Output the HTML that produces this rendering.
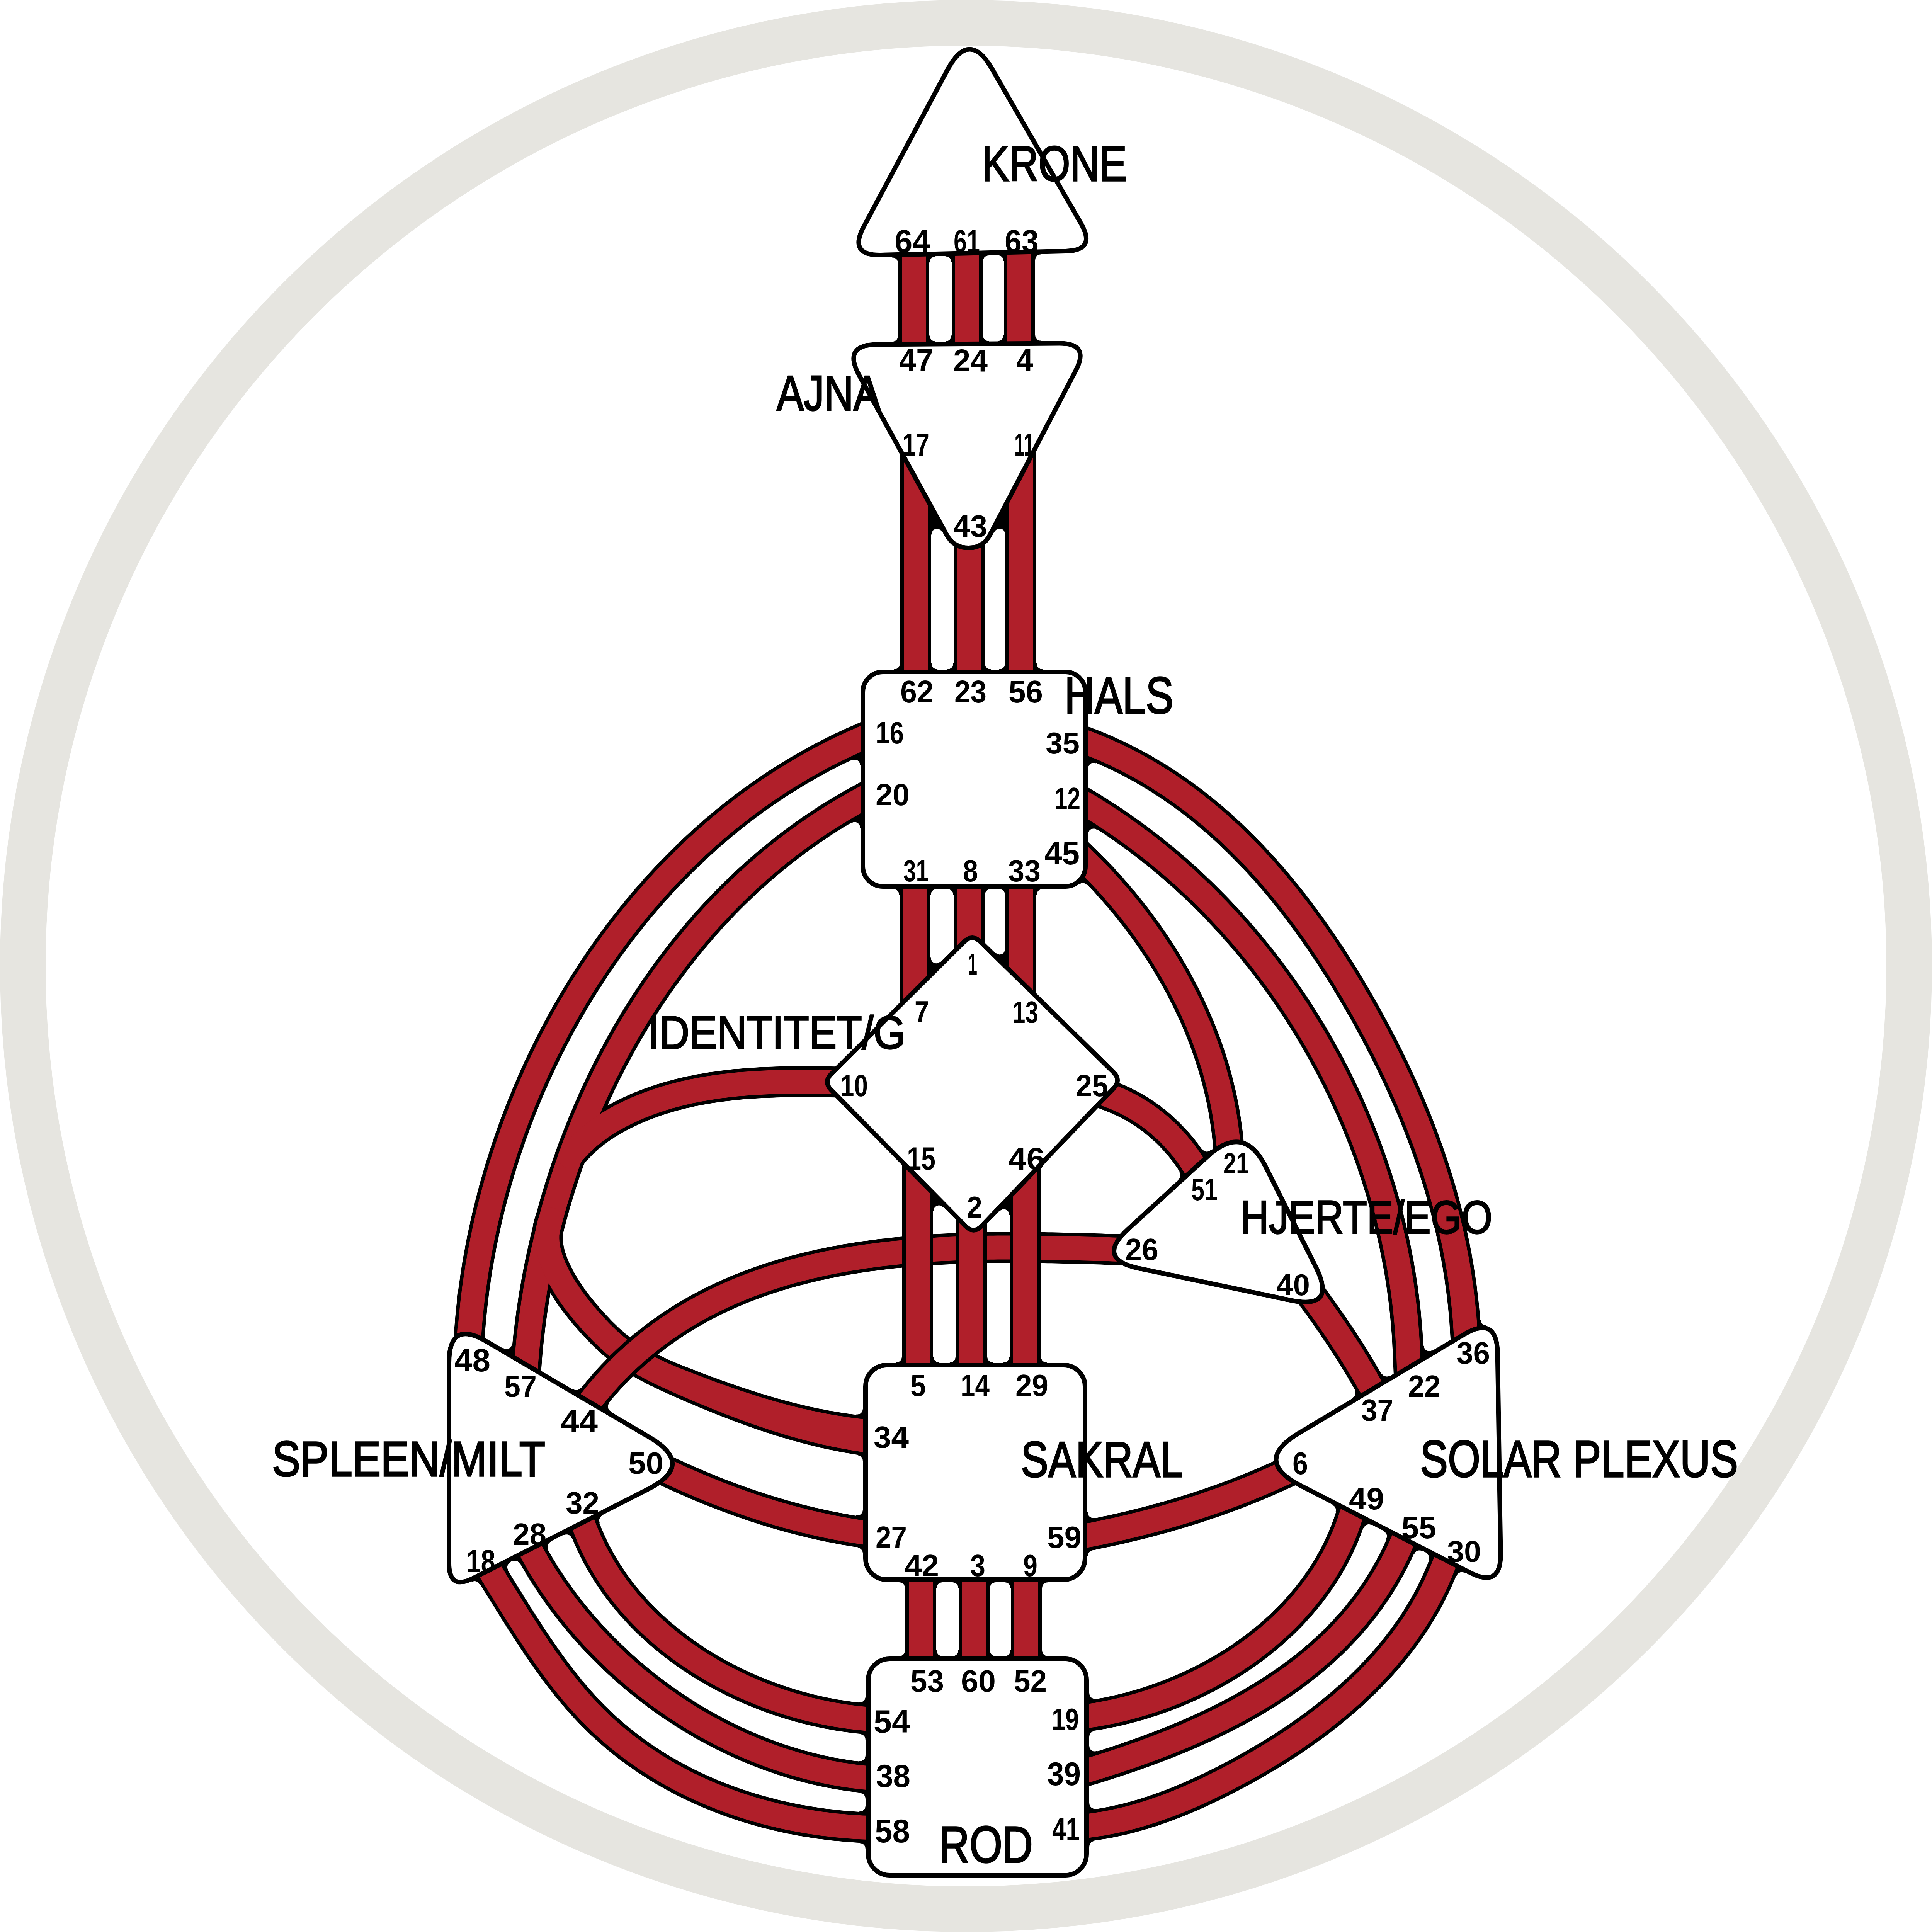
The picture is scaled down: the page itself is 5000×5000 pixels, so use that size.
<!DOCTYPE html>
<html><head><meta charset="utf-8"><style>
html,body{margin:0;padding:0;background:#fff;}
svg{display:block;}
text{font-family:"Liberation Sans",sans-serif;fill:#000;}
</style></head><body>
<svg width="5000" height="5000" viewBox="0 0 5000 5000">
<rect width="5000" height="5000" fill="#fff"/>
<circle cx="2500" cy="2500" r="2441" fill="none" stroke="#e6e5e0" stroke-width="118"/>
<g fill="none" stroke-linecap="butt" stroke-linejoin="round">
<path d="M2285.4 1888.1 L2248.5 1903.5 2239.2 1907.4 2229.9 1911.4 2220.6 1915.4 2211.3 1919.5 2202.1 1923.7 2193 1927.9 2183.8 1932.2 2174.7 1936.5 2165.7 1940.9 2156.6 1945.4 2147.7 1949.9 2138.7 1954.5 2129.8 1959.2 2120.9 1963.9 2112.1 1968.7 2103.3 1973.5 2094.5 1978.4 2085.8 1983.3 2077.1 1988.3 2068.5 1993.4 2059.9 1998.5 2051.3 2003.7 2042.8 2008.9 2034.3 2014.2 2025.8 2019.6 2017.4 2025 2009 2030.4 2000.7 2035.9 1992.4 2041.5 1984.1 2047.1 1975.9 2052.8 1967.7 2058.5 1959.5 2064.3 1951.4 2070.2 1943.3 2076.1 1935.3 2082 1927.3 2088 1919.4 2094 1911.5 2100.1 1903.6 2106.3 1895.7 2112.5 1887.9 2118.7 1880.2 2125 1872.5 2131.4 1864.8 2137.8 1857.2 2144.2 1849.6 2150.7 1842 2157.2 1834.5 2163.8 1827 2170.5 1819.6 2177.2 1812.2 2183.9 1804.8 2190.7 1797.5 2197.5 1790.2 2204.4 1783 2211.3 1775.8 2218.2 1768.7 2225.2 1761.6 2232.3 1754.5 2239.4 1747.5 2246.5 1740.5 2253.7 1733.5 2260.9 1726.6 2268.2 1719.8 2275.5 1713 2282.8 1706.2 2290.2 1699.5 2297.6 1692.8 2305.1 1686.1 2312.6 1679.5 2320.2 1672.9 2327.8 1666.4 2335.4 1659.9 2343.1 1653.5 2350.8 1647.1 2358.5 1640.7 2366.3 1634.4 2374.1 1628.2 2382 1621.9 2389.9 1615.8 2397.8 1609.6 2405.8 1603.5 2413.8 1597.5 2421.8 1591.5 2429.9 1585.5 2438 1579.6 2446.2 1573.7 2454.3 1567.9 2462.5 1562.1 2470.8 1556.3 2479.1 1550.6 2487.4 1545 2495.7 1539.4 2504.1 1533.8 2512.5 1528.3 2520.9 1522.8 2529.4 1517.3 2537.9 1511.9 2546.4 1506.6 2555 1501.3 2563.6 1496 2572.2 1490.8 2580.8 1485.6 2589.5 1480.5 2598.2 1475.4 2607 1470.4 2615.7 1465.4 2624.5 1460.5 2633.3 1455.6 2642.2 1450.7 2651 1445.9 2659.9 1441.2 2668.8 1436.5 2677.8 1431.8 2686.7 1427.2 2695.7 1422.6 2704.7 1418.1 2713.8 1413.6 2722.8 1409.1 2731.9 1404.7 2741 1400.4 2750.2 1396.1 2759.3 1391.8 2768.5 1387.6 2777.7 1383.5 2786.9 1379.4 2796.1 1375.3 2805.4 1371.3 2814.6 1367.3 2823.9 1363.4 2833.2 1359.5 2842.6 1355.7 2851.9 1351.9 2861.3 1348.2 2870.7 1344.5 2880.1 1340.9 2889.5 1337.3 2898.9 1333.7 2908.4 1330.3 2917.8 1326.8 2927.3 1323.4 2936.8 1320.1 2946.3 1316.8 2955.9 1313.5 2965.4 1310.3 2975 1307.2 2984.5 1304.1 2994.1 1301 3003.7 1298 3013.3 1295 3022.9 1292.1 3032.6 1289.3 3042.2 1286.5 3051.9 1283.7 3061.5 1281 3071.2 1278.3 3080.9 1275.7 3090.6 1273.2 3100.3 1270.6 3110 1268.2 3119.7 1265.8 3129.4 1263.4 3139.2 1261.1 3148.9 1258.8 3158.7 1256.6 3168.4 1254.5 3178.2 1252.4 3188 1250.3 3197.7 1248.3 3207.5 1246.3 3217.3 1244.4 3227.1 1242.6 3236.9 1240.8 3246.7 1239 3256.5 1237.3 3266.3 1235.6 3276.1 1234 3285.9 1232.5 3295.7 1231 3305.5 1229.6 3315.4 1228.2 3325.2 1226.8 3335 1225.5 3344.8 1224.3 3354.6 1223.1 3364.5 1222 3374.3 1220.9 3384.1 1219.9 3393.9 1218.9 3403.7 1218 3413.5 1217.1 3423.4 1216.3 3433.2 1215.5 3443 1212.4 3482.8" stroke="#000" stroke-width="80"/>
<path d="M2770.6 1905.9 L2808 1920 2817.5 1923.6 2827 1927.3 2836.4 1931.1 2845.7 1934.9 2855 1938.8 2864.2 1942.9 2873.4 1947 2882.5 1951.2 2891.6 1955.4 2900.6 1959.8 2909.6 1964.2 2918.5 1968.8 2927.3 1973.4 2936.1 1978 2944.9 1982.8 2953.6 1987.6 2962.2 1992.5 2970.8 1997.5 2979.4 2002.6 2987.8 2007.7 2996.3 2012.9 3004.7 2018.2 3013 2023.6 3021.3 2029 3029.5 2034.5 3037.7 2040.1 3045.8 2045.7 3053.9 2051.4 3061.9 2057.2 3069.9 2063 3077.8 2068.9 3085.7 2074.9 3093.6 2080.9 3101.3 2087.1 3109.1 2093.2 3116.8 2099.5 3124.4 2105.8 3132 2112.1 3139.5 2118.5 3147 2125 3154.5 2131.5 3161.9 2138.1 3169.2 2144.8 3176.5 2151.5 3183.8 2158.3 3191 2165.1 3198.2 2172 3205.3 2178.9 3212.4 2185.9 3219.4 2193 3226.4 2200.1 3233.3 2207.2 3240.2 2214.4 3247.1 2221.7 3253.9 2229 3260.7 2236.3 3267.4 2243.7 3274.1 2251.1 3280.7 2258.6 3287.3 2266.2 3293.9 2273.8 3300.4 2281.4 3306.8 2289 3313.3 2296.8 3319.6 2304.5 3326 2312.3 3332.3 2320.2 3338.5 2328 3344.8 2336 3350.9 2343.9 3357.1 2351.9 3363.2 2359.9 3369.2 2368 3375.2 2376.1 3381.2 2384.3 3387.1 2392.4 3393 2400.6 3398.9 2408.9 3404.7 2417.2 3410.5 2425.5 3416.2 2433.8 3421.9 2442.2 3427.6 2450.6 3433.2 2459 3438.8 2467.5 3444.4 2475.9 3449.9 2484.5 3455.4 2493 3460.8 2501.5 3466.2 2510.1 3471.6 2518.7 3477 2527.4 3482.3 2536 3487.5 2544.7 3492.8 2553.4 3498 2562.1 3503.1 2570.9 3508.2 2579.6 3513.3 2588.4 3518.4 2597.2 3523.4 2606 3528.4 2614.8 3533.4 2623.7 3538.3 2632.5 3543.2 2641.4 3548 2650.3 3552.9 2659.2 3557.6 2668.1 3562.4 2677 3567.1 2686 3571.8 2695 3576.4 2704 3581 2713 3585.5 2722 3590.1 2731 3594.5 2740.1 3599 2749.1 3603.4 2758.2 3607.7 2767.3 3612.1 2776.4 3616.3 2785.5 3620.6 2794.7 3624.8 2803.8 3628.9 2813 3633 2822.2 3637.1 2831.4 3641.1 2840.6 3645.1 2849.8 3649.1 2859.1 3653 2868.4 3656.8 2877.6 3660.6 2886.9 3664.4 2896.2 3668.1 2905.5 3671.8 2914.9 3675.4 2924.2 3679 2933.6 3682.5 2943 3686 2952.4 3689.5 2961.8 3692.8 2971.2 3696.2 2980.6 3699.5 2990.1 3702.7 2999.6 3705.9 3009 3709.1 3018.5 3712.2 3028 3715.2 3037.6 3718.2 3047.1 3721.2 3056.6 3724.1 3066.2 3726.9 3075.8 3729.7 3085.4 3732.4 3095 3735.1 3104.6 3737.7 3114.2 3740.3 3123.8 3742.8 3133.5 3745.3 3143.2 3747.7 3152.9 3750.1 3162.6 3752.4 3172.3 3754.6 3182 3756.8 3191.7 3759 3201.5 3761 3211.2 3763.1 3221 3765 3230.8 3766.9 3240.6 3768.8 3250.4 3770.6 3260.2 3772.3 3270.1 3774 3279.9 3775.6 3289.8 3777.2 3299.6 3778.6 3309.5 3780.1 3319.4 3781.5 3329.3 3782.8 3339.3 3784 3349.2 3785.2 3359.1 3786.3 3369.1 3787.4 3379.1 3788.4 3389 3789.3 3399 3790.2 3409 3791 3419.1 3791.7 3429.1 3792.4 3439.1 3795.1 3479" stroke="#000" stroke-width="80"/>
<path d="M2771.1 2057.8 L2805.5 2078.3 2814.1 2083.4 2822.7 2088.6 2831.3 2093.9 2839.8 2099.2 2848.3 2104.5 2856.7 2109.9 2865.1 2115.4 2873.5 2120.9 2881.8 2126.5 2890.1 2132.1 2898.4 2137.8 2906.6 2143.5 2914.8 2149.3 2922.9 2155.1 2931.1 2161 2939.1 2166.9 2947.2 2172.9 2955.2 2178.9 2963.2 2185 2971.1 2191.1 2979 2197.3 2986.8 2203.5 2994.7 2209.8 3002.4 2216.1 3010.2 2222.5 3017.9 2228.9 3025.5 2235.4 3033.2 2241.9 3040.7 2248.4 3048.3 2255 3055.8 2261.7 3063.3 2268.4 3070.7 2275.1 3078.1 2281.9 3085.4 2288.8 3092.7 2295.6 3100 2302.6 3107.2 2309.5 3114.4 2316.5 3121.5 2323.6 3128.7 2330.7 3135.7 2337.8 3142.7 2345 3149.7 2352.2 3156.7 2359.5 3163.5 2366.8 3170.4 2374.1 3177.2 2381.5 3184 2388.9 3190.7 2396.4 3197.4 2403.9 3204 2411.4 3210.6 2419 3217.2 2426.6 3223.7 2434.3 3230.2 2442 3236.6 2449.7 3243 2457.5 3249.3 2465.3 3255.6 2473.1 3261.9 2481 3268.1 2488.9 3274.2 2496.9 3280.4 2504.9 3286.4 2512.9 3292.5 2521 3298.4 2529.1 3304.4 2537.2 3310.3 2545.4 3316.1 2553.6 3321.9 2561.8 3327.7 2570.1 3333.4 2578.4 3339.1 2586.7 3344.7 2595 3350.2 2603.4 3355.8 2611.9 3361.2 2620.3 3366.7 2628.8 3372.1 2637.3 3377.4 2645.9 3382.7 2654.4 3387.9 2663.1 3393.1 2671.7 3398.3 2680.4 3403.4 2689 3408.4 2697.8 3413.4 2706.5 3418.4 2715.3 3423.3 2724.1 3428.1 2732.9 3432.9 2741.8 3437.7 2750.7 3442.4 2759.6 3447 2768.5 3451.7 2777.5 3456.2 2786.5 3460.7 2795.5 3465.2 2804.5 3469.6 2813.6 3473.9 2822.7 3478.3 2831.8 3482.5 2840.9 3486.7 2850.1 3490.9 2859.2 3495 2868.4 3499 2877.7 3503 2886.9 3507 2896.2 3510.9 2905.5 3514.7 2914.8 3518.5 2924.1 3522.2 2933.4 3525.9 2942.8 3529.6 2952.2 3533.2 2961.6 3536.7 2971 3540.2 2980.5 3543.6 2989.9 3547 2999.4 3550.3 3008.9 3553.5 3018.4 3556.7 3027.9 3559.9 3037.5 3563 3047.1 3566 3056.6 3569 3066.2 3572 3075.8 3574.9 3085.5 3577.7 3095.1 3580.5 3104.8 3583.2 3114.4 3585.8 3124.1 3588.4 3133.8 3591 3143.5 3593.5 3153.2 3595.9 3163 3598.3 3172.7 3600.6 3182.5 3602.9 3192.3 3605.1 3202 3607.3 3211.8 3609.4 3221.6 3611.4 3231.5 3613.4 3241.3 3615.3 3251.1 3617.2 3261 3619 3270.8 3620.8 3280.7 3622.5 3290.5 3624.1 3300.4 3625.7 3310.3 3627.2 3320.2 3628.7 3330.1 3630.1 3340 3631.4 3349.9 3632.7 3359.8 3633.9 3369.8 3635.1 3379.7 3636.2 3389.6 3637.2 3399.6 3638.2 3409.5 3639.1 3419.5 3640 3429.4 3640.8 3439.4 3641.6 3449.4 3642.2 3459.3 3642.9 3469.3 3643.4 3479.3 3643.9 3489.2 3644.4 3499.2 3647.9 3579.1" stroke="#000" stroke-width="80"/>
<path d="M2777.1 2196.6 L2805.7 2224.6 2812.9 2231.6 2820 2238.6 2827 2245.7 2834 2252.8 2841 2260.1 2847.9 2267.3 2854.8 2274.6 2861.6 2282 2868.3 2289.4 2875.1 2296.9 2881.7 2304.5 2888.3 2312 2894.9 2319.7 2901.4 2327.4 2907.9 2335.1 2914.3 2342.9 2920.6 2350.8 2926.9 2358.7 2933.1 2366.6 2939.3 2374.6 2945.4 2382.6 2951.5 2390.7 2957.5 2398.9 2963.4 2407.1 2969.3 2415.3 2975.1 2423.6 2980.8 2431.9 2986.5 2440.3 2992.1 2448.7 2997.7 2457.2 3003.2 2465.7 3008.6 2474.2 3013.9 2482.8 3019.2 2491.4 3024.4 2500.1 3029.6 2508.8 3034.7 2517.6 3039.7 2526.3 3044.6 2535.2 3049.4 2544 3054.2 2553 3058.9 2561.9 3063.6 2570.9 3068.1 2579.9 3072.6 2589 3077 2598.1 3081.3 2607.2 3085.6 2616.3 3089.8 2625.5 3093.8 2634.8 3097.8 2644 3101.8 2653.3 3105.6 2662.7 3109.4 2672 3113 2681.4 3116.6 2690.8 3120.1 2700.3 3123.5 2709.8 3126.9 2719.3 3130.1 2728.8 3133.3 2738.4 3136.3 2748 3139.3 2757.6 3142.2 2767.2 3144.9 2776.9 3147.6 2786.6 3150.2 2796.3 3152.7 2806.1 3155.1 2815.9 3157.5 2825.7 3159.7 2835.5 3161.8 2845.3 3163.8 2855.2 3165.7 2865.1 3167.6 2875 3169.3 2884.9 3170.9 2894.9 3172.4 2904.8 3173.8 2914.8 3175.2 2924.8 3176.4 2934.8 3177.5 2944.9 3178.5 2954.9 3182.4 2994.7" stroke="#000" stroke-width="80"/>
<path d="M2836.7 2822.5 L2874 2837 2883.4 2840.7 2892.8 2844.6 2902 2848.7 2911.1 2853 2920.1 2857.6 2929 2862.3 2937.8 2867.3 2946.4 2872.5 2954.9 2877.9 2963.3 2883.4 2971.6 2889.2 2979.7 2895.2 2987.7 2901.3 2995.5 2907.6 3003.2 2914.1 3010.7 2920.8 3018.1 2927.6 3025.3 2934.6 3032.3 2941.8 3039.2 2949.1 3045.9 2956.6 3052.5 2964.3 3058.9 2972 3065.1 2980 3071.1 2988 3076.9 2996.2 3082.5 3004.5 3088 3013 3109.7 3046.6" stroke="#000" stroke-width="80"/>
<path d="M3376.5 3328.6 L3400 3361 3405.9 3369.2 3411.8 3377.3 3417.6 3385.5 3423.5 3393.7 3429.3 3401.9 3435.1 3410.2 3440.8 3418.4 3446.5 3426.7 3452.2 3435 3457.9 3443.4 3463.5 3451.7 3469.1 3460.1 3474.6 3468.5 3480.1 3476.9 3485.6 3485.3 3491.1 3493.8 3496.5 3502.3 3501.8 3510.8 3507.1 3519.4 3512.4 3527.9 3517.6 3536.5 3522.8 3545.2 3527.9 3553.8 3533 3562.5 3538 3571.2 3543 3580 3562.8 3614.8" stroke="#000" stroke-width="80"/>
<path d="M1698.8 3794.9 L1735.1 3811.7 1744.2 3815.9 1753.3 3820.1 1762.4 3824.2 1771.5 3828.3 1780.7 3832.3 1789.9 3836.3 1799.1 3840.3 1808.3 3844.2 1817.5 3848.1 1826.8 3851.9 1836 3855.7 1845.3 3859.4 1854.6 3863.1 1863.9 3866.7 1873.3 3870.3 1882.6 3873.8 1892 3877.3 1901.4 3880.8 1910.8 3884.2 1920.2 3887.5 1929.7 3890.8 1939.1 3894.1 1948.6 3897.3 1958.1 3900.4 1967.6 3903.5 1977.1 3906.6 1986.6 3909.5 1996.2 3912.5 2005.8 3915.4 2015.4 3918.2 2025 3920.9 2034.6 3923.7 2044.2 3926.3 2053.9 3928.9 2063.5 3931.5 2073.2 3933.9 2082.9 3936.4 2092.6 3938.7 2102.3 3941.1 2112.1 3943.3 2121.8 3945.5 2131.6 3947.6 2141.4 3949.7 2151.2 3951.7 2161 3953.6 2170.8 3955.5 2180.7 3957.3 2190.5 3959.1 2200.4 3960.8 2210.3 3962.4 2220.2 3964 2230.1 3965.5 2240 3966.9 2279.6 3972.6" stroke="#000" stroke-width="80"/>
<path d="M1497.4 3913.1 L1511.7 3950.5 1515.4 3960 1519.2 3969.4 1523.1 3978.8 1527.2 3988 1531.4 3997.2 1535.7 4006.3 1540.2 4015.3 1544.9 4024.2 1549.6 4033.1 1554.5 4041.8 1559.5 4050.5 1564.7 4059.1 1570 4067.6 1575.4 4076 1580.9 4084.4 1586.6 4092.6 1592.3 4100.8 1598.2 4108.9 1604.2 4116.9 1610.3 4124.8 1616.6 4132.6 1622.9 4140.3 1629.4 4148 1636 4155.5 1642.6 4163 1649.4 4170.4 1656.3 4177.7 1663.3 4184.9 1670.3 4192 1677.5 4199 1684.8 4206 1692.2 4212.8 1699.6 4219.6 1707.2 4226.3 1714.8 4232.8 1722.5 4239.3 1730.3 4245.7 1738.2 4252 1746.2 4258.2 1754.3 4264.3 1762.4 4270.4 1770.6 4276.3 1778.9 4282.1 1787.2 4287.9 1795.7 4293.5 1804.2 4299.1 1812.7 4304.6 1821.4 4309.9 1830.1 4315.2 1838.8 4320.4 1847.6 4325.5 1856.5 4330.5 1865.5 4335.3 1874.4 4340.1 1883.5 4344.8 1892.6 4349.4 1901.7 4353.9 1910.9 4358.3 1920.2 4362.7 1929.5 4366.9 1938.8 4371 1948.1 4375 1957.6 4378.9 1967 4382.7 1976.5 4386.4 1986 4390.1 1995.6 4393.6 2005.1 4397 2014.7 4400.3 2024.4 4403.5 2034.1 4406.6 2043.7 4409.6 2053.4 4412.6 2063.2 4415.4 2072.9 4418.1 2082.7 4420.7 2092.5 4423.2 2102.3 4425.6 2112.1 4427.9 2121.9 4430 2131.7 4432.1 2141.5 4434.1 2151.4 4436 2161.2 4437.8 2171 4439.4 2180.9 4441 2190.7 4442.4 2200.5 4443.8 2210.4 4445 2220.2 4446.2 2230 4447.2 2239.8 4448.1 2279.6 4451.8" stroke="#000" stroke-width="80"/>
<path d="M1358.9 3986.9 L1378.4 4021.9 1383.2 4030.5 1388.1 4039.1 1393.1 4047.6 1398.1 4056.2 1403.3 4064.6 1408.5 4073.1 1413.8 4081.5 1419.2 4089.8 1424.7 4098.1 1430.3 4106.4 1435.9 4114.6 1441.6 4122.7 1447.5 4130.9 1453.3 4138.9 1459.3 4147 1465.3 4155 1471.4 4162.9 1477.6 4170.8 1483.9 4178.6 1490.2 4186.4 1496.6 4194.1 1503.1 4201.8 1509.6 4209.4 1516.3 4217 1522.9 4224.5 1529.7 4232 1536.5 4239.4 1543.4 4246.8 1550.4 4254.1 1557.4 4261.3 1564.5 4268.5 1571.7 4275.6 1578.9 4282.7 1586.2 4289.7 1593.5 4296.7 1600.9 4303.5 1608.4 4310.4 1615.9 4317.1 1623.5 4323.9 1631.2 4330.5 1638.9 4337.1 1646.6 4343.6 1654.4 4350 1662.3 4356.4 1670.3 4362.8 1678.2 4369 1686.3 4375.2 1694.4 4381.3 1702.5 4387.4 1710.7 4393.4 1719 4399.3 1727.3 4405.1 1735.6 4410.9 1744 4416.6 1752.5 4422.2 1760.9 4427.8 1769.5 4433.3 1778.1 4438.7 1786.7 4444 1795.4 4449.3 1804.1 4454.5 1812.8 4459.6 1821.6 4464.6 1830.5 4469.6 1839.4 4474.4 1848.3 4479.2 1857.3 4484 1866.3 4488.6 1875.3 4493.2 1884.4 4497.6 1893.5 4502 1902.6 4506.3 1911.8 4510.6 1921 4514.7 1930.3 4518.8 1939.6 4522.8 1948.9 4526.7 1958.2 4530.5 1967.6 4534.2 1977 4537.8 1986.4 4541.4 1995.9 4544.8 2005.4 4548.2 2014.9 4551.5 2024.4 4554.6 2034 4557.7 2043.6 4560.7 2053.2 4563.7 2062.9 4566.5 2072.5 4569.2 2082.2 4571.8 2091.9 4574.4 2101.6 4576.8 2111.4 4579.2 2121.1 4581.4 2130.9 4583.6 2140.7 4585.6 2150.5 4587.6 2160.4 4589.4 2170.2 4591.2 2180.1 4592.8 2189.9 4594.4 2199.8 4595.8 2209.7 4597.2 2219.6 4598.4 2229.5 4599.6 2239.5 4600.6 2279.3 4604.8" stroke="#000" stroke-width="80"/>
<path d="M1257.5 4048.7 L1278.6 4082.7 1283.8 4091.1 1289 4099.4 1294.2 4107.9 1299.4 4116.3 1304.6 4124.7 1309.9 4133.2 1315.1 4141.7 1320.4 4150.2 1325.7 4158.7 1331 4167.2 1336.4 4175.7 1341.7 4184.2 1347.1 4192.7 1352.6 4201.2 1358 4209.7 1363.5 4218.2 1369 4226.7 1374.6 4235.1 1380.1 4243.6 1385.8 4252 1391.4 4260.4 1397.1 4268.8 1402.9 4277.1 1408.6 4285.4 1414.5 4293.7 1420.3 4301.9 1426.3 4310.1 1432.2 4318.3 1438.2 4326.4 1444.3 4334.5 1450.4 4342.5 1456.6 4350.4 1462.9 4358.3 1469.1 4366.2 1475.5 4374 1481.9 4381.7 1488.4 4389.3 1494.9 4396.9 1501.5 4404.4 1508.2 4411.9 1515 4419.2 1521.8 4426.5 1528.7 4433.7 1535.6 4440.8 1542.7 4447.8 1549.8 4454.7 1556.9 4461.6 1564.2 4468.3 1571.5 4475 1578.9 4481.6 1586.4 4488.1 1593.9 4494.5 1601.5 4500.8 1609.2 4507 1616.9 4513.2 1624.7 4519.2 1632.6 4525.2 1640.5 4531 1648.5 4536.8 1656.6 4542.5 1664.7 4548.1 1672.8 4553.7 1681.1 4559.1 1689.4 4564.5 1697.7 4569.7 1706.1 4574.9 1714.6 4580 1723.1 4585 1731.7 4589.9 1740.3 4594.8 1749 4599.5 1757.7 4604.2 1766.5 4608.8 1775.3 4613.3 1784.2 4617.7 1793.1 4622 1802.1 4626.2 1811.1 4630.4 1820.2 4634.4 1829.3 4638.4 1838.4 4642.3 1847.6 4646.1 1856.9 4649.8 1866.1 4653.5 1875.5 4657 1884.8 4660.5 1894.2 4663.9 1903.7 4667.2 1913.1 4670.4 1922.6 4673.5 1932.2 4676.6 1941.8 4679.6 1951.4 4682.4 1961 4685.2 1970.7 4687.9 1980.4 4690.6 1990.1 4693.1 1999.9 4695.6 2009.7 4698 2019.5 4700.3 2029.4 4702.5 2039.2 4704.6 2049.1 4706.6 2059 4708.6 2069 4710.5 2079 4712.3 2088.9 4714 2099 4715.6 2109 4717.2 2119 4718.6 2129.1 4720 2139.2 4721.3 2149.3 4722.5 2159.4 4723.7 2169.5 4724.7 2179.7 4725.7 2189.8 4726.6 2200 4727.4 2210.2 4728.1 2220.3 4728.8 2230.5 4729.4 2240.7 4729.8 2280.7 4731.7" stroke="#000" stroke-width="80"/>
<path d="M2778.8 3980.7 L2818 3973 2827.9 3971.1 2837.7 3969.1 2847.5 3967.1 2857.4 3965 2867.2 3962.9 2877 3960.8 2886.8 3958.7 2896.6 3956.5 2906.4 3954.2 2916.2 3951.9 2926 3949.6 2935.7 3947.2 2945.5 3944.8 2955.2 3942.4 2965 3939.9 2974.7 3937.4 2984.4 3934.8 2994.1 3932.2 3003.8 3929.6 3013.5 3926.9 3023.1 3924.2 3032.8 3921.4 3042.4 3918.6 3052.1 3915.7 3061.7 3912.8 3071.3 3909.8 3080.9 3906.8 3090.4 3903.8 3100 3900.7 3109.5 3897.6 3119.1 3894.4 3128.6 3891.2 3138.1 3887.9 3147.6 3884.6 3157 3881.3 3166.5 3877.9 3175.9 3874.4 3185.3 3870.9 3194.7 3867.4 3204.1 3863.8 3213.5 3860.1 3222.8 3856.4 3232.1 3852.7 3241.4 3848.9 3250.7 3845.1 3260 3841.2 3269.2 3837.2 3278.4 3833.3 3287.7 3829.2 3296.8 3825.1 3306 3821 3342.5 3804.5" stroke="#000" stroke-width="80"/>
<path d="M3506.3 3894.2 L3493.4 3932.1 3490.1 3941.8 3486.7 3951.4 3483.1 3960.9 3479.3 3970.4 3475.4 3979.8 3471.4 3989 3467.2 3998.2 3462.9 4007.4 3458.4 4016.4 3453.8 4025.3 3449 4034.2 3444.1 4043 3439.1 4051.7 3434 4060.3 3428.7 4068.8 3423.3 4077.3 3417.8 4085.7 3412.1 4093.9 3406.3 4102.1 3400.4 4110.2 3394.4 4118.2 3388.3 4126.2 3382 4134 3375.7 4141.7 3369.2 4149.4 3362.6 4157 3355.9 4164.5 3349.2 4171.9 3342.3 4179.2 3335.3 4186.4 3328.2 4193.5 3321 4200.5 3313.7 4207.5 3306.3 4214.3 3298.8 4221.1 3291.2 4227.8 3283.6 4234.4 3275.8 4240.9 3268 4247.2 3260.1 4253.5 3252.1 4259.8 3244 4265.9 3235.9 4271.9 3227.6 4277.8 3219.3 4283.7 3211 4289.4 3202.5 4295 3194 4300.6 3185.4 4306 3176.8 4311.4 3168.1 4316.6 3159.3 4321.8 3150.5 4326.9 3141.6 4331.8 3132.6 4336.7 3123.7 4341.5 3114.6 4346.1 3105.5 4350.7 3096.4 4355.2 3087.2 4359.6 3077.9 4363.9 3068.7 4368 3059.3 4372.1 3050 4376.1 3040.6 4380 3031.1 4383.7 3021.7 4387.4 3012.2 4391 3002.7 4394.4 2993.1 4397.8 2983.5 4401.1 2973.9 4404.2 2964.3 4407.3 2954.6 4410.2 2945 4413.1 2935.3 4415.8 2925.6 4418.5 2915.9 4421 2906.2 4423.4 2896.4 4425.8 2886.7 4428 2877 4430.1 2867.2 4432.1 2857.5 4434 2847.7 4435.8 2838 4437.5 2828.2 4439.1 2818.5 4440.5 2778.9 4446.5" stroke="#000" stroke-width="80"/>
<path d="M3642 3961.6 L3625.7 3998.2 3621.4 4007.8 3617 4017.4 3612.5 4026.9 3607.8 4036.2 3603.1 4045.5 3598.3 4054.6 3593.3 4063.7 3588.2 4072.7 3583.1 4081.6 3577.8 4090.3 3572.4 4099 3567 4107.6 3561.4 4116.1 3555.7 4124.5 3550 4132.9 3544.1 4141.1 3538.1 4149.2 3532.1 4157.3 3525.9 4165.2 3519.7 4173.1 3513.4 4180.9 3507 4188.6 3500.5 4196.2 3493.9 4203.7 3487.2 4211.1 3480.5 4218.5 3473.6 4225.8 3466.7 4232.9 3459.7 4240.1 3452.7 4247.1 3445.5 4254 3438.3 4260.9 3431 4267.7 3423.6 4274.4 3416.2 4281 3408.6 4287.5 3401.1 4294 3393.4 4300.4 3385.7 4306.7 3377.9 4313 3370 4319.1 3362.1 4325.2 3354.1 4331.3 3346.1 4337.2 3338 4343.1 3329.8 4348.9 3321.6 4354.6 3313.4 4360.3 3305 4365.9 3296.7 4371.4 3288.2 4376.9 3279.7 4382.3 3271.2 4387.6 3262.6 4392.9 3254 4398.1 3245.3 4403.2 3236.6 4408.3 3227.8 4413.3 3219 4418.2 3210.2 4423.1 3201.3 4428 3192.3 4432.7 3183.4 4437.4 3174.4 4442.1 3165.3 4446.6 3156.3 4451.2 3147.2 4455.6 3138 4460 3128.9 4464.4 3119.7 4468.7 3110.5 4472.9 3101.2 4477.1 3091.9 4481.3 3082.6 4485.4 3073.3 4489.4 3064 4493.4 3054.6 4497.3 3045.2 4501.2 3035.8 4505 3026.4 4508.8 3017 4512.6 3007.5 4516.2 2998.1 4519.9 2988.6 4523.5 2979.1 4527 2969.7 4530.5 2960.2 4534 2950.7 4537.4 2941.1 4540.8 2931.6 4544.1 2922.1 4547.4 2912.6 4550.7 2903.1 4553.9 2893.6 4557.1 2884.1 4560.2 2874.5 4563.3 2865 4566.4 2855.5 4569.4 2846 4572.4 2836.6 4575.3 2827.1 4578.2 2817.6 4581.1 2779.3 4592.8" stroke="#000" stroke-width="80"/>
<path d="M3749 4019.6 L3734.1 4056.7 3730.3 4066.1 3726.4 4075.4 3722.4 4084.6 3718.3 4093.7 3714.1 4102.8 3709.7 4111.8 3705.3 4120.8 3700.7 4129.7 3696.1 4138.5 3691.3 4147.3 3686.4 4155.9 3681.4 4164.6 3676.3 4173.1 3671.1 4181.6 3665.8 4190 3660.5 4198.4 3655 4206.7 3649.4 4214.9 3643.7 4223 3637.9 4231.1 3632 4239.2 3626.1 4247.1 3620 4255 3613.9 4262.9 3607.7 4270.7 3601.3 4278.4 3594.9 4286 3588.5 4293.6 3581.9 4301.1 3575.2 4308.6 3568.5 4316 3561.7 4323.3 3554.8 4330.6 3547.9 4337.8 3540.8 4345 3533.7 4352.1 3526.5 4359.1 3519.3 4366.1 3512 4373 3504.6 4379.9 3497.1 4386.7 3489.6 4393.4 3482 4400.1 3474.3 4406.7 3466.6 4413.3 3458.9 4419.8 3451 4426.2 3443.1 4432.6 3435.2 4438.9 3427.2 4445.2 3419.2 4451.4 3411 4457.6 3402.9 4463.7 3394.7 4469.7 3386.4 4475.7 3378.1 4481.6 3369.8 4487.5 3361.4 4493.3 3352.9 4499.1 3344.5 4504.8 3336 4510.5 3327.4 4516.1 3318.8 4521.6 3310.2 4527.1 3301.5 4532.6 3292.8 4538 3284.1 4543.3 3275.3 4548.6 3266.5 4553.8 3257.7 4559 3248.8 4564.1 3239.9 4569.2 3231 4574.2 3222.1 4579.2 3213.1 4584.1 3204.2 4588.9 3195.2 4593.8 3186.2 4598.5 3177.1 4603.2 3168.1 4607.9 3159 4612.5 3149.9 4617 3140.8 4621.5 3131.7 4625.9 3122.6 4630.3 3113.4 4634.6 3104.2 4638.8 3095 4643 3085.8 4647.1 3076.6 4651.1 3067.3 4655 3058.1 4658.9 3048.8 4662.7 3039.5 4666.4 3030.1 4670 3020.8 4673.5 3011.4 4677 3002 4680.3 2992.6 4683.6 2983.2 4686.8 2973.7 4689.8 2964.2 4692.8 2954.7 4695.7 2945.2 4698.5 2935.7 4701.2 2926.1 4703.8 2916.6 4706.2 2907 4708.6 2897.3 4710.8 2887.7 4713 2878 4715 2868.4 4716.9 2858.7 4718.7 2848.9 4720.4 2839.2 4721.9 2829.4 4723.4 2819.6 4724.7 2780 4730" stroke="#000" stroke-width="80"/>
<path d="M2285.4 1888.1 L2248.5 1903.5 2239.2 1907.4 2229.9 1911.4 2220.6 1915.4 2211.3 1919.5 2202.1 1923.7 2193 1927.9 2183.8 1932.2 2174.7 1936.5 2165.7 1940.9 2156.6 1945.4 2147.7 1949.9 2138.7 1954.5 2129.8 1959.2 2120.9 1963.9 2112.1 1968.7 2103.3 1973.5 2094.5 1978.4 2085.8 1983.3 2077.1 1988.3 2068.5 1993.4 2059.9 1998.5 2051.3 2003.7 2042.8 2008.9 2034.3 2014.2 2025.8 2019.6 2017.4 2025 2009 2030.4 2000.7 2035.9 1992.4 2041.5 1984.1 2047.1 1975.9 2052.8 1967.7 2058.5 1959.5 2064.3 1951.4 2070.2 1943.3 2076.1 1935.3 2082 1927.3 2088 1919.4 2094 1911.5 2100.1 1903.6 2106.3 1895.7 2112.5 1887.9 2118.7 1880.2 2125 1872.5 2131.4 1864.8 2137.8 1857.2 2144.2 1849.6 2150.7 1842 2157.2 1834.5 2163.8 1827 2170.5 1819.6 2177.2 1812.2 2183.9 1804.8 2190.7 1797.5 2197.5 1790.2 2204.4 1783 2211.3 1775.8 2218.2 1768.7 2225.2 1761.6 2232.3 1754.5 2239.4 1747.5 2246.5 1740.5 2253.7 1733.5 2260.9 1726.6 2268.2 1719.8 2275.5 1713 2282.8 1706.2 2290.2 1699.5 2297.6 1692.8 2305.1 1686.1 2312.6 1679.5 2320.2 1672.9 2327.8 1666.4 2335.4 1659.9 2343.1 1653.5 2350.8 1647.1 2358.5 1640.7 2366.3 1634.4 2374.1 1628.2 2382 1621.9 2389.9 1615.8 2397.8 1609.6 2405.8 1603.5 2413.8 1597.5 2421.8 1591.5 2429.9 1585.5 2438 1579.6 2446.2 1573.7 2454.3 1567.9 2462.5 1562.1 2470.8 1556.3 2479.1 1550.6 2487.4 1545 2495.7 1539.4 2504.1 1533.8 2512.5 1528.3 2520.9 1522.8 2529.4 1517.3 2537.9 1511.9 2546.4 1506.6 2555 1501.3 2563.6 1496 2572.2 1490.8 2580.8 1485.6 2589.5 1480.5 2598.2 1475.4 2607 1470.4 2615.7 1465.4 2624.5 1460.5 2633.3 1455.6 2642.2 1450.7 2651 1445.9 2659.9 1441.2 2668.8 1436.5 2677.8 1431.8 2686.7 1427.2 2695.7 1422.6 2704.7 1418.1 2713.8 1413.6 2722.8 1409.1 2731.9 1404.7 2741 1400.4 2750.2 1396.1 2759.3 1391.8 2768.5 1387.6 2777.7 1383.5 2786.9 1379.4 2796.1 1375.3 2805.4 1371.3 2814.6 1367.3 2823.9 1363.4 2833.2 1359.5 2842.6 1355.7 2851.9 1351.9 2861.3 1348.2 2870.7 1344.5 2880.1 1340.9 2889.5 1337.3 2898.9 1333.7 2908.4 1330.3 2917.8 1326.8 2927.3 1323.4 2936.8 1320.1 2946.3 1316.8 2955.9 1313.5 2965.4 1310.3 2975 1307.2 2984.5 1304.1 2994.1 1301 3003.7 1298 3013.3 1295 3022.9 1292.1 3032.6 1289.3 3042.2 1286.5 3051.9 1283.7 3061.5 1281 3071.2 1278.3 3080.9 1275.7 3090.6 1273.2 3100.3 1270.6 3110 1268.2 3119.7 1265.8 3129.4 1263.4 3139.2 1261.1 3148.9 1258.8 3158.7 1256.6 3168.4 1254.5 3178.2 1252.4 3188 1250.3 3197.7 1248.3 3207.5 1246.3 3217.3 1244.4 3227.1 1242.6 3236.9 1240.8 3246.7 1239 3256.5 1237.3 3266.3 1235.6 3276.1 1234 3285.9 1232.5 3295.7 1231 3305.5 1229.6 3315.4 1228.2 3325.2 1226.8 3335 1225.5 3344.8 1224.3 3354.6 1223.1 3364.5 1222 3374.3 1220.9 3384.1 1219.9 3393.9 1218.9 3403.7 1218 3413.5 1217.1 3423.4 1216.3 3433.2 1215.5 3443 1212.4 3482.8" stroke="#b01f2a" stroke-width="62"/>
<path d="M2770.6 1905.9 L2808 1920 2817.5 1923.6 2827 1927.3 2836.4 1931.1 2845.7 1934.9 2855 1938.8 2864.2 1942.9 2873.4 1947 2882.5 1951.2 2891.6 1955.4 2900.6 1959.8 2909.6 1964.2 2918.5 1968.8 2927.3 1973.4 2936.1 1978 2944.9 1982.8 2953.6 1987.6 2962.2 1992.5 2970.8 1997.5 2979.4 2002.6 2987.8 2007.7 2996.3 2012.9 3004.7 2018.2 3013 2023.6 3021.3 2029 3029.5 2034.5 3037.7 2040.1 3045.8 2045.7 3053.9 2051.4 3061.9 2057.2 3069.9 2063 3077.8 2068.9 3085.7 2074.9 3093.6 2080.9 3101.3 2087.1 3109.1 2093.2 3116.8 2099.5 3124.4 2105.8 3132 2112.1 3139.5 2118.5 3147 2125 3154.5 2131.5 3161.9 2138.1 3169.2 2144.8 3176.5 2151.5 3183.8 2158.3 3191 2165.1 3198.2 2172 3205.3 2178.9 3212.4 2185.9 3219.4 2193 3226.4 2200.1 3233.3 2207.2 3240.2 2214.4 3247.1 2221.7 3253.9 2229 3260.7 2236.3 3267.4 2243.7 3274.1 2251.1 3280.7 2258.6 3287.3 2266.2 3293.9 2273.8 3300.4 2281.4 3306.8 2289 3313.3 2296.8 3319.6 2304.5 3326 2312.3 3332.3 2320.2 3338.5 2328 3344.8 2336 3350.9 2343.9 3357.1 2351.9 3363.2 2359.9 3369.2 2368 3375.2 2376.1 3381.2 2384.3 3387.1 2392.4 3393 2400.6 3398.9 2408.9 3404.7 2417.2 3410.5 2425.5 3416.2 2433.8 3421.9 2442.2 3427.6 2450.6 3433.2 2459 3438.8 2467.5 3444.4 2475.9 3449.9 2484.5 3455.4 2493 3460.8 2501.5 3466.2 2510.1 3471.6 2518.7 3477 2527.4 3482.3 2536 3487.5 2544.7 3492.8 2553.4 3498 2562.1 3503.1 2570.9 3508.2 2579.6 3513.3 2588.4 3518.4 2597.2 3523.4 2606 3528.4 2614.8 3533.4 2623.7 3538.3 2632.5 3543.2 2641.4 3548 2650.3 3552.9 2659.2 3557.6 2668.1 3562.4 2677 3567.1 2686 3571.8 2695 3576.4 2704 3581 2713 3585.5 2722 3590.1 2731 3594.5 2740.1 3599 2749.1 3603.4 2758.2 3607.7 2767.3 3612.1 2776.4 3616.3 2785.5 3620.6 2794.7 3624.8 2803.8 3628.9 2813 3633 2822.2 3637.1 2831.4 3641.1 2840.6 3645.1 2849.8 3649.1 2859.1 3653 2868.4 3656.8 2877.6 3660.6 2886.9 3664.4 2896.2 3668.1 2905.5 3671.8 2914.9 3675.4 2924.2 3679 2933.6 3682.5 2943 3686 2952.4 3689.5 2961.8 3692.8 2971.2 3696.2 2980.6 3699.5 2990.1 3702.7 2999.6 3705.9 3009 3709.1 3018.5 3712.2 3028 3715.2 3037.6 3718.2 3047.1 3721.2 3056.6 3724.1 3066.2 3726.9 3075.8 3729.7 3085.4 3732.4 3095 3735.1 3104.6 3737.7 3114.2 3740.3 3123.8 3742.8 3133.5 3745.3 3143.2 3747.7 3152.9 3750.1 3162.6 3752.4 3172.3 3754.6 3182 3756.8 3191.7 3759 3201.5 3761 3211.2 3763.1 3221 3765 3230.8 3766.9 3240.6 3768.8 3250.4 3770.6 3260.2 3772.3 3270.1 3774 3279.9 3775.6 3289.8 3777.2 3299.6 3778.6 3309.5 3780.1 3319.4 3781.5 3329.3 3782.8 3339.3 3784 3349.2 3785.2 3359.1 3786.3 3369.1 3787.4 3379.1 3788.4 3389 3789.3 3399 3790.2 3409 3791 3419.1 3791.7 3429.1 3792.4 3439.1 3795.1 3479" stroke="#b01f2a" stroke-width="62"/>
<path d="M2771.1 2057.8 L2805.5 2078.3 2814.1 2083.4 2822.7 2088.6 2831.3 2093.9 2839.8 2099.2 2848.3 2104.5 2856.7 2109.9 2865.1 2115.4 2873.5 2120.9 2881.8 2126.5 2890.1 2132.1 2898.4 2137.8 2906.6 2143.5 2914.8 2149.3 2922.9 2155.1 2931.1 2161 2939.1 2166.9 2947.2 2172.9 2955.2 2178.9 2963.2 2185 2971.1 2191.1 2979 2197.3 2986.8 2203.5 2994.7 2209.8 3002.4 2216.1 3010.2 2222.5 3017.9 2228.9 3025.5 2235.4 3033.2 2241.9 3040.7 2248.4 3048.3 2255 3055.8 2261.7 3063.3 2268.4 3070.7 2275.1 3078.1 2281.9 3085.4 2288.8 3092.7 2295.6 3100 2302.6 3107.2 2309.5 3114.4 2316.5 3121.5 2323.6 3128.7 2330.7 3135.7 2337.8 3142.7 2345 3149.7 2352.2 3156.7 2359.5 3163.5 2366.8 3170.4 2374.1 3177.2 2381.5 3184 2388.9 3190.7 2396.4 3197.4 2403.9 3204 2411.4 3210.6 2419 3217.2 2426.6 3223.7 2434.3 3230.2 2442 3236.6 2449.7 3243 2457.5 3249.3 2465.3 3255.6 2473.1 3261.9 2481 3268.1 2488.9 3274.2 2496.9 3280.4 2504.9 3286.4 2512.9 3292.5 2521 3298.4 2529.1 3304.4 2537.2 3310.3 2545.4 3316.1 2553.6 3321.9 2561.8 3327.7 2570.1 3333.4 2578.4 3339.1 2586.7 3344.7 2595 3350.2 2603.4 3355.8 2611.9 3361.2 2620.3 3366.7 2628.8 3372.1 2637.3 3377.4 2645.9 3382.7 2654.4 3387.9 2663.1 3393.1 2671.7 3398.3 2680.4 3403.4 2689 3408.4 2697.8 3413.4 2706.5 3418.4 2715.3 3423.3 2724.1 3428.1 2732.9 3432.9 2741.8 3437.7 2750.7 3442.4 2759.6 3447 2768.5 3451.7 2777.5 3456.2 2786.5 3460.7 2795.5 3465.2 2804.5 3469.6 2813.6 3473.9 2822.7 3478.3 2831.8 3482.5 2840.9 3486.7 2850.1 3490.9 2859.2 3495 2868.4 3499 2877.7 3503 2886.9 3507 2896.2 3510.9 2905.5 3514.7 2914.8 3518.5 2924.1 3522.2 2933.4 3525.9 2942.8 3529.6 2952.2 3533.2 2961.6 3536.7 2971 3540.2 2980.5 3543.6 2989.9 3547 2999.4 3550.3 3008.9 3553.5 3018.4 3556.7 3027.9 3559.9 3037.5 3563 3047.1 3566 3056.6 3569 3066.2 3572 3075.8 3574.9 3085.5 3577.7 3095.1 3580.5 3104.8 3583.2 3114.4 3585.8 3124.1 3588.4 3133.8 3591 3143.5 3593.5 3153.2 3595.9 3163 3598.3 3172.7 3600.6 3182.5 3602.9 3192.3 3605.1 3202 3607.3 3211.8 3609.4 3221.6 3611.4 3231.5 3613.4 3241.3 3615.3 3251.1 3617.2 3261 3619 3270.8 3620.8 3280.7 3622.5 3290.5 3624.1 3300.4 3625.7 3310.3 3627.2 3320.2 3628.7 3330.1 3630.1 3340 3631.4 3349.9 3632.7 3359.8 3633.9 3369.8 3635.1 3379.7 3636.2 3389.6 3637.2 3399.6 3638.2 3409.5 3639.1 3419.5 3640 3429.4 3640.8 3439.4 3641.6 3449.4 3642.2 3459.3 3642.9 3469.3 3643.4 3479.3 3643.9 3489.2 3644.4 3499.2 3647.9 3579.1" stroke="#b01f2a" stroke-width="62"/>
<path d="M2777.1 2196.6 L2805.7 2224.6 2812.9 2231.6 2820 2238.6 2827 2245.7 2834 2252.8 2841 2260.1 2847.9 2267.3 2854.8 2274.6 2861.6 2282 2868.3 2289.4 2875.1 2296.9 2881.7 2304.5 2888.3 2312 2894.9 2319.7 2901.4 2327.4 2907.9 2335.1 2914.3 2342.9 2920.6 2350.8 2926.9 2358.7 2933.1 2366.6 2939.3 2374.6 2945.4 2382.6 2951.5 2390.7 2957.5 2398.9 2963.4 2407.1 2969.3 2415.3 2975.1 2423.6 2980.8 2431.9 2986.5 2440.3 2992.1 2448.7 2997.7 2457.2 3003.2 2465.7 3008.6 2474.2 3013.9 2482.8 3019.2 2491.4 3024.4 2500.1 3029.6 2508.8 3034.7 2517.6 3039.7 2526.3 3044.6 2535.2 3049.4 2544 3054.2 2553 3058.9 2561.9 3063.6 2570.9 3068.1 2579.9 3072.6 2589 3077 2598.1 3081.3 2607.2 3085.6 2616.3 3089.8 2625.5 3093.8 2634.8 3097.8 2644 3101.8 2653.3 3105.6 2662.7 3109.4 2672 3113 2681.4 3116.6 2690.8 3120.1 2700.3 3123.5 2709.8 3126.9 2719.3 3130.1 2728.8 3133.3 2738.4 3136.3 2748 3139.3 2757.6 3142.2 2767.2 3144.9 2776.9 3147.6 2786.6 3150.2 2796.3 3152.7 2806.1 3155.1 2815.9 3157.5 2825.7 3159.7 2835.5 3161.8 2845.3 3163.8 2855.2 3165.7 2865.1 3167.6 2875 3169.3 2884.9 3170.9 2894.9 3172.4 2904.8 3173.8 2914.8 3175.2 2924.8 3176.4 2934.8 3177.5 2944.9 3178.5 2954.9 3182.4 2994.7" stroke="#b01f2a" stroke-width="62"/>
<path d="M2836.7 2822.5 L2874 2837 2883.4 2840.7 2892.8 2844.6 2902 2848.7 2911.1 2853 2920.1 2857.6 2929 2862.3 2937.8 2867.3 2946.4 2872.5 2954.9 2877.9 2963.3 2883.4 2971.6 2889.2 2979.7 2895.2 2987.7 2901.3 2995.5 2907.6 3003.2 2914.1 3010.7 2920.8 3018.1 2927.6 3025.3 2934.6 3032.3 2941.8 3039.2 2949.1 3045.9 2956.6 3052.5 2964.3 3058.9 2972 3065.1 2980 3071.1 2988 3076.9 2996.2 3082.5 3004.5 3088 3013 3109.7 3046.6" stroke="#b01f2a" stroke-width="62"/>
<path d="M3376.5 3328.6 L3400 3361 3405.9 3369.2 3411.8 3377.3 3417.6 3385.5 3423.5 3393.7 3429.3 3401.9 3435.1 3410.2 3440.8 3418.4 3446.5 3426.7 3452.2 3435 3457.9 3443.4 3463.5 3451.7 3469.1 3460.1 3474.6 3468.5 3480.1 3476.9 3485.6 3485.3 3491.1 3493.8 3496.5 3502.3 3501.8 3510.8 3507.1 3519.4 3512.4 3527.9 3517.6 3536.5 3522.8 3545.2 3527.9 3553.8 3533 3562.5 3538 3571.2 3543 3580 3562.8 3614.8" stroke="#b01f2a" stroke-width="62"/>
<path d="M1698.8 3794.9 L1735.1 3811.7 1744.2 3815.9 1753.3 3820.1 1762.4 3824.2 1771.5 3828.3 1780.7 3832.3 1789.9 3836.3 1799.1 3840.3 1808.3 3844.2 1817.5 3848.1 1826.8 3851.9 1836 3855.7 1845.3 3859.4 1854.6 3863.1 1863.9 3866.7 1873.3 3870.3 1882.6 3873.8 1892 3877.3 1901.4 3880.8 1910.8 3884.2 1920.2 3887.5 1929.7 3890.8 1939.1 3894.1 1948.6 3897.3 1958.1 3900.4 1967.6 3903.5 1977.1 3906.6 1986.6 3909.5 1996.2 3912.5 2005.8 3915.4 2015.4 3918.2 2025 3920.9 2034.6 3923.7 2044.2 3926.3 2053.9 3928.9 2063.5 3931.5 2073.2 3933.9 2082.9 3936.4 2092.6 3938.7 2102.3 3941.1 2112.1 3943.3 2121.8 3945.5 2131.6 3947.6 2141.4 3949.7 2151.2 3951.7 2161 3953.6 2170.8 3955.5 2180.7 3957.3 2190.5 3959.1 2200.4 3960.8 2210.3 3962.4 2220.2 3964 2230.1 3965.5 2240 3966.9 2279.6 3972.6" stroke="#b01f2a" stroke-width="62"/>
<path d="M1497.4 3913.1 L1511.7 3950.5 1515.4 3960 1519.2 3969.4 1523.1 3978.8 1527.2 3988 1531.4 3997.2 1535.7 4006.3 1540.2 4015.3 1544.9 4024.2 1549.6 4033.1 1554.5 4041.8 1559.5 4050.5 1564.7 4059.1 1570 4067.6 1575.4 4076 1580.9 4084.4 1586.6 4092.6 1592.3 4100.8 1598.2 4108.9 1604.2 4116.9 1610.3 4124.8 1616.6 4132.6 1622.9 4140.3 1629.4 4148 1636 4155.5 1642.6 4163 1649.4 4170.4 1656.3 4177.7 1663.3 4184.9 1670.3 4192 1677.5 4199 1684.8 4206 1692.2 4212.8 1699.6 4219.6 1707.2 4226.3 1714.8 4232.8 1722.5 4239.3 1730.3 4245.7 1738.2 4252 1746.2 4258.2 1754.3 4264.3 1762.4 4270.4 1770.6 4276.3 1778.9 4282.1 1787.2 4287.9 1795.7 4293.5 1804.2 4299.1 1812.7 4304.6 1821.4 4309.9 1830.1 4315.2 1838.8 4320.4 1847.6 4325.5 1856.5 4330.5 1865.5 4335.3 1874.4 4340.1 1883.5 4344.8 1892.6 4349.4 1901.7 4353.9 1910.9 4358.3 1920.2 4362.7 1929.5 4366.9 1938.8 4371 1948.1 4375 1957.6 4378.9 1967 4382.7 1976.5 4386.4 1986 4390.1 1995.6 4393.6 2005.1 4397 2014.7 4400.3 2024.4 4403.5 2034.1 4406.6 2043.7 4409.6 2053.4 4412.6 2063.2 4415.4 2072.9 4418.1 2082.7 4420.7 2092.5 4423.2 2102.3 4425.6 2112.1 4427.9 2121.9 4430 2131.7 4432.1 2141.5 4434.1 2151.4 4436 2161.2 4437.8 2171 4439.4 2180.9 4441 2190.7 4442.4 2200.5 4443.8 2210.4 4445 2220.2 4446.2 2230 4447.2 2239.8 4448.1 2279.6 4451.8" stroke="#b01f2a" stroke-width="62"/>
<path d="M1358.9 3986.9 L1378.4 4021.9 1383.2 4030.5 1388.1 4039.1 1393.1 4047.6 1398.1 4056.2 1403.3 4064.6 1408.5 4073.1 1413.8 4081.5 1419.2 4089.8 1424.7 4098.1 1430.3 4106.4 1435.9 4114.6 1441.6 4122.7 1447.5 4130.9 1453.3 4138.9 1459.3 4147 1465.3 4155 1471.4 4162.9 1477.6 4170.8 1483.9 4178.6 1490.2 4186.4 1496.6 4194.1 1503.1 4201.8 1509.6 4209.4 1516.3 4217 1522.9 4224.5 1529.7 4232 1536.5 4239.4 1543.4 4246.8 1550.4 4254.1 1557.4 4261.3 1564.5 4268.5 1571.7 4275.6 1578.9 4282.7 1586.2 4289.7 1593.5 4296.7 1600.9 4303.5 1608.4 4310.4 1615.9 4317.1 1623.5 4323.9 1631.2 4330.5 1638.9 4337.1 1646.6 4343.6 1654.4 4350 1662.3 4356.4 1670.3 4362.8 1678.2 4369 1686.3 4375.2 1694.4 4381.3 1702.5 4387.4 1710.7 4393.4 1719 4399.3 1727.3 4405.1 1735.6 4410.9 1744 4416.6 1752.5 4422.2 1760.9 4427.8 1769.5 4433.3 1778.1 4438.7 1786.7 4444 1795.4 4449.3 1804.1 4454.5 1812.8 4459.6 1821.6 4464.6 1830.5 4469.6 1839.4 4474.4 1848.3 4479.2 1857.3 4484 1866.3 4488.6 1875.3 4493.2 1884.4 4497.6 1893.5 4502 1902.6 4506.3 1911.8 4510.6 1921 4514.7 1930.3 4518.8 1939.6 4522.8 1948.9 4526.7 1958.2 4530.5 1967.6 4534.2 1977 4537.8 1986.4 4541.4 1995.9 4544.8 2005.4 4548.2 2014.9 4551.5 2024.4 4554.6 2034 4557.7 2043.6 4560.7 2053.2 4563.7 2062.9 4566.5 2072.5 4569.2 2082.2 4571.8 2091.9 4574.4 2101.6 4576.8 2111.4 4579.2 2121.1 4581.4 2130.9 4583.6 2140.7 4585.6 2150.5 4587.6 2160.4 4589.4 2170.2 4591.2 2180.1 4592.8 2189.9 4594.4 2199.8 4595.8 2209.7 4597.2 2219.6 4598.4 2229.5 4599.6 2239.5 4600.6 2279.3 4604.8" stroke="#b01f2a" stroke-width="62"/>
<path d="M1257.5 4048.7 L1278.6 4082.7 1283.8 4091.1 1289 4099.4 1294.2 4107.9 1299.4 4116.3 1304.6 4124.7 1309.9 4133.2 1315.1 4141.7 1320.4 4150.2 1325.7 4158.7 1331 4167.2 1336.4 4175.7 1341.7 4184.2 1347.1 4192.7 1352.6 4201.2 1358 4209.7 1363.5 4218.2 1369 4226.7 1374.6 4235.1 1380.1 4243.6 1385.8 4252 1391.4 4260.4 1397.1 4268.8 1402.9 4277.1 1408.6 4285.4 1414.5 4293.7 1420.3 4301.9 1426.3 4310.1 1432.2 4318.3 1438.2 4326.4 1444.3 4334.5 1450.4 4342.5 1456.6 4350.4 1462.9 4358.3 1469.1 4366.2 1475.5 4374 1481.9 4381.7 1488.4 4389.3 1494.9 4396.9 1501.5 4404.4 1508.2 4411.9 1515 4419.2 1521.8 4426.5 1528.7 4433.7 1535.6 4440.8 1542.7 4447.8 1549.8 4454.7 1556.9 4461.6 1564.2 4468.3 1571.5 4475 1578.9 4481.6 1586.4 4488.1 1593.9 4494.5 1601.5 4500.8 1609.2 4507 1616.9 4513.2 1624.7 4519.2 1632.6 4525.2 1640.5 4531 1648.5 4536.8 1656.6 4542.5 1664.7 4548.1 1672.8 4553.7 1681.1 4559.1 1689.4 4564.5 1697.7 4569.7 1706.1 4574.9 1714.6 4580 1723.1 4585 1731.7 4589.9 1740.3 4594.8 1749 4599.5 1757.7 4604.2 1766.5 4608.8 1775.3 4613.3 1784.2 4617.7 1793.1 4622 1802.1 4626.2 1811.1 4630.4 1820.2 4634.4 1829.3 4638.4 1838.4 4642.3 1847.6 4646.1 1856.9 4649.8 1866.1 4653.5 1875.5 4657 1884.8 4660.5 1894.2 4663.9 1903.7 4667.2 1913.1 4670.4 1922.6 4673.5 1932.2 4676.6 1941.8 4679.6 1951.4 4682.4 1961 4685.2 1970.7 4687.9 1980.4 4690.6 1990.1 4693.1 1999.9 4695.6 2009.7 4698 2019.5 4700.3 2029.4 4702.5 2039.2 4704.6 2049.1 4706.6 2059 4708.6 2069 4710.5 2079 4712.3 2088.9 4714 2099 4715.6 2109 4717.2 2119 4718.6 2129.1 4720 2139.2 4721.3 2149.3 4722.5 2159.4 4723.7 2169.5 4724.7 2179.7 4725.7 2189.8 4726.6 2200 4727.4 2210.2 4728.1 2220.3 4728.8 2230.5 4729.4 2240.7 4729.8 2280.7 4731.7" stroke="#b01f2a" stroke-width="62"/>
<path d="M2778.8 3980.7 L2818 3973 2827.9 3971.1 2837.7 3969.1 2847.5 3967.1 2857.4 3965 2867.2 3962.9 2877 3960.8 2886.8 3958.7 2896.6 3956.5 2906.4 3954.2 2916.2 3951.9 2926 3949.6 2935.7 3947.2 2945.5 3944.8 2955.2 3942.4 2965 3939.9 2974.7 3937.4 2984.4 3934.8 2994.1 3932.2 3003.8 3929.6 3013.5 3926.9 3023.1 3924.2 3032.8 3921.4 3042.4 3918.6 3052.1 3915.7 3061.7 3912.8 3071.3 3909.8 3080.9 3906.8 3090.4 3903.8 3100 3900.7 3109.5 3897.6 3119.1 3894.4 3128.6 3891.2 3138.1 3887.9 3147.6 3884.6 3157 3881.3 3166.5 3877.9 3175.9 3874.4 3185.3 3870.9 3194.7 3867.4 3204.1 3863.8 3213.5 3860.1 3222.8 3856.4 3232.1 3852.7 3241.4 3848.9 3250.7 3845.1 3260 3841.2 3269.2 3837.2 3278.4 3833.3 3287.7 3829.2 3296.8 3825.1 3306 3821 3342.5 3804.5" stroke="#b01f2a" stroke-width="62"/>
<path d="M3506.3 3894.2 L3493.4 3932.1 3490.1 3941.8 3486.7 3951.4 3483.1 3960.9 3479.3 3970.4 3475.4 3979.8 3471.4 3989 3467.2 3998.2 3462.9 4007.4 3458.4 4016.4 3453.8 4025.3 3449 4034.2 3444.1 4043 3439.1 4051.7 3434 4060.3 3428.7 4068.8 3423.3 4077.3 3417.8 4085.7 3412.1 4093.9 3406.3 4102.1 3400.4 4110.2 3394.4 4118.2 3388.3 4126.2 3382 4134 3375.7 4141.7 3369.2 4149.4 3362.6 4157 3355.9 4164.5 3349.2 4171.9 3342.3 4179.2 3335.3 4186.4 3328.2 4193.5 3321 4200.5 3313.7 4207.5 3306.3 4214.3 3298.8 4221.1 3291.2 4227.8 3283.6 4234.4 3275.8 4240.9 3268 4247.2 3260.1 4253.5 3252.1 4259.8 3244 4265.9 3235.9 4271.9 3227.6 4277.8 3219.3 4283.7 3211 4289.4 3202.5 4295 3194 4300.6 3185.4 4306 3176.8 4311.4 3168.1 4316.6 3159.3 4321.8 3150.5 4326.9 3141.6 4331.8 3132.6 4336.7 3123.7 4341.5 3114.6 4346.1 3105.5 4350.7 3096.4 4355.2 3087.2 4359.6 3077.9 4363.9 3068.7 4368 3059.3 4372.1 3050 4376.1 3040.6 4380 3031.1 4383.7 3021.7 4387.4 3012.2 4391 3002.7 4394.4 2993.1 4397.8 2983.5 4401.1 2973.9 4404.2 2964.3 4407.3 2954.6 4410.2 2945 4413.1 2935.3 4415.8 2925.6 4418.5 2915.9 4421 2906.2 4423.4 2896.4 4425.8 2886.7 4428 2877 4430.1 2867.2 4432.1 2857.5 4434 2847.7 4435.8 2838 4437.5 2828.2 4439.1 2818.5 4440.5 2778.9 4446.5" stroke="#b01f2a" stroke-width="62"/>
<path d="M3642 3961.6 L3625.7 3998.2 3621.4 4007.8 3617 4017.4 3612.5 4026.9 3607.8 4036.2 3603.1 4045.5 3598.3 4054.6 3593.3 4063.7 3588.2 4072.7 3583.1 4081.6 3577.8 4090.3 3572.4 4099 3567 4107.6 3561.4 4116.1 3555.7 4124.5 3550 4132.9 3544.1 4141.1 3538.1 4149.2 3532.1 4157.3 3525.9 4165.2 3519.7 4173.1 3513.4 4180.9 3507 4188.6 3500.5 4196.2 3493.9 4203.7 3487.2 4211.1 3480.5 4218.5 3473.6 4225.8 3466.7 4232.9 3459.7 4240.1 3452.7 4247.1 3445.5 4254 3438.3 4260.9 3431 4267.7 3423.6 4274.4 3416.2 4281 3408.6 4287.5 3401.1 4294 3393.4 4300.4 3385.7 4306.7 3377.9 4313 3370 4319.1 3362.1 4325.2 3354.1 4331.3 3346.1 4337.2 3338 4343.1 3329.8 4348.9 3321.6 4354.6 3313.4 4360.3 3305 4365.9 3296.7 4371.4 3288.2 4376.9 3279.7 4382.3 3271.2 4387.6 3262.6 4392.9 3254 4398.1 3245.3 4403.2 3236.6 4408.3 3227.8 4413.3 3219 4418.2 3210.2 4423.1 3201.3 4428 3192.3 4432.7 3183.4 4437.4 3174.4 4442.1 3165.3 4446.6 3156.3 4451.2 3147.2 4455.6 3138 4460 3128.9 4464.4 3119.7 4468.7 3110.5 4472.9 3101.2 4477.1 3091.9 4481.3 3082.6 4485.4 3073.3 4489.4 3064 4493.4 3054.6 4497.3 3045.2 4501.2 3035.8 4505 3026.4 4508.8 3017 4512.6 3007.5 4516.2 2998.1 4519.9 2988.6 4523.5 2979.1 4527 2969.7 4530.5 2960.2 4534 2950.7 4537.4 2941.1 4540.8 2931.6 4544.1 2922.1 4547.4 2912.6 4550.7 2903.1 4553.9 2893.6 4557.1 2884.1 4560.2 2874.5 4563.3 2865 4566.4 2855.5 4569.4 2846 4572.4 2836.6 4575.3 2827.1 4578.2 2817.6 4581.1 2779.3 4592.8" stroke="#b01f2a" stroke-width="62"/>
<path d="M3749 4019.6 L3734.1 4056.7 3730.3 4066.1 3726.4 4075.4 3722.4 4084.6 3718.3 4093.7 3714.1 4102.8 3709.7 4111.8 3705.3 4120.8 3700.7 4129.7 3696.1 4138.5 3691.3 4147.3 3686.4 4155.9 3681.4 4164.6 3676.3 4173.1 3671.1 4181.6 3665.8 4190 3660.5 4198.4 3655 4206.7 3649.4 4214.9 3643.7 4223 3637.9 4231.1 3632 4239.2 3626.1 4247.1 3620 4255 3613.9 4262.9 3607.7 4270.7 3601.3 4278.4 3594.9 4286 3588.5 4293.6 3581.9 4301.1 3575.2 4308.6 3568.5 4316 3561.7 4323.3 3554.8 4330.6 3547.9 4337.8 3540.8 4345 3533.7 4352.1 3526.5 4359.1 3519.3 4366.1 3512 4373 3504.6 4379.9 3497.1 4386.7 3489.6 4393.4 3482 4400.1 3474.3 4406.7 3466.6 4413.3 3458.9 4419.8 3451 4426.2 3443.1 4432.6 3435.2 4438.9 3427.2 4445.2 3419.2 4451.4 3411 4457.6 3402.9 4463.7 3394.7 4469.7 3386.4 4475.7 3378.1 4481.6 3369.8 4487.5 3361.4 4493.3 3352.9 4499.1 3344.5 4504.8 3336 4510.5 3327.4 4516.1 3318.8 4521.6 3310.2 4527.1 3301.5 4532.6 3292.8 4538 3284.1 4543.3 3275.3 4548.6 3266.5 4553.8 3257.7 4559 3248.8 4564.1 3239.9 4569.2 3231 4574.2 3222.1 4579.2 3213.1 4584.1 3204.2 4588.9 3195.2 4593.8 3186.2 4598.5 3177.1 4603.2 3168.1 4607.9 3159 4612.5 3149.9 4617 3140.8 4621.5 3131.7 4625.9 3122.6 4630.3 3113.4 4634.6 3104.2 4638.8 3095 4643 3085.8 4647.1 3076.6 4651.1 3067.3 4655 3058.1 4658.9 3048.8 4662.7 3039.5 4666.4 3030.1 4670 3020.8 4673.5 3011.4 4677 3002 4680.3 2992.6 4683.6 2983.2 4686.8 2973.7 4689.8 2964.2 4692.8 2954.7 4695.7 2945.2 4698.5 2935.7 4701.2 2926.1 4703.8 2916.6 4706.2 2907 4708.6 2897.3 4710.8 2887.7 4713 2878 4715 2868.4 4716.9 2858.7 4718.7 2848.9 4720.4 2839.2 4721.9 2829.4 4723.4 2819.6 4724.7 2780 4730" stroke="#b01f2a" stroke-width="62"/>
<path d="M2284 2039.5 L2248.6 2058.1 2239.6 2062.8 2230.7 2067.6 2221.8 2072.5 2212.9 2077.4 2204.1 2082.3 2195.4 2087.3 2186.6 2092.4 2178 2097.6 2169.3 2102.7 2160.7 2108 2152.2 2113.3 2143.7 2118.7 2135.2 2124.1 2126.8 2129.6 2118.5 2135.1 2110.1 2140.7 2101.9 2146.3 2093.6 2152 2085.4 2157.8 2077.3 2163.6 2069.2 2169.5 2061.1 2175.4 2053.1 2181.4 2045.1 2187.4 2037.2 2193.5 2029.3 2199.6 2021.5 2205.8 2013.7 2212 2005.9 2218.3 1998.2 2224.6 1990.6 2231 1982.9 2237.4 1975.4 2243.9 1967.8 2250.4 1960.4 2257 1952.9 2263.6 1945.5 2270.3 1938.2 2277 1930.9 2283.8 1923.6 2290.6 1916.4 2297.4 1909.2 2304.3 1902.1 2311.3 1895 2318.3 1888 2325.3 1881 2332.4 1874 2339.5 1867.1 2346.7 1860.3 2353.9 1853.4 2361.2 1846.7 2368.5 1840 2375.8 1833.3 2383.2 1826.6 2390.7 1820 2398.1 1813.5 2405.7 1807 2413.2 1800.6 2420.8 1794.1 2428.4 1787.8 2436.1 1781.5 2443.8 1775.2 2451.6 1769 2459.4 1762.8 2467.2 1756.6 2475.1 1750.5 2483 1744.5 2490.9 1738.5 2498.9 1732.5 2506.9 1726.6 2515 1720.8 2523 1714.9 2531.2 1709.2 2539.3 1703.4 2547.5 1697.8 2555.7 1692.1 2564 1686.5 2572.3 1681 2580.6 1675.5 2589 1670 2597.4 1664.6 2605.8 1659.3 2614.2 1654 2622.7 1648.7 2631.2 1643.5 2639.8 1638.3 2648.4 1633.1 2657 1628.1 2665.6 1623 2674.3 1618 2683 1613.1 2691.7 1608.2 2700.4 1603.3 2709.2 1598.5 2718 1593.7 2726.9 1589 2735.7 1584.4 2744.6 1579.7 2753.5 1575.2 2762.5 1570.6 2771.4 1566.1 2780.4 1561.7 2789.4 1557.3 2798.5 1553 2807.5 1548.7 2816.6 1544.4 2825.7 1540.2 2834.9 1536 2844 1531.9 2853.2 1527.9 2862.4 1523.8 2871.6 1519.9 2880.8 1515.9 2890.1 1512.1 2899.4 1508.2 2908.7 1504.5 2918 1500.7 2927.3 1497 2936.7 1493.4 2946.1 1489.8 2955.5 1486.2 2964.9 1482.7 2974.3 1479.3 2983.7 1475.9 2993.2 1472.5 3002.7 1469.2 3012.2 1465.9 3021.7 1462.7 3031.2 1459.5 3040.8 1456.4 3050.3 1453.3 3059.9 1450.3 3069.5 1447.3 3079.1 1444.4 3088.7 1441.5 3098.3 1438.6 3107.9 1435.8 3117.6 1433.1 3127.2 1430.4 3136.9 1427.7 3146.6 1425.1 3156.3 1422.6 3166 1420.1 3175.7 1417.6 3185.4 1415.2 3195.1 1412.8 3204.8 1410.5 3214.6 1408.2 3224.3 1406 3234.1 1403.8 3243.9 1401.7 3253.6 1399.6 3263.4 1397.6 3273.2 1395.6 3283 1393.7 3292.8 1391.8 3302.6 1390 3312.4 1388.2 3322.2 1386.4 3332 1384.7 3341.9 1383.1 3351.7 1381.5 3361.5 1380 3371.3 1378.5 3381.2 1377 3391 1375.6 3400.8 1374.2 3410.7 1372.9 3420.5 1371.7 3430.3 1370.5 3440.2 1369.3 3450 1368.2 3459.9 1367.1 3469.7 1366.1 3479.5 1365.1 3489.4 1364.2 3499.2 1363.4 3509 1362.5 3518.8 1361.8 3528.7 1358.6 3568.5" stroke="#000" stroke-width="80"/>
<path d="M2229.9 2801.5 L2149.9 2800.1 2140 2799.9 2130 2799.8 2120 2799.6 2110 2799.5 2100 2799.4 2089.9 2799.4 2079.9 2799.4 2069.8 2799.4 2059.7 2799.4 2049.6 2799.5 2039.6 2799.7 2029.5 2799.8 2019.4 2800.1 2009.2 2800.3 1999.1 2800.7 1989 2801 1978.9 2801.5 1968.8 2802 1958.7 2802.6 1948.6 2803.2 1938.5 2803.9 1928.4 2804.7 1918.4 2805.5 1908.3 2806.4 1898.2 2807.4 1888.2 2808.5 1878.2 2809.7 1868.1 2811 1858.1 2812.3 1848.2 2813.7 1838.2 2815.3 1828.3 2816.9 1818.4 2818.6 1808.5 2820.4 1798.6 2822.4 1788.8 2824.4 1778.9 2826.6 1769.2 2828.8 1759.4 2831.2 1749.7 2833.7 1740 2836.3 1730.3 2839 1720.7 2841.9 1711.1 2844.9 1701.6 2848 1692.1 2851.3 1682.6 2854.6 1673.2 2858.2 1663.8 2861.8 1654.5 2865.6 1645.2 2869.6 1636 2873.7 1626.8 2878 1617.7 2882.4 1608.6 2886.9 1599.7 2891.7 1590.8 2896.6 1582 2901.7 1573.4 2906.9 1564.9 2912.3 1556.5 2918 1548.2 2923.8 1540.1 2929.8 1532.2 2936 1524.4 2942.3 1516.8 2948.9 1509.4 2955.8 1502.2 2962.8 1495.3 2970 1488.5 2977.5 1482 2985.2 1475.7 2993.1" stroke="#000" stroke-width="80" stroke-linecap="round"/>
<path d="M1425 3156.2 L1421.6 3166 1419.1 3175.9 1417.4 3185.8 1416.5 3195.7 1416.4 3205.5 1416.9 3215.3 1418.1 3225.1 1419.9 3234.9 1422.2 3244.6 1425 3254.2 1428.2 3263.7 1431.9 3273.1 1435.8 3282.4 1440.1 3291.6 1444.6 3300.7 1449.3 3309.6 1454.2 3318.4 1459.3 3327.1 1464.6 3335.6 1470.1 3344 1475.7 3352.3 1481.4 3360.4 1487.3 3368.5 1493.4 3376.4 1499.5 3384.2 1505.8 3391.9 1512.1 3399.6 1518.6 3407.2 1525.2 3414.7 1531.9 3422.1 1538.6 3429.5 1545.5 3436.9 1552.4 3444.1 1559.4 3451.3 1566.6 3458.3 1573.9 3465.3 1581.2 3472 1588.8 3478.6 1596.4 3485 1604.2 3491.3 1612.1 3497.3 1620.2 3503.1 1628.4 3508.7 1636.7 3514.1 1645.1 3519.4 1653.7 3524.5 1662.3 3529.5 1671 3534.3 1679.8 3539 1688.7 3543.5 1697.7 3548 1706.7 3552.3 1715.8 3556.6 1724.9 3560.7 1734.1 3564.8 1743.3 3568.8 1752.6 3572.7 1761.8 3576.6 1771.1 3580.5 1780.4 3584.3 1789.7 3588 1799 3591.8 1808.3 3595.5 1817.6 3599.2 1826.9 3602.9 1836.2 3606.6 1845.5 3610.2 1854.9 3613.7 1864.2 3617.3 1873.5 3620.8 1882.9 3624.3 1892.2 3627.7 1901.6 3631.1 1910.9 3634.5 1920.3 3637.8 1929.7 3641 1939.1 3644.3 1948.5 3647.5 1958 3650.6 1967.4 3653.7 1976.9 3656.7 1986.4 3659.7 1995.8 3662.7 2005.3 3665.5 2014.9 3668.4 2024.4 3671.2 2034 3673.9 2043.5 3676.6 2053.1 3679.2 2062.8 3681.7 2072.4 3684.2 2082 3686.6 2091.7 3689 2101.4 3691.3 2111.2 3693.5 2120.9 3695.7 2130.7 3697.8 2140.5 3699.8 2150.3 3701.8 2160.2 3703.6 2170 3705.5 2179.9 3707.2 2189.9 3708.9 2199.8 3710.4 2209.8 3712 2219.9 3713.4 2229.9 3714.7 2240 3716 2279.7 3721" stroke="#000" stroke-width="80" stroke-linecap="round"/>
<path d="M1671 3579.4 L1680.1 3583.9 1689.5 3588.6 1698.9 3593.2 1708.3 3597.7 1717.7 3602.1 1727.2 3606.4 1736.6 3610.6 1745.9 3614.7 1755.3 3618.8 1764.6 3622.9 1773.9 3626.9 1783.3 3630.9 1792.6 3634.8 1801.9 3638.8 1811.3 3642.7 1820.6 3646.5 1830 3650.4 1839.4 3654.2 1848.8 3658 1858.2 3661.7 1867.6 3665.4 1877.1 3669.1 1886.6 3672.8 1896 3676.4 1905.5 3679.9 1915.1 3683.5 1924.6 3687 1934.1 3690.4 1943.7 3693.8 1953.3 3697.2 1962.9 3700.5 1972.6 3703.7 1982.3 3706.9 1992 3710.1 2001.7 3713.2 2011.4 3716.2 2021.2 3719.2 2031 3722.2 2040.8 3725.1 2050.7 3727.9 2060.6 3730.6 2070.5 3733.3 2080.4 3736 2090.4 3738.6 2100.4 3741.1 2110.5 3743.5 2120.5 3745.9 2130.7 3748.2 2140.8 3750.4 2151 3752.6 2161.2 3754.7 2171.5 3756.7 2181.7 3758.6 2192.1 3760.5 2202.4 3762.3 2212.9 3764 2223.3 3765.6 2233.6 3767.1 2273.3 3772.1 2286.1 3669.9 2246.4 3664.9 2236.5 3663.9 2226.9 3662.8 2217.2 3661.6 2207.6 3660.4 2198 3659.1 2188.4 3657.7 2178.9 3656.2 2169.3 3654.7 2159.8 3653.1 2150.3 3651.4 2140.8 3649.7 2131.3 3647.8 2121.9 3646 2112.5 3644 2103 3642 2093.6 3639.9 2084.2 3637.7 2074.8 3635.5 2065.5 3633.3 2056.1 3630.9 2046.7 3628.5 2037.4 3626.1 2028.1 3623.6 2018.7 3621 2009.4 3618.4 2000.1 3615.7 1990.8 3613 1981.5 3610.2 1972.2 3607.4 1962.9 3604.5 1953.7 3601.6 1944.4 3598.6 1935.1 3595.6 1925.9 3592.5 1916.6 3589.4 1907.3 3586.3 1898.1 3583.1 1888.8 3579.9 1879.6 3576.6 1870.3 3573.3 1861 3570 1851.8 3566.6 1842.5 3563.2 1833.3 3559.7 1824 3556.2 1814.7 3552.7 1805.5 3549.2 1796.2 3545.6 1786.9 3542.1 1777.7 3538.5 1768.6 3534.9 1759.5 3531.2 1750.5 3527.5 1741.5 3523.7 1732.7 3519.9 1723.9 3516 1715.2 3512 1706.5 3507.7Z" fill="#000"/>
<path d="M2284 2039.5 L2248.6 2058.1 2239.6 2062.8 2230.7 2067.6 2221.8 2072.5 2212.9 2077.4 2204.1 2082.3 2195.4 2087.3 2186.6 2092.4 2178 2097.6 2169.3 2102.7 2160.7 2108 2152.2 2113.3 2143.7 2118.7 2135.2 2124.1 2126.8 2129.6 2118.5 2135.1 2110.1 2140.7 2101.9 2146.3 2093.6 2152 2085.4 2157.8 2077.3 2163.6 2069.2 2169.5 2061.1 2175.4 2053.1 2181.4 2045.1 2187.4 2037.2 2193.5 2029.3 2199.6 2021.5 2205.8 2013.7 2212 2005.9 2218.3 1998.2 2224.6 1990.6 2231 1982.9 2237.4 1975.4 2243.9 1967.8 2250.4 1960.4 2257 1952.9 2263.6 1945.5 2270.3 1938.2 2277 1930.9 2283.8 1923.6 2290.6 1916.4 2297.4 1909.2 2304.3 1902.1 2311.3 1895 2318.3 1888 2325.3 1881 2332.4 1874 2339.5 1867.1 2346.7 1860.3 2353.9 1853.4 2361.2 1846.7 2368.5 1840 2375.8 1833.3 2383.2 1826.6 2390.7 1820 2398.1 1813.5 2405.7 1807 2413.2 1800.6 2420.8 1794.1 2428.4 1787.8 2436.1 1781.5 2443.8 1775.2 2451.6 1769 2459.4 1762.8 2467.2 1756.6 2475.1 1750.5 2483 1744.5 2490.9 1738.5 2498.9 1732.5 2506.9 1726.6 2515 1720.8 2523 1714.9 2531.2 1709.2 2539.3 1703.4 2547.5 1697.8 2555.7 1692.1 2564 1686.5 2572.3 1681 2580.6 1675.5 2589 1670 2597.4 1664.6 2605.8 1659.3 2614.2 1654 2622.7 1648.7 2631.2 1643.5 2639.8 1638.3 2648.4 1633.1 2657 1628.1 2665.6 1623 2674.3 1618 2683 1613.1 2691.7 1608.2 2700.4 1603.3 2709.2 1598.5 2718 1593.7 2726.9 1589 2735.7 1584.4 2744.6 1579.7 2753.5 1575.2 2762.5 1570.6 2771.4 1566.1 2780.4 1561.7 2789.4 1557.3 2798.5 1553 2807.5 1548.7 2816.6 1544.4 2825.7 1540.2 2834.9 1536 2844 1531.9 2853.2 1527.9 2862.4 1523.8 2871.6 1519.9 2880.8 1515.9 2890.1 1512.1 2899.4 1508.2 2908.7 1504.5 2918 1500.7 2927.3 1497 2936.7 1493.4 2946.1 1489.8 2955.5 1486.2 2964.9 1482.7 2974.3 1479.3 2983.7 1475.9 2993.2 1472.5 3002.7 1469.2 3012.2 1465.9 3021.7 1462.7 3031.2 1459.5 3040.8 1456.4 3050.3 1453.3 3059.9 1450.3 3069.5 1447.3 3079.1 1444.4 3088.7 1441.5 3098.3 1438.6 3107.9 1435.8 3117.6 1433.1 3127.2 1430.4 3136.9 1427.7 3146.6 1425.1 3156.3 1422.6 3166 1420.1 3175.7 1417.6 3185.4 1415.2 3195.1 1412.8 3204.8 1410.5 3214.6 1408.2 3224.3 1406 3234.1 1403.8 3243.9 1401.7 3253.6 1399.6 3263.4 1397.6 3273.2 1395.6 3283 1393.7 3292.8 1391.8 3302.6 1390 3312.4 1388.2 3322.2 1386.4 3332 1384.7 3341.9 1383.1 3351.7 1381.5 3361.5 1380 3371.3 1378.5 3381.2 1377 3391 1375.6 3400.8 1374.2 3410.7 1372.9 3420.5 1371.7 3430.3 1370.5 3440.2 1369.3 3450 1368.2 3459.9 1367.1 3469.7 1366.1 3479.5 1365.1 3489.4 1364.2 3499.2 1363.4 3509 1362.5 3518.8 1361.8 3528.7 1358.6 3568.5" stroke="#b01f2a" stroke-width="62"/>
<path d="M2229.9 2801.5 L2149.9 2800.1 2140 2799.9 2130 2799.8 2120 2799.6 2110 2799.5 2100 2799.4 2089.9 2799.4 2079.9 2799.4 2069.8 2799.4 2059.7 2799.4 2049.6 2799.5 2039.6 2799.7 2029.5 2799.8 2019.4 2800.1 2009.2 2800.3 1999.1 2800.7 1989 2801 1978.9 2801.5 1968.8 2802 1958.7 2802.6 1948.6 2803.2 1938.5 2803.9 1928.4 2804.7 1918.4 2805.5 1908.3 2806.4 1898.2 2807.4 1888.2 2808.5 1878.2 2809.7 1868.1 2811 1858.1 2812.3 1848.2 2813.7 1838.2 2815.3 1828.3 2816.9 1818.4 2818.6 1808.5 2820.4 1798.6 2822.4 1788.8 2824.4 1778.9 2826.6 1769.2 2828.8 1759.4 2831.2 1749.7 2833.7 1740 2836.3 1730.3 2839 1720.7 2841.9 1711.1 2844.9 1701.6 2848 1692.1 2851.3 1682.6 2854.6 1673.2 2858.2 1663.8 2861.8 1654.5 2865.6 1645.2 2869.6 1636 2873.7 1626.8 2878 1617.7 2882.4 1608.6 2886.9 1599.7 2891.7 1590.8 2896.6 1582 2901.7 1573.4 2906.9 1564.9 2912.3 1556.5 2918 1548.2 2923.8 1540.1 2929.8 1532.2 2936 1524.4 2942.3 1516.8 2948.9 1509.4 2955.8 1502.2 2962.8 1495.3 2970 1488.5 2977.5 1482 2985.2 1475.7 2993.1" stroke="#b01f2a" stroke-width="62" stroke-linecap="round"/>
<path d="M1425 3156.2 L1421.6 3166 1419.1 3175.9 1417.4 3185.8 1416.5 3195.7 1416.4 3205.5 1416.9 3215.3 1418.1 3225.1 1419.9 3234.9 1422.2 3244.6 1425 3254.2 1428.2 3263.7 1431.9 3273.1 1435.8 3282.4 1440.1 3291.6 1444.6 3300.7 1449.3 3309.6 1454.2 3318.4 1459.3 3327.1 1464.6 3335.6 1470.1 3344 1475.7 3352.3 1481.4 3360.4 1487.3 3368.5 1493.4 3376.4 1499.5 3384.2 1505.8 3391.9 1512.1 3399.6 1518.6 3407.2 1525.2 3414.7 1531.9 3422.1 1538.6 3429.5 1545.5 3436.9 1552.4 3444.1 1559.4 3451.3 1566.6 3458.3 1573.9 3465.3 1581.2 3472 1588.8 3478.6 1596.4 3485 1604.2 3491.3 1612.1 3497.3 1620.2 3503.1 1628.4 3508.7 1636.7 3514.1 1645.1 3519.4 1653.7 3524.5 1662.3 3529.5 1671 3534.3 1679.8 3539 1688.7 3543.5 1697.7 3548 1706.7 3552.3 1715.8 3556.6 1724.9 3560.7 1734.1 3564.8 1743.3 3568.8 1752.6 3572.7 1761.8 3576.6 1771.1 3580.5 1780.4 3584.3 1789.7 3588 1799 3591.8 1808.3 3595.5 1817.6 3599.2 1826.9 3602.9 1836.2 3606.6 1845.5 3610.2 1854.9 3613.7 1864.2 3617.3 1873.5 3620.8 1882.9 3624.3 1892.2 3627.7 1901.6 3631.1 1910.9 3634.5 1920.3 3637.8 1929.7 3641 1939.1 3644.3 1948.5 3647.5 1958 3650.6 1967.4 3653.7 1976.9 3656.7 1986.4 3659.7 1995.8 3662.7 2005.3 3665.5 2014.9 3668.4 2024.4 3671.2 2034 3673.9 2043.5 3676.6 2053.1 3679.2 2062.8 3681.7 2072.4 3684.2 2082 3686.6 2091.7 3689 2101.4 3691.3 2111.2 3693.5 2120.9 3695.7 2130.7 3697.8 2140.5 3699.8 2150.3 3701.8 2160.2 3703.6 2170 3705.5 2179.9 3707.2 2189.9 3708.9 2199.8 3710.4 2209.8 3712 2219.9 3713.4 2229.9 3714.7 2240 3716 2279.7 3721" stroke="#b01f2a" stroke-width="62" stroke-linecap="round"/>
<path d="M1675 3571.3 L1684.1 3575.9 1693.4 3580.5 1702.7 3585 1712 3589.5 1721.4 3593.8 1730.7 3598.1 1740.1 3602.3 1749.4 3606.4 1758.7 3610.5 1768 3614.5 1777.3 3618.5 1786.6 3622.5 1795.9 3626.5 1805.2 3630.4 1814.6 3634.3 1823.9 3638.1 1833.3 3642 1842.6 3645.8 1852 3649.6 1861.4 3653.3 1870.8 3657 1880.2 3660.7 1889.6 3664.3 1899.1 3667.9 1908.5 3671.5 1918 3675 1927.5 3678.4 1937 3681.9 1946.5 3685.3 1956.1 3688.6 1965.7 3691.9 1975.3 3695.1 1984.9 3698.3 1994.5 3701.5 2004.2 3704.5 2013.9 3707.6 2023.6 3710.6 2033.4 3713.5 2043.1 3716.4 2053 3719.2 2062.8 3721.9 2072.6 3724.6 2082.5 3727.2 2092.4 3729.8 2102.4 3732.3 2112.4 3734.7 2122.4 3737.1 2132.4 3739.4 2142.5 3741.6 2152.6 3743.7 2162.8 3745.8 2173 3747.8 2183.2 3749.8 2193.5 3751.6 2203.8 3753.4 2214.1 3755.1 2224.5 3756.7 2234.7 3758.2 2274.4 3763.2 2285 3678.8 2245.3 3673.8 2235.4 3672.8 2225.6 3671.7 2215.9 3670.5 2206.2 3669.3 2196.6 3668 2186.9 3666.6 2177.3 3665.1 2167.7 3663.5 2158.1 3661.9 2148.5 3660.2 2139 3658.5 2129.4 3656.6 2119.9 3654.7 2110.4 3652.8 2100.9 3650.7 2091.5 3648.6 2082 3646.5 2072.6 3644.2 2063.1 3642 2053.7 3639.6 2044.3 3637.2 2034.9 3634.7 2025.5 3632.2 2016.1 3629.6 2006.8 3627 1997.4 3624.3 1988.1 3621.6 1978.7 3618.8 1969.4 3615.9 1960.1 3613 1950.8 3610.1 1941.5 3607.1 1932.1 3604.1 1922.8 3601 1913.5 3597.9 1904.2 3594.7 1895 3591.5 1885.7 3588.3 1876.4 3585 1867.1 3581.7 1857.8 3578.4 1848.5 3575 1839.2 3571.5 1829.9 3568.1 1820.7 3564.6 1811.4 3561.1 1802.1 3557.6 1792.8 3554 1783.5 3550.4 1774.3 3546.8 1765.1 3543.1 1755.9 3539.5 1746.9 3535.7 1737.8 3532 1728.9 3528.1 1720 3524.2 1711.3 3520.1 1702.5 3515.8Z" fill="#b01f2a"/>
<path d="M1510.5 3647.2 L1535.7 3616.2 1542.5 3607.8 1549.3 3599.5 1556.3 3591.3 1563.3 3583.3 1570.3 3575.4 1577.4 3567.5 1584.6 3559.8 1591.9 3552.3 1599.1 3544.8 1606.5 3537.4 1613.9 3530.2 1621.4 3523.1 1628.9 3516 1636.5 3509.1 1644.1 3502.3 1651.8 3495.6 1659.5 3489 1667.3 3482.5 1675.2 3476.2 1683.1 3469.9 1691 3463.7 1699 3457.7 1707.1 3451.7 1715.2 3445.8 1723.3 3440.1 1731.5 3434.4 1739.8 3428.8 1748.1 3423.3 1756.4 3418 1764.8 3412.7 1773.2 3407.5 1781.7 3402.4 1790.2 3397.4 1798.8 3392.5 1807.4 3387.7 1816 3383 1824.7 3378.4 1833.4 3373.9 1842.2 3369.4 1851 3365 1859.9 3360.8 1868.8 3356.6 1877.7 3352.5 1886.7 3348.5 1895.7 3344.5 1904.7 3340.7 1913.8 3336.9 1922.9 3333.2 1932 3329.6 1941.2 3326.1 1950.4 3322.7 1959.7 3319.3 1968.9 3316 1978.2 3312.8 1987.6 3309.6 1996.9 3306.6 2006.3 3303.6 2015.8 3300.7 2025.2 3297.8 2034.7 3295.1 2044.2 3292.3 2053.8 3289.7 2063.3 3287.2 2072.9 3284.7 2082.5 3282.2 2092.2 3279.9 2101.8 3277.6 2111.5 3275.3 2121.2 3273.2 2130.9 3271.1 2140.7 3269 2150.5 3267 2160.3 3265.1 2170.1 3263.3 2179.9 3261.5 2189.7 3259.7 2199.6 3258 2209.5 3256.4 2219.4 3254.8 2229.3 3253.3 2239.2 3251.9 2249.2 3250.5 2259.1 3249.1 2269.1 3247.8 2279.1 3246.5 2289.1 3245.3 2299.1 3244.2 2309.1 3243.1 2319.2 3242 2329.2 3241 2339.3 3240 2349.3 3239.1 2359.4 3238.3 2369.5 3237.4 2379.5 3236.6 2389.6 3235.9 2399.7 3235.2 2409.8 3234.5 2419.9 3233.9 2430 3233.3 2440.1 3232.7 2450.3 3232.2 2460.4 3231.8 2470.5 3231.3 2480.6 3230.9 2490.7 3230.5 2500.8 3230.2 2511 3229.9 2521.1 3229.6 2531.2 3229.4 2541.3 3229.1 2551.4 3229 2561.5 3228.8 2571.6 3228.7 2581.7 3228.5 2591.8 3228.5 2601.9 3228.4 2611.9 3228.4 2622 3228.4 2632.1 3228.4 2642.1 3228.4 2652.2 3228.5 2662.2 3228.5 2672.2 3228.6 2682.2 3228.7 2692.2 3228.9 2702.2 3229 2712.2 3229.2 2722.1 3229.3 2732.1 3229.5 2742 3229.7 2751.9 3229.9 2761.8 3230.2 2771.7 3230.4 2781.6 3230.6 2791.4 3230.9 2801.2 3231.2 2811 3231.4 2820.8 3231.7 2830.6 3232 2840.3 3232.3 2850.1 3232.6 2859.8 3232.9 2869.5 3233.1 2879.1 3233.4 2888.7 3233.7 2928.7 3235" stroke="#000" stroke-width="80"/>
<path d="M1510.5 3647.2 L1535.7 3616.2 1542.5 3607.8 1549.3 3599.5 1556.3 3591.3 1563.3 3583.3 1570.3 3575.4 1577.4 3567.5 1584.6 3559.8 1591.9 3552.3 1599.1 3544.8 1606.5 3537.4 1613.9 3530.2 1621.4 3523.1 1628.9 3516 1636.5 3509.1 1644.1 3502.3 1651.8 3495.6 1659.5 3489 1667.3 3482.5 1675.2 3476.2 1683.1 3469.9 1691 3463.7 1699 3457.7 1707.1 3451.7 1715.2 3445.8 1723.3 3440.1 1731.5 3434.4 1739.8 3428.8 1748.1 3423.3 1756.4 3418 1764.8 3412.7 1773.2 3407.5 1781.7 3402.4 1790.2 3397.4 1798.8 3392.5 1807.4 3387.7 1816 3383 1824.7 3378.4 1833.4 3373.9 1842.2 3369.4 1851 3365 1859.9 3360.8 1868.8 3356.6 1877.7 3352.5 1886.7 3348.5 1895.7 3344.5 1904.7 3340.7 1913.8 3336.9 1922.9 3333.2 1932 3329.6 1941.2 3326.1 1950.4 3322.7 1959.7 3319.3 1968.9 3316 1978.2 3312.8 1987.6 3309.6 1996.9 3306.6 2006.3 3303.6 2015.8 3300.7 2025.2 3297.8 2034.7 3295.1 2044.2 3292.3 2053.8 3289.7 2063.3 3287.2 2072.9 3284.7 2082.5 3282.2 2092.2 3279.9 2101.8 3277.6 2111.5 3275.3 2121.2 3273.2 2130.9 3271.1 2140.7 3269 2150.5 3267 2160.3 3265.1 2170.1 3263.3 2179.9 3261.5 2189.7 3259.7 2199.6 3258 2209.5 3256.4 2219.4 3254.8 2229.3 3253.3 2239.2 3251.9 2249.2 3250.5 2259.1 3249.1 2269.1 3247.8 2279.1 3246.5 2289.1 3245.3 2299.1 3244.2 2309.1 3243.1 2319.2 3242 2329.2 3241 2339.3 3240 2349.3 3239.1 2359.4 3238.3 2369.5 3237.4 2379.5 3236.6 2389.6 3235.9 2399.7 3235.2 2409.8 3234.5 2419.9 3233.9 2430 3233.3 2440.1 3232.7 2450.3 3232.2 2460.4 3231.8 2470.5 3231.3 2480.6 3230.9 2490.7 3230.5 2500.8 3230.2 2511 3229.9 2521.1 3229.6 2531.2 3229.4 2541.3 3229.1 2551.4 3229 2561.5 3228.8 2571.6 3228.7 2581.7 3228.5 2591.8 3228.5 2601.9 3228.4 2611.9 3228.4 2622 3228.4 2632.1 3228.4 2642.1 3228.4 2652.2 3228.5 2662.2 3228.5 2672.2 3228.6 2682.2 3228.7 2692.2 3228.9 2702.2 3229 2712.2 3229.2 2722.1 3229.3 2732.1 3229.5 2742 3229.7 2751.9 3229.9 2761.8 3230.2 2771.7 3230.4 2781.6 3230.6 2791.4 3230.9 2801.2 3231.2 2811 3231.4 2820.8 3231.7 2830.6 3232 2840.3 3232.3 2850.1 3232.6 2859.8 3232.9 2869.5 3233.1 2879.1 3233.4 2888.7 3233.7 2928.7 3235" stroke="#b01f2a" stroke-width="62"/>
<path d="M2365 650 L2365 660.2 2365 670.4 2365 680.6 2365 690.8 2365 701 2365 711.2 2365 721.5 2365 731.7 2365 741.9 2365 752.1 2365 762.3 2365 772.5 2365 782.7 2365 792.9 2365 803.1 2365 813.3 2365 823.5 2365 833.8 2365 844 2365 854.2 2365 864.4 2365 874.6 2365 884.8 2365 895" stroke="#000" stroke-width="80"/>
<path d="M2503 650 L2503 660.2 2503 670.4 2503 680.6 2503 690.8 2503 701 2503 711.2 2503 721.5 2503 731.7 2503 741.9 2503 752.1 2503 762.3 2503 772.5 2503 782.7 2503 792.9 2503 803.1 2503 813.3 2503 823.5 2503 833.8 2503 844 2503 854.2 2503 864.4 2503 874.6 2503 884.8 2503 895" stroke="#000" stroke-width="80"/>
<path d="M2638 650 L2638 660.2 2638 670.4 2638 680.6 2638 690.8 2638 701 2638 711.2 2638 721.5 2638 731.7 2638 741.9 2638 752.1 2638 762.3 2638 772.5 2638 782.7 2638 792.9 2638 803.1 2638 813.3 2638 823.5 2638 833.8 2638 844 2638 854.2 2638 864.4 2638 874.6 2638 884.8 2638 895" stroke="#000" stroke-width="80"/>
<path d="M2370 1150 L2370 1160.1 2370 1170.2 2370 1180.3 2370 1190.3 2370 1200.4 2370 1210.5 2370 1220.6 2370 1230.7 2370 1240.8 2370 1250.8 2370 1260.9 2370 1271 2370 1281.1 2370 1291.2 2370 1301.3 2370 1311.4 2370 1321.4 2370 1331.5 2370 1341.6 2370 1351.7 2370 1361.8 2370 1371.9 2370 1381.9 2370 1392 2370 1402.1 2370 1412.2 2370 1422.3 2370 1432.4 2370 1442.5 2370 1452.5 2370 1462.6 2370 1472.7 2370 1482.8 2370 1492.9 2370 1503 2370 1513.1 2370 1523.1 2370 1533.2 2370 1543.3 2370 1553.4 2370 1563.5 2370 1573.6 2370 1583.6 2370 1593.7 2370 1603.8 2370 1613.9 2370 1624 2370 1634.1 2370 1644.2 2370 1654.2 2370 1664.3 2370 1674.4 2370 1684.5 2370 1694.6 2370 1704.7 2370 1714.7 2370 1724.8 2370 1734.9 2370 1745" stroke="#000" stroke-width="80"/>
<path d="M2508 1150 L2508 1160.1 2508 1170.2 2508 1180.3 2508 1190.3 2508 1200.4 2508 1210.5 2508 1220.6 2508 1230.7 2508 1240.8 2508 1250.8 2508 1260.9 2508 1271 2508 1281.1 2508 1291.2 2508 1301.3 2508 1311.4 2508 1321.4 2508 1331.5 2508 1341.6 2508 1351.7 2508 1361.8 2508 1371.9 2508 1381.9 2508 1392 2508 1402.1 2508 1412.2 2508 1422.3 2508 1432.4 2508 1442.5 2508 1452.5 2508 1462.6 2508 1472.7 2508 1482.8 2508 1492.9 2508 1503 2508 1513.1 2508 1523.1 2508 1533.2 2508 1543.3 2508 1553.4 2508 1563.5 2508 1573.6 2508 1583.6 2508 1593.7 2508 1603.8 2508 1613.9 2508 1624 2508 1634.1 2508 1644.2 2508 1654.2 2508 1664.3 2508 1674.4 2508 1684.5 2508 1694.6 2508 1704.7 2508 1714.7 2508 1724.8 2508 1734.9 2508 1745" stroke="#000" stroke-width="80"/>
<path d="M2642 1150 L2642 1160.1 2642 1170.2 2642 1180.3 2642 1190.3 2642 1200.4 2642 1210.5 2642 1220.6 2642 1230.7 2642 1240.8 2642 1250.8 2642 1260.9 2642 1271 2642 1281.1 2642 1291.2 2642 1301.3 2642 1311.4 2642 1321.4 2642 1331.5 2642 1341.6 2642 1351.7 2642 1361.8 2642 1371.9 2642 1381.9 2642 1392 2642 1402.1 2642 1412.2 2642 1422.3 2642 1432.4 2642 1442.5 2642 1452.5 2642 1462.6 2642 1472.7 2642 1482.8 2642 1492.9 2642 1503 2642 1513.1 2642 1523.1 2642 1533.2 2642 1543.3 2642 1553.4 2642 1563.5 2642 1573.6 2642 1583.6 2642 1593.7 2642 1603.8 2642 1613.9 2642 1624 2642 1634.1 2642 1644.2 2642 1654.2 2642 1664.3 2642 1674.4 2642 1684.5 2642 1694.6 2642 1704.7 2642 1714.7 2642 1724.8 2642 1734.9 2642 1745" stroke="#000" stroke-width="80"/>
<path d="M2368 2290 L2368 2300 2368 2310 2368 2320 2368 2330 2368 2340 2368 2350 2368 2360 2368 2370 2368 2380 2368 2390 2368 2400 2368 2410 2368 2420 2368 2430 2368 2440 2368 2450 2368 2460 2368 2470 2368 2480 2368 2490 2368 2500 2368 2510 2368 2520 2368 2530 2368 2540 2368 2550 2368 2560 2368 2570 2368 2580 2368 2590 2368 2600" stroke="#000" stroke-width="80"/>
<path d="M2508 2290 L2508 2300 2508 2310 2508 2320 2508 2330 2508 2340 2508 2350 2508 2360 2508 2370 2508 2380 2508 2390 2508 2400 2508 2410 2508 2420 2508 2430 2508 2440 2508 2450 2508 2460 2508 2470 2508 2480 2508 2490 2508 2500 2508 2510 2508 2520 2508 2530 2508 2540 2508 2550 2508 2560 2508 2570 2508 2580 2508 2590 2508 2600" stroke="#000" stroke-width="80"/>
<path d="M2642 2290 L2642 2300 2642 2310 2642 2320 2642 2330 2642 2340 2642 2350 2642 2360 2642 2370 2642 2380 2642 2390 2642 2400 2642 2410 2642 2420 2642 2430 2642 2440 2642 2450 2642 2460 2642 2470 2642 2480 2642 2490 2642 2500 2642 2510 2642 2520 2642 2530 2642 2540 2642 2550 2642 2560 2642 2570 2642 2580 2642 2590 2642 2600" stroke="#000" stroke-width="80"/>
<path d="M2375 2980 L2375 2990 2375 3000 2375 3010 2375 3020 2375 3030 2375 3040 2375 3050 2375 3060 2375 3070 2375 3080 2375 3090 2375 3100 2375 3110 2375 3120 2375 3130 2375 3140 2375 3150 2375 3160 2375 3170 2375 3180 2375 3190 2375 3200 2375 3210 2375 3220 2375 3230 2375 3240 2375 3250 2375 3260 2375 3270 2375 3280 2375 3290 2375 3300 2375 3310 2375 3320 2375 3330 2375 3340 2375 3350 2375 3360 2375 3370 2375 3380 2375 3390 2375 3400 2375 3410 2375 3420 2375 3430 2375 3440 2375 3450 2375 3460 2375 3470 2375 3480 2375 3490 2375 3500 2375 3510 2375 3520 2375 3530 2375 3540" stroke="#000" stroke-width="80"/>
<path d="M2514 2980 L2514 2990 2514 3000 2514 3010 2514 3020 2514 3030 2514 3040 2514 3050 2514 3060 2514 3070 2514 3080 2514 3090 2514 3100 2514 3110 2514 3120 2514 3130 2514 3140 2514 3150 2514 3160 2514 3170 2514 3180 2514 3190 2514 3200 2514 3210 2514 3220 2514 3230 2514 3240 2514 3250 2514 3260 2514 3270 2514 3280 2514 3290 2514 3300 2514 3310 2514 3320 2514 3330 2514 3340 2514 3350 2514 3360 2514 3370 2514 3380 2514 3390 2514 3400 2514 3410 2514 3420 2514 3430 2514 3440 2514 3450 2514 3460 2514 3470 2514 3480 2514 3490 2514 3500 2514 3510 2514 3520 2514 3530 2514 3540" stroke="#000" stroke-width="80"/>
<path d="M2653 2980 L2653 2990 2653 3000 2653 3010 2653 3020 2653 3030 2653 3040 2653 3050 2653 3060 2653 3070 2653 3080 2653 3090 2653 3100 2653 3110 2653 3120 2653 3130 2653 3140 2653 3150 2653 3160 2653 3170 2653 3180 2653 3190 2653 3200 2653 3210 2653 3220 2653 3230 2653 3240 2653 3250 2653 3260 2653 3270 2653 3280 2653 3290 2653 3300 2653 3310 2653 3320 2653 3330 2653 3340 2653 3350 2653 3360 2653 3370 2653 3380 2653 3390 2653 3400 2653 3410 2653 3420 2653 3430 2653 3440 2653 3450 2653 3460 2653 3470 2653 3480 2653 3490 2653 3500 2653 3510 2653 3520 2653 3530 2653 3540" stroke="#000" stroke-width="80"/>
<path d="M2383 4085 L2383 4095.2 2383 4105.5 2383 4115.7 2383 4126 2383 4136.2 2383 4146.4 2383 4156.7 2383 4166.9 2383 4177.1 2383 4187.4 2383 4197.6 2383 4207.9 2383 4218.1 2383 4228.3 2383 4238.6 2383 4248.8 2383 4259 2383 4269.3 2383 4279.5 2383 4289.8 2383 4300" stroke="#000" stroke-width="80"/>
<path d="M2521 4085 L2521 4095.2 2521 4105.5 2521 4115.7 2521 4126 2521 4136.2 2521 4146.4 2521 4156.7 2521 4166.9 2521 4177.1 2521 4187.4 2521 4197.6 2521 4207.9 2521 4218.1 2521 4228.3 2521 4238.6 2521 4248.8 2521 4259 2521 4269.3 2521 4279.5 2521 4289.8 2521 4300" stroke="#000" stroke-width="80"/>
<path d="M2656 4085 L2656 4095.2 2656 4105.5 2656 4115.7 2656 4126 2656 4136.2 2656 4146.4 2656 4156.7 2656 4166.9 2656 4177.1 2656 4187.4 2656 4197.6 2656 4207.9 2656 4218.1 2656 4228.3 2656 4238.6 2656 4248.8 2656 4259 2656 4269.3 2656 4279.5 2656 4289.8 2656 4300" stroke="#000" stroke-width="80"/>
<path d="M2365 650 L2365 660.2 2365 670.4 2365 680.6 2365 690.8 2365 701 2365 711.2 2365 721.5 2365 731.7 2365 741.9 2365 752.1 2365 762.3 2365 772.5 2365 782.7 2365 792.9 2365 803.1 2365 813.3 2365 823.5 2365 833.8 2365 844 2365 854.2 2365 864.4 2365 874.6 2365 884.8 2365 895" stroke="#b01f2a" stroke-width="62"/>
<path d="M2503 650 L2503 660.2 2503 670.4 2503 680.6 2503 690.8 2503 701 2503 711.2 2503 721.5 2503 731.7 2503 741.9 2503 752.1 2503 762.3 2503 772.5 2503 782.7 2503 792.9 2503 803.1 2503 813.3 2503 823.5 2503 833.8 2503 844 2503 854.2 2503 864.4 2503 874.6 2503 884.8 2503 895" stroke="#b01f2a" stroke-width="62"/>
<path d="M2638 650 L2638 660.2 2638 670.4 2638 680.6 2638 690.8 2638 701 2638 711.2 2638 721.5 2638 731.7 2638 741.9 2638 752.1 2638 762.3 2638 772.5 2638 782.7 2638 792.9 2638 803.1 2638 813.3 2638 823.5 2638 833.8 2638 844 2638 854.2 2638 864.4 2638 874.6 2638 884.8 2638 895" stroke="#b01f2a" stroke-width="62"/>
<path d="M2370 1150 L2370 1160.1 2370 1170.2 2370 1180.3 2370 1190.3 2370 1200.4 2370 1210.5 2370 1220.6 2370 1230.7 2370 1240.8 2370 1250.8 2370 1260.9 2370 1271 2370 1281.1 2370 1291.2 2370 1301.3 2370 1311.4 2370 1321.4 2370 1331.5 2370 1341.6 2370 1351.7 2370 1361.8 2370 1371.9 2370 1381.9 2370 1392 2370 1402.1 2370 1412.2 2370 1422.3 2370 1432.4 2370 1442.5 2370 1452.5 2370 1462.6 2370 1472.7 2370 1482.8 2370 1492.9 2370 1503 2370 1513.1 2370 1523.1 2370 1533.2 2370 1543.3 2370 1553.4 2370 1563.5 2370 1573.6 2370 1583.6 2370 1593.7 2370 1603.8 2370 1613.9 2370 1624 2370 1634.1 2370 1644.2 2370 1654.2 2370 1664.3 2370 1674.4 2370 1684.5 2370 1694.6 2370 1704.7 2370 1714.7 2370 1724.8 2370 1734.9 2370 1745" stroke="#b01f2a" stroke-width="62"/>
<path d="M2508 1150 L2508 1160.1 2508 1170.2 2508 1180.3 2508 1190.3 2508 1200.4 2508 1210.5 2508 1220.6 2508 1230.7 2508 1240.8 2508 1250.8 2508 1260.9 2508 1271 2508 1281.1 2508 1291.2 2508 1301.3 2508 1311.4 2508 1321.4 2508 1331.5 2508 1341.6 2508 1351.7 2508 1361.8 2508 1371.9 2508 1381.9 2508 1392 2508 1402.1 2508 1412.2 2508 1422.3 2508 1432.4 2508 1442.5 2508 1452.5 2508 1462.6 2508 1472.7 2508 1482.8 2508 1492.9 2508 1503 2508 1513.1 2508 1523.1 2508 1533.2 2508 1543.3 2508 1553.4 2508 1563.5 2508 1573.6 2508 1583.6 2508 1593.7 2508 1603.8 2508 1613.9 2508 1624 2508 1634.1 2508 1644.2 2508 1654.2 2508 1664.3 2508 1674.4 2508 1684.5 2508 1694.6 2508 1704.7 2508 1714.7 2508 1724.8 2508 1734.9 2508 1745" stroke="#b01f2a" stroke-width="62"/>
<path d="M2642 1150 L2642 1160.1 2642 1170.2 2642 1180.3 2642 1190.3 2642 1200.4 2642 1210.5 2642 1220.6 2642 1230.7 2642 1240.8 2642 1250.8 2642 1260.9 2642 1271 2642 1281.1 2642 1291.2 2642 1301.3 2642 1311.4 2642 1321.4 2642 1331.5 2642 1341.6 2642 1351.7 2642 1361.8 2642 1371.9 2642 1381.9 2642 1392 2642 1402.1 2642 1412.2 2642 1422.3 2642 1432.4 2642 1442.5 2642 1452.5 2642 1462.6 2642 1472.7 2642 1482.8 2642 1492.9 2642 1503 2642 1513.1 2642 1523.1 2642 1533.2 2642 1543.3 2642 1553.4 2642 1563.5 2642 1573.6 2642 1583.6 2642 1593.7 2642 1603.8 2642 1613.9 2642 1624 2642 1634.1 2642 1644.2 2642 1654.2 2642 1664.3 2642 1674.4 2642 1684.5 2642 1694.6 2642 1704.7 2642 1714.7 2642 1724.8 2642 1734.9 2642 1745" stroke="#b01f2a" stroke-width="62"/>
<path d="M2368 2290 L2368 2300 2368 2310 2368 2320 2368 2330 2368 2340 2368 2350 2368 2360 2368 2370 2368 2380 2368 2390 2368 2400 2368 2410 2368 2420 2368 2430 2368 2440 2368 2450 2368 2460 2368 2470 2368 2480 2368 2490 2368 2500 2368 2510 2368 2520 2368 2530 2368 2540 2368 2550 2368 2560 2368 2570 2368 2580 2368 2590 2368 2600" stroke="#b01f2a" stroke-width="62"/>
<path d="M2508 2290 L2508 2300 2508 2310 2508 2320 2508 2330 2508 2340 2508 2350 2508 2360 2508 2370 2508 2380 2508 2390 2508 2400 2508 2410 2508 2420 2508 2430 2508 2440 2508 2450 2508 2460 2508 2470 2508 2480 2508 2490 2508 2500 2508 2510 2508 2520 2508 2530 2508 2540 2508 2550 2508 2560 2508 2570 2508 2580 2508 2590 2508 2600" stroke="#b01f2a" stroke-width="62"/>
<path d="M2642 2290 L2642 2300 2642 2310 2642 2320 2642 2330 2642 2340 2642 2350 2642 2360 2642 2370 2642 2380 2642 2390 2642 2400 2642 2410 2642 2420 2642 2430 2642 2440 2642 2450 2642 2460 2642 2470 2642 2480 2642 2490 2642 2500 2642 2510 2642 2520 2642 2530 2642 2540 2642 2550 2642 2560 2642 2570 2642 2580 2642 2590 2642 2600" stroke="#b01f2a" stroke-width="62"/>
<path d="M2375 2980 L2375 2990 2375 3000 2375 3010 2375 3020 2375 3030 2375 3040 2375 3050 2375 3060 2375 3070 2375 3080 2375 3090 2375 3100 2375 3110 2375 3120 2375 3130 2375 3140 2375 3150 2375 3160 2375 3170 2375 3180 2375 3190 2375 3200 2375 3210 2375 3220 2375 3230 2375 3240 2375 3250 2375 3260 2375 3270 2375 3280 2375 3290 2375 3300 2375 3310 2375 3320 2375 3330 2375 3340 2375 3350 2375 3360 2375 3370 2375 3380 2375 3390 2375 3400 2375 3410 2375 3420 2375 3430 2375 3440 2375 3450 2375 3460 2375 3470 2375 3480 2375 3490 2375 3500 2375 3510 2375 3520 2375 3530 2375 3540" stroke="#b01f2a" stroke-width="62"/>
<path d="M2514 2980 L2514 2990 2514 3000 2514 3010 2514 3020 2514 3030 2514 3040 2514 3050 2514 3060 2514 3070 2514 3080 2514 3090 2514 3100 2514 3110 2514 3120 2514 3130 2514 3140 2514 3150 2514 3160 2514 3170 2514 3180 2514 3190 2514 3200 2514 3210 2514 3220 2514 3230 2514 3240 2514 3250 2514 3260 2514 3270 2514 3280 2514 3290 2514 3300 2514 3310 2514 3320 2514 3330 2514 3340 2514 3350 2514 3360 2514 3370 2514 3380 2514 3390 2514 3400 2514 3410 2514 3420 2514 3430 2514 3440 2514 3450 2514 3460 2514 3470 2514 3480 2514 3490 2514 3500 2514 3510 2514 3520 2514 3530 2514 3540" stroke="#b01f2a" stroke-width="62"/>
<path d="M2653 2980 L2653 2990 2653 3000 2653 3010 2653 3020 2653 3030 2653 3040 2653 3050 2653 3060 2653 3070 2653 3080 2653 3090 2653 3100 2653 3110 2653 3120 2653 3130 2653 3140 2653 3150 2653 3160 2653 3170 2653 3180 2653 3190 2653 3200 2653 3210 2653 3220 2653 3230 2653 3240 2653 3250 2653 3260 2653 3270 2653 3280 2653 3290 2653 3300 2653 3310 2653 3320 2653 3330 2653 3340 2653 3350 2653 3360 2653 3370 2653 3380 2653 3390 2653 3400 2653 3410 2653 3420 2653 3430 2653 3440 2653 3450 2653 3460 2653 3470 2653 3480 2653 3490 2653 3500 2653 3510 2653 3520 2653 3530 2653 3540" stroke="#b01f2a" stroke-width="62"/>
<path d="M2383 4085 L2383 4095.2 2383 4105.5 2383 4115.7 2383 4126 2383 4136.2 2383 4146.4 2383 4156.7 2383 4166.9 2383 4177.1 2383 4187.4 2383 4197.6 2383 4207.9 2383 4218.1 2383 4228.3 2383 4238.6 2383 4248.8 2383 4259 2383 4269.3 2383 4279.5 2383 4289.8 2383 4300" stroke="#b01f2a" stroke-width="62"/>
<path d="M2521 4085 L2521 4095.2 2521 4105.5 2521 4115.7 2521 4126 2521 4136.2 2521 4146.4 2521 4156.7 2521 4166.9 2521 4177.1 2521 4187.4 2521 4197.6 2521 4207.9 2521 4218.1 2521 4228.3 2521 4238.6 2521 4248.8 2521 4259 2521 4269.3 2521 4279.5 2521 4289.8 2521 4300" stroke="#b01f2a" stroke-width="62"/>
<path d="M2656 4085 L2656 4095.2 2656 4105.5 2656 4115.7 2656 4126 2656 4136.2 2656 4146.4 2656 4156.7 2656 4166.9 2656 4177.1 2656 4187.4 2656 4197.6 2656 4207.9 2656 4218.1 2656 4228.3 2656 4238.6 2656 4248.8 2656 4259 2656 4269.3 2656 4279.5 2656 4289.8 2656 4300" stroke="#b01f2a" stroke-width="62"/>
<path fill="#fff" stroke="#000" stroke-width="12" stroke-linejoin="round" d="M2452.2 180.3 Q2508.2 75.4 2567.5 178.5 L2797.9 578.9 Q2837.7 648.2 2757.8 649.9 L2280.1 660 Q2195.1 661.8 2235.2 586.8Z"/>
<path fill="#fff" stroke="#000" stroke-width="12" stroke-linejoin="round" d="M2223.4 970.9 Q2180.1 891.9 2270.1 891.4 L2741.1 888.5 Q2821.1 888.1 2784 959 L2562 1384.3 Q2544.4 1418 2506.4 1418 L2506.6 1418 Q2468.6 1418 2450.3 1384.7Z"/>
<rect fill="#fff" stroke="#000" stroke-width="12" stroke-linejoin="round" x="2233" y="1739" width="576" height="555" rx="52"/>
<path fill="#fff" stroke="#000" stroke-width="12" stroke-linejoin="round" d="M2494.8 2437.6 Q2516 2416.4 2537.5 2437.4 L2881.1 2774.1 Q2902.6 2795.1 2881.8 2816.8 L2540.7 3172.7 Q2519.9 3194.4 2498.9 3173.1 L2151.5 2821.4 Q2130.5 2800 2151.7 2778.9Z"/>
<path fill="#fff" stroke="#000" stroke-width="12" stroke-linejoin="round" d="M3126.2 2991.8 Q3219.2 2906.8 3275.5 3019.5 L3405.2 3278.8 Q3461.1 3390.6 3338.8 3364.8 L2947.2 3282.3 Q2834.7 3258.5 2919.5 3180.9Z"/>
<rect fill="#fff" stroke="#000" stroke-width="12" stroke-linejoin="round" x="2240" y="3533" width="568" height="555" rx="55"/>
<rect fill="#fff" stroke="#000" stroke-width="12" stroke-linejoin="round" x="2247" y="4293" width="565" height="560" rx="55"/>
<path fill="#fff" stroke="#000" stroke-width="12" stroke-linejoin="round" d="M1162 3526.5 Q1162 3414.5 1258.5 3471.3 L1680.8 3719.6 Q1801.5 3790.6 1676.8 3854.1 L1224.4 4084.5 Q1162 4116.2 1162 4046.2Z"/>
<path fill="#fff" stroke="#000" stroke-width="12" stroke-linejoin="round" d="M3788.3 3453.8 Q3874.2 3402.5 3875.7 3502.5 L3883.5 4021.1 Q3884.8 4111.1 3804.8 4070 L3365.9 3844.6 Q3241.4 3780.6 3361.5 3708.8Z"/>
<path fill="#000" d="M2683.1 662.6 L2685.2 660.9 2687.5 659.6 2690.1 658.8 2692.8 658.5 2693.3 658.3 2693.6 658 2693.8 657.6 2693.9 657.2 2693.8 656.8 2693.5 656.4 2693.1 656.2 2692.7 656.1 2678 656.4 2677.5 656.5 2677.1 656.8 2676.9 657.1 2676.8 657.6 2676.8 672.3 2676.9 672.7 2677.1 673.1 2677.5 673.4 2677.9 673.5 2678.4 673.4 2678.8 673.2 2679.1 672.8 2679.2 672.4 2679.5 669.6 2680.2 667.1 2681.5 664.7 2683.1 662.6Z M2594.4 666.8 L2595.7 669.3 2596.5 671.9 2596.8 674.7 2596.9 675.2 2597.2 675.5 2597.6 675.7 2598.1 675.8 2598.5 675.7 2598.9 675.4 2599.1 675 2599.2 674.6 2599.2 659.3 2599.1 658.8 2598.8 658.4 2598.4 658.2 2598 658.1 2582.7 658.4 2582.2 658.5 2581.8 658.8 2581.6 659.1 2581.5 659.6 2581.6 660 2581.8 660.4 2582.2 660.7 2582.6 660.8 2585.4 661 2588.1 661.8 2590.5 663 2592.7 664.7 2594.4 666.8Z M2550.2 663.8 L2552.5 662.5 2555.1 661.6 2557.8 661.3 2558.3 661.2 2558.6 660.9 2558.8 660.5 2558.9 660 2558.8 659.6 2558.5 659.2 2558.1 659 2557.7 658.9 2543 659.2 2542.5 659.3 2542.1 659.6 2541.9 660 2541.8 660.4 2541.8 675.1 2541.9 675.6 2542.1 676 2542.5 676.2 2542.9 676.3 2543.4 676.3 2543.8 676 2544.1 675.7 2544.2 675.2 2544.5 672.5 2545.2 669.9 2546.5 667.6 2548.1 665.5 2550.2 663.8Z M2457.7 667.6 L2459.4 669.7 2460.7 672.1 2461.5 674.7 2461.8 677.6 2461.9 678 2462.2 678.4 2462.6 678.6 2463.1 678.6 2463.5 678.5 2463.9 678.3 2464.1 677.9 2464.2 677.4 2464.2 662.1 2464.1 661.7 2463.8 661.3 2463.4 661 2463 660.9 2447.7 661.3 2447.2 661.3 2446.8 661.6 2446.6 662 2446.5 662.4 2446.6 662.9 2446.8 663.3 2447.2 663.5 2447.6 663.6 2450.4 663.9 2453.1 664.6 2455.5 665.9 2457.7 667.6Z M2412.2 666.7 L2414.5 665.4 2417.1 664.6 2419.8 664.2 2420.3 664.1 2420.6 663.8 2420.8 663.4 2420.9 663 2420.8 662.5 2420.5 662.2 2420.1 661.9 2419.7 661.8 2405 662.2 2404.5 662.3 2404.1 662.5 2403.9 662.9 2403.8 663.4 2403.8 678 2403.9 678.5 2404.1 678.9 2404.5 679.1 2404.9 679.2 2405.4 679.2 2405.8 678.9 2406.1 678.6 2406.2 678.2 2406.5 675.4 2407.2 672.8 2408.5 670.5 2410.1 668.4 2412.2 666.7Z M2321.4 672.6 L2322.7 675 2323.5 677.6 2323.8 680.5 2323.9 680.9 2324.2 681.3 2324.6 681.5 2325.1 681.6 2325.5 681.5 2325.9 681.2 2326.1 680.8 2326.2 680.4 2326.2 665 2326.1 664.6 2325.8 664.2 2325.4 663.9 2325 663.8 2309.7 664.2 2309.2 664.3 2308.8 664.5 2308.6 664.9 2308.5 665.3 2308.6 665.8 2308.8 666.2 2309.2 666.4 2309.6 666.6 2312.4 666.8 2315.1 667.5 2317.5 668.8 2319.7 670.5 2321.4 672.6Z M2681.5 875.5 L2680.3 873.1 2679.5 870.5 2679.2 867.7 2679.1 867.3 2678.8 866.9 2678.4 866.7 2677.9 866.6 2677.5 866.7 2677.1 867 2676.9 867.4 2676.8 867.8 2676.8 882.9 2676.9 883.4 2677.2 883.8 2677.5 884 2678 884.1 2693.1 884 2693.5 883.9 2693.9 883.7 2694.2 883.3 2694.3 882.9 2694.2 882.4 2694 882 2693.6 881.8 2693.2 881.6 2690.4 881.4 2687.8 880.6 2685.4 879.3 2683.3 877.6 2681.5 875.5Z M2585.1 1368.1 L2587.7 1367.9 2590.3 1368.3 2592.8 1369.2 2595 1370.5 2597 1372.2 2598.6 1374.3 2599.8 1376.6 2600.5 1379.1 2600.8 1381.8 2600.9 1382.3 2601.2 1382.6 2601.6 1382.8 2602.1 1382.9 2602.5 1382.8 2602.9 1382.5 2603.1 1382.2 2603.2 1381.7 2603.2 1320.6 2603.1 1320.1 2602.9 1319.8 2602.5 1319.5 2602.1 1319.4 2601.6 1319.4 2601.2 1319.7 2600.9 1320 2572.6 1374.2 2572.5 1374.7 2572.6 1375.1 2572.8 1375.5 2573.1 1375.8 2573.5 1376 2574 1375.9 2574.4 1375.8 2574.7 1375.4 2576.2 1373.1 2578 1371.3 2580.2 1369.7 2582.5 1368.7 2585.1 1368.1Z M2590.7 879.9 L2588.3 881.2 2585.8 882 2583 882.3 2582.5 882.4 2582.2 882.7 2582 883.1 2581.9 883.6 2582 884 2582.3 884.4 2582.7 884.6 2583.1 884.7 2598 884.6 2598.5 884.5 2598.9 884.3 2599.1 883.9 2599.2 883.4 2599.2 868.5 2599.1 868.1 2598.9 867.7 2598.5 867.4 2598.1 867.3 2597.6 867.4 2597.2 867.6 2596.9 867.9 2596.8 868.4 2596.5 871.2 2595.8 873.8 2594.5 876.1 2592.8 878.2 2590.7 879.9Z M2546.5 876.3 L2545.3 873.9 2544.5 871.4 2544.2 868.5 2544.1 868.1 2543.8 867.7 2543.4 867.5 2542.9 867.5 2542.5 867.6 2542.1 867.8 2541.9 868.2 2541.8 868.7 2541.8 883.7 2541.9 884.2 2542.2 884.6 2542.5 884.9 2543 884.9 2558.1 884.9 2558.5 884.8 2558.9 884.5 2559.2 884.1 2559.3 883.7 2559.2 883.3 2559 882.9 2558.6 882.6 2558.2 882.5 2555.4 882.2 2552.8 881.4 2550.4 880.2 2548.3 878.4 2546.5 876.3Z M2455.7 880.8 L2453.3 882 2450.8 882.8 2448 883.1 2447.5 883.3 2447.2 883.5 2447 883.9 2446.9 884.4 2447 884.8 2447.3 885.2 2447.7 885.4 2448.1 885.5 2463 885.4 2463.5 885.3 2463.9 885.1 2464.1 884.7 2464.2 884.2 2464.2 869.3 2464.1 868.9 2463.9 868.5 2463.5 868.2 2463.1 868.1 2462.6 868.2 2462.2 868.4 2461.9 868.8 2461.8 869.2 2461.5 872 2460.8 874.6 2459.5 877 2457.8 879 2455.7 880.8Z M2417.7 1370.5 L2420.2 1369.3 2422.9 1368.6 2425.7 1368.5 2428.5 1368.9 2431.1 1369.9 2433.5 1371.4 2435.5 1373.3 2437.2 1375.7 2437.5 1376 2437.9 1376.2 2438.4 1376.2 2438.8 1376.1 2439.1 1375.8 2439.3 1375.3 2439.3 1374.9 2439.2 1374.5 2411.1 1323.1 2410.8 1322.8 2410.4 1322.6 2409.9 1322.5 2409.5 1322.6 2409.1 1322.9 2408.9 1323.3 2408.8 1323.7 2408.8 1382.2 2408.9 1382.7 2409.1 1383.1 2409.5 1383.3 2409.9 1383.4 2410.4 1383.4 2410.8 1383.2 2411.1 1382.8 2411.2 1382.4 2411.5 1379.5 2412.3 1376.8 2413.7 1374.4 2415.5 1372.2 2417.7 1370.5Z M2408.5 877.2 L2407.3 874.8 2406.5 872.2 2406.2 869.4 2406.1 868.9 2405.8 868.6 2405.4 868.4 2404.9 868.3 2404.5 868.4 2404.1 868.7 2403.9 869 2403.8 869.5 2403.8 884.6 2403.9 885 2404.2 885.4 2404.5 885.7 2405 885.8 2420.1 885.7 2420.5 885.6 2420.9 885.4 2421.2 885 2421.3 884.5 2421.2 884.1 2421 883.7 2420.6 883.4 2420.2 883.3 2417.4 883 2414.8 882.3 2412.4 881 2410.3 879.3 2408.5 877.2Z M2317.7 881.6 L2315.3 882.9 2312.8 883.7 2310 884 2309.5 884.1 2309.2 884.4 2309 884.8 2308.9 885.2 2309 885.7 2309.3 886 2309.7 886.3 2310.1 886.4 2325 886.3 2325.5 886.2 2325.9 885.9 2326.1 885.5 2326.2 885.1 2326.2 870.2 2326.1 869.7 2325.9 869.3 2325.5 869.1 2325.1 869 2324.6 869 2324.2 869.2 2323.9 869.6 2323.8 870 2323.5 872.8 2322.8 875.4 2321.5 877.8 2319.8 879.9 2317.7 881.6Z M2824.6 2145.5 L2827.2 2144.7 2829.9 2144.4 2832.5 2144.6 2835.1 2145.4 2837.6 2146.7 2838.1 2146.8 2838.5 2146.8 2838.9 2146.6 2839.2 2146.2 2839.4 2145.8 2839.3 2145.3 2839.2 2144.9 2838.8 2144.6 2835.7 2142.6 2835.7 2142.5 2827.4 2137.3 2827.4 2137.3 2819.2 2132.1 2819.2 2132.1 2815.6 2129.9 2815.2 2129.7 2814.7 2129.7 2814.2 2130 2813.9 2130.4 2813.8 2130.9 2813.8 2158.2 2813.9 2158.6 2814.1 2159 2814.5 2159.3 2814.9 2159.4 2815.4 2159.3 2815.8 2159.1 2816.1 2158.7 2816.2 2158.3 2816.5 2155.5 2817.2 2152.9 2818.5 2150.6 2820.2 2148.5 2822.3 2146.8 2824.6 2145.5Z M2824.8 1975.2 L2827.4 1974.4 2830.1 1974.2 2832.8 1974.5 2835.5 1975.3 2835.9 1975.4 2836.4 1975.3 2836.7 1975 2837 1974.6 2837.1 1974.1 2837 1973.7 2836.7 1973.3 2836.3 1973.1 2830.7 1970.7 2830.7 1970.7 2821.7 1967 2821.7 1967 2815.4 1964.5 2815 1964.4 2814.5 1964.5 2814.1 1964.7 2813.9 1965.1 2813.8 1965.6 2813.8 1988 2813.9 1988.4 2814.1 1988.8 2814.5 1989.1 2814.9 1989.2 2815.4 1989.1 2815.8 1988.9 2816.1 1988.5 2816.2 1988.1 2816.5 1985.3 2817.3 1982.7 2818.5 1980.3 2820.3 1978.2 2822.4 1976.5 2824.8 1975.2Z M2805.7 2285.8 L2808.1 2286.7 2810.4 2288 2812.4 2289.8 2812.8 2290 2813.2 2290.1 2813.7 2289.9 2814 2289.7 2814.3 2289.3 2814.4 2288.9 2814.3 2288.4 2814 2288 2813 2286.9 2813 2286.9 2806.2 2279.9 2806.2 2279.9 2803.4 2277 2803 2276.8 2802.5 2276.7 2802 2276.8 2801.6 2277.1 2797.4 2281.9 2796.9 2282.4 2792 2286.7 2791.7 2287.1 2791.6 2287.5 2791.6 2287.9 2791.8 2288.3 2792.2 2288.6 2792.6 2288.8 2793.1 2288.8 2793.5 2288.6 2795.7 2287.1 2798.1 2286.1 2800.6 2285.5 2803.2 2285.4 2805.7 2285.8Z M2694.3 2301.5 L2697.1 2301.2 2697.6 2301.1 2697.9 2300.8 2698.1 2300.4 2698.2 2299.9 2698.1 2299.5 2697.8 2299.1 2697.4 2298.9 2697 2298.8 2682 2298.8 2681.5 2298.9 2681.2 2299.2 2680.9 2299.5 2680.8 2300 2680.8 2315 2680.9 2315.4 2681.1 2315.8 2681.5 2316.1 2681.9 2316.2 2682.4 2316.1 2682.8 2315.9 2683.1 2315.6 2683.2 2315.1 2683.5 2312.3 2684.3 2309.7 2685.5 2307.3 2687.2 2305.2 2689.3 2303.5 2691.7 2302.3 2694.3 2301.5Z M2684.3 1723.3 L2683.5 1720.7 2683.2 1717.9 2683.1 1717.4 2682.8 1717.1 2682.4 1716.9 2681.9 1716.8 2681.5 1716.9 2681.1 1717.2 2680.9 1717.6 2680.8 1718 2680.8 1733 2680.9 1733.5 2681.2 1733.8 2681.5 1734.1 2682 1734.2 2697 1734.2 2697.4 1734.1 2697.8 1733.9 2698.1 1733.5 2698.2 1733.1 2698.1 1732.6 2697.9 1732.2 2697.6 1731.9 2697.1 1731.8 2694.3 1731.5 2691.7 1730.7 2689.3 1729.5 2687.2 1727.8 2685.5 1725.7 2684.3 1723.3Z M2600.5 2312.3 L2600.8 2315.1 2600.9 2315.6 2601.2 2315.9 2601.6 2316.1 2602.1 2316.2 2602.5 2316.1 2602.9 2315.8 2603.1 2315.4 2603.2 2315 2603.2 2310 2603.2 2300 2603.1 2299.5 2602.8 2299.2 2602.5 2298.9 2602 2298.8 2587 2298.8 2586.6 2298.9 2586.2 2299.1 2585.9 2299.5 2585.8 2299.9 2585.9 2300.4 2586.1 2300.8 2586.4 2301.1 2586.9 2301.2 2589.7 2301.5 2592.3 2302.3 2594.7 2303.5 2596.8 2305.2 2598.5 2307.3 2599.7 2309.7 2600.5 2312.3Z M2592.3 1730.7 L2589.7 1731.5 2586.9 1731.8 2586.4 1731.9 2586.1 1732.2 2585.9 1732.6 2585.8 1733.1 2585.9 1733.5 2586.2 1733.9 2586.6 1734.1 2587 1734.2 2602 1734.2 2602.5 1734.1 2602.8 1733.8 2603.1 1733.5 2603.2 1733 2603.2 1718 2603.1 1717.6 2602.9 1717.2 2602.5 1716.9 2602.1 1716.8 2601.6 1716.9 2601.2 1717.1 2600.9 1717.4 2600.8 1717.9 2600.5 1720.7 2599.7 1723.3 2598.5 1725.7 2596.8 1727.8 2594.7 1729.5 2592.3 1730.7Z M2550.3 1723.3 L2549.5 1720.7 2549.2 1717.9 2549.1 1717.4 2548.8 1717.1 2548.4 1716.9 2547.9 1716.8 2547.5 1716.9 2547.1 1717.2 2546.9 1717.6 2546.8 1718 2546.8 1733 2546.9 1733.5 2547.2 1733.8 2547.5 1734.1 2548 1734.2 2563 1734.2 2563.4 1734.1 2563.8 1733.9 2564.1 1733.5 2564.2 1733.1 2564.1 1732.6 2563.9 1732.2 2563.6 1731.9 2563.1 1731.8 2560.3 1731.5 2557.7 1730.7 2555.3 1729.5 2553.2 1727.8 2551.5 1725.7 2550.3 1723.3Z M2557.7 2302.3 L2560.3 2301.5 2563.1 2301.2 2563.6 2301.1 2563.9 2300.8 2564.1 2300.4 2564.2 2299.9 2564.1 2299.5 2563.8 2299.1 2563.4 2298.9 2563 2298.8 2548 2298.8 2547.5 2298.9 2547.2 2299.2 2546.9 2299.5 2546.8 2300 2546.8 2310 2546.8 2315 2546.9 2315.4 2547.1 2315.8 2547.5 2316.1 2547.9 2316.2 2548.4 2316.1 2548.8 2315.9 2549.1 2315.6 2549.2 2315.1 2549.5 2312.3 2550.3 2309.7 2551.5 2307.3 2553.2 2305.2 2555.3 2303.5 2557.7 2302.3Z M2465.7 2309.7 L2466.5 2312.3 2466.8 2315.1 2466.9 2315.6 2467.2 2315.9 2467.6 2316.1 2468.1 2316.2 2468.5 2316.1 2468.9 2315.8 2469.1 2315.4 2469.2 2315 2469.2 2310 2469.2 2300 2469.1 2299.5 2468.8 2299.2 2468.5 2298.9 2468 2298.8 2453 2298.8 2452.6 2298.9 2452.2 2299.1 2451.9 2299.5 2451.8 2299.9 2451.9 2300.4 2452.1 2300.8 2452.4 2301.1 2452.9 2301.2 2455.7 2301.5 2458.3 2302.3 2460.7 2303.5 2462.8 2305.2 2464.5 2307.3 2465.7 2309.7Z M2458.3 1730.7 L2455.7 1731.5 2452.9 1731.8 2452.4 1731.9 2452.1 1732.2 2451.9 1732.6 2451.8 1733.1 2451.9 1733.5 2452.2 1733.9 2452.6 1734.1 2453 1734.2 2468 1734.2 2468.5 1734.1 2468.8 1733.8 2469.1 1733.5 2469.2 1733 2469.2 1718 2469.1 1717.6 2468.9 1717.2 2468.5 1716.9 2468.1 1716.8 2467.6 1716.9 2467.2 1717.1 2466.9 1717.4 2466.8 1717.9 2466.5 1720.7 2465.7 1723.3 2464.5 1725.7 2462.8 1727.8 2460.7 1729.5 2458.3 1730.7Z M2412.3 1723.3 L2411.5 1720.7 2411.2 1717.9 2411.1 1717.4 2410.8 1717.1 2410.4 1716.9 2409.9 1716.8 2409.5 1716.9 2409.1 1717.2 2408.9 1717.6 2408.8 1718 2408.8 1733 2408.9 1733.5 2409.2 1733.8 2409.5 1734.1 2410 1734.2 2425 1734.2 2425.4 1734.1 2425.8 1733.9 2426.1 1733.5 2426.2 1733.1 2426.1 1732.6 2425.9 1732.2 2425.6 1731.9 2425.1 1731.8 2422.3 1731.5 2419.7 1730.7 2417.3 1729.5 2415.2 1727.8 2413.5 1725.7 2412.3 1723.3Z M2417.7 2302.3 L2420.3 2301.5 2423.1 2301.2 2423.6 2301.1 2423.9 2300.8 2424.1 2300.4 2424.2 2299.9 2424.1 2299.5 2423.8 2299.1 2423.4 2298.9 2423 2298.8 2408 2298.8 2407.5 2298.9 2407.2 2299.2 2406.9 2299.5 2406.8 2300 2406.8 2310 2406.8 2315 2406.9 2315.4 2407.1 2315.8 2407.5 2316.1 2407.9 2316.2 2408.4 2316.1 2408.8 2315.9 2409.1 2315.6 2409.2 2315.1 2409.5 2312.3 2410.3 2309.7 2411.5 2307.3 2413.2 2305.2 2415.3 2303.5 2417.7 2302.3Z M2320.3 1730.7 L2317.7 1731.5 2314.9 1731.8 2314.4 1731.9 2314.1 1732.2 2313.9 1732.6 2313.8 1733.1 2313.9 1733.5 2314.2 1733.9 2314.6 1734.1 2315 1734.2 2330 1734.2 2330.5 1734.1 2330.8 1733.8 2331.1 1733.5 2331.2 1733 2331.2 1718 2331.1 1717.6 2330.9 1717.2 2330.5 1716.9 2330.1 1716.8 2329.6 1716.9 2329.2 1717.1 2328.9 1717.4 2328.8 1717.9 2328.5 1720.7 2327.7 1723.3 2326.5 1725.7 2324.8 1727.8 2322.7 1729.5 2320.3 1730.7Z M2325.7 2309.7 L2326.5 2312.3 2326.8 2315.1 2326.9 2315.6 2327.2 2315.9 2327.6 2316.1 2328.1 2316.2 2328.5 2316.1 2328.9 2315.8 2329.1 2315.4 2329.2 2315 2329.2 2310 2329.2 2300 2329.1 2299.5 2328.8 2299.2 2328.5 2298.9 2328 2298.8 2313 2298.8 2312.6 2298.9 2312.2 2299.1 2311.9 2299.5 2311.8 2299.9 2311.9 2300.4 2312.1 2300.8 2312.4 2301.1 2312.9 2301.2 2315.7 2301.5 2318.3 2302.3 2320.7 2303.5 2322.8 2305.2 2324.5 2307.3 2325.7 2309.7Z M2219.9 2130 L2221.9 2131.8 2223.6 2133.8 2224.8 2136.2 2225.5 2138.7 2225.8 2141.4 2225.9 2141.9 2226.2 2142.2 2226.6 2142.4 2227.1 2142.5 2227.5 2142.4 2227.9 2142.1 2228.1 2141.8 2228.2 2141.3 2228.2 2115.3 2228.1 2114.8 2227.8 2114.4 2227.4 2114.2 2226.9 2114.1 2226.4 2114.3 2223.3 2116.1 2223.3 2116.1 2214.8 2120.9 2214.8 2120.9 2206.3 2125.9 2206.3 2125.9 2203.7 2127.4 2203.4 2127.7 2203.2 2128.1 2203.2 2128.5 2203.3 2129 2203.6 2129.3 2204 2129.5 2204.4 2129.6 2204.9 2129.5 2207.4 2128.3 2209.9 2127.7 2212.5 2127.5 2215.2 2127.9 2217.7 2128.7 2219.9 2130Z M2221.6 1969.8 L2223.4 1971.9 2224.7 1974.3 2225.5 1977 2225.8 1979.8 2225.9 1980.3 2226.2 1980.6 2226.6 1980.8 2227.1 1980.9 2227.5 1980.8 2227.9 1980.5 2228.1 1980.1 2228.2 1979.7 2228.2 1956.3 2228.1 1955.9 2227.8 1955.5 2227.4 1955.2 2227 1955.1 2226.5 1955.2 2218.2 1959 2218.2 1959 2209.3 1963.1 2209.3 1963.1 2205.1 1965 2204.8 1965.3 2204.5 1965.7 2204.4 1966.1 2204.5 1966.6 2204.8 1967 2205.1 1967.2 2205.6 1967.3 2206 1967.3 2208.8 1966.3 2211.5 1965.9 2214.3 1966.1 2216.9 1966.8 2219.4 1968.1 2221.6 1969.8Z M2597.8 3129.5 L2600.5 3129.7 2603.1 3130.5 2605.6 3131.8 2607.7 3133.5 2609.4 3135.6 2610.7 3138 2611.5 3140.6 2611.8 3143.4 2611.9 3143.8 2612.2 3144.2 2612.6 3144.4 2613.1 3144.5 2613.5 3144.4 2613.9 3144.1 2614.1 3143.7 2614.2 3143.3 2614.2 3106 2614.1 3105.5 2613.8 3105.1 2613.4 3104.8 2613 3104.8 2612.5 3104.9 2612.1 3105.1 2586.3 3132.1 2586.1 3132.5 2586 3132.9 2586.1 3133.4 2586.3 3133.7 2586.7 3134 2587.1 3134.1 2587.6 3134 2588 3133.8 2590.1 3132 2592.5 3130.6 2595.1 3129.8 2597.8 3129.5Z M2596.8 2466.3 L2594.7 2468 2592.3 2469.3 2589.8 2470.1 2587.1 2470.4 2584.4 2470.1 2581.8 2469.4 2579.4 2468.1 2577.3 2466.3 2576.9 2466.1 2576.4 2466.1 2576 2466.2 2575.6 2466.5 2575.4 2466.9 2575.3 2467.3 2575.4 2467.8 2575.7 2468.1 2601.2 2493.1 2601.6 2493.4 2602 2493.5 2602.5 2493.4 2602.9 2493.1 2603.1 2492.7 2603.2 2492.3 2603.2 2456.6 2603.1 2456.1 2602.9 2455.7 2602.5 2455.5 2602.1 2455.4 2601.6 2455.4 2601.2 2455.7 2600.9 2456 2600.8 2456.4 2600.5 2459.2 2599.8 2461.8 2598.5 2464.2 2596.8 2466.3Z M2420.3 3123.4 L2422.4 3121.7 2424.8 3120.5 2427.4 3119.7 2430.1 3119.4 2432.8 3119.7 2435.3 3120.5 2437.7 3121.8 2439.9 3123.6 2440.3 3123.8 2440.8 3123.9 2441.2 3123.8 2441.6 3123.5 2441.8 3123.1 2441.9 3122.7 2441.8 3122.2 2441.5 3121.8 2415.9 3095.8 2415.5 3095.6 2415 3095.5 2414.5 3095.6 2414.2 3095.8 2413.9 3096.2 2413.8 3096.7 2413.8 3133.2 2413.9 3133.7 2414.1 3134 2414.5 3134.3 2414.9 3134.4 2415.4 3134.4 2415.8 3134.1 2416.1 3133.8 2416.2 3133.3 2416.5 3130.5 2417.3 3127.9 2418.5 3125.5 2420.3 3123.4Z M2423 2493.2 L2420.3 2492.9 2417.7 2492.1 2415.3 2490.8 2413.2 2489.1 2411.5 2487 2410.3 2484.6 2409.5 2482.1 2409.2 2479.3 2409.1 2478.8 2408.8 2478.5 2408.4 2478.2 2407.9 2478.2 2407.5 2478.3 2407.1 2478.5 2406.9 2478.9 2406.8 2479.4 2406.8 2515.5 2406.9 2515.9 2407.2 2516.3 2407.5 2516.6 2408 2516.7 2408.5 2516.6 2408.8 2516.3 2434.4 2490.9 2434.7 2490.5 2434.8 2490 2434.7 2489.6 2434.5 2489.2 2434.1 2488.9 2433.7 2488.8 2433.2 2488.9 2432.8 2489.1 2430.6 2490.9 2428.3 2492.1 2425.7 2492.9 2423 2493.2Z M3125.3 2980.3 L3122.8 2980.5 3120.2 2980.1 3117.8 2979.3 3115.5 2978.1 3113.5 2976.4 3111.8 2974.3 3111.5 2974 3111.1 2973.9 3110.6 2973.9 3110.2 2974.1 3109.9 2974.5 3109.7 2974.9 3109.7 2975.3 3109.9 2975.8 3114.7 2982.8 3115.2 2983.5 3119.2 2989.8 3119.6 2990.2 3120.1 2990.4 3120.6 2990.3 3121 2990.1 3123 2988.3 3123.1 2988.2 3133.9 2979 3134.1 2978.6 3134.3 2978.2 3134.2 2977.7 3134 2977.3 3133.7 2977 3133.3 2976.9 3132.8 2976.9 3132.4 2977.1 3130.2 2978.6 3127.8 2979.7 3125.3 2980.3Z M3054.7 3041.8 L3054.3 3044.6 3053.4 3047.2 3052 3049.6 3050.1 3051.7 3049.9 3052.1 3049.8 3052.5 3049.9 3053 3050.2 3053.4 3050.5 3053.6 3051 3053.7 3051.4 3053.6 3051.8 3053.4 3061.2 3044.8 3061.4 3044.5 3061.6 3044.1 3061.5 3043.7 3061.4 3043.3 3055.4 3034 3054.5 3032.7 3054.2 3032.3 3053.8 3032.1 3053.3 3032.1 3052.9 3032.3 3052.6 3032.6 3052.3 3033 3052.3 3033.4 3052.4 3033.8 3053.7 3036.4 3054.5 3039.1 3054.7 3041.8Z M2817.5 3922.4 L2816.3 3920 2815.5 3917.4 2815.2 3914.6 2815.1 3914.2 2814.8 3913.8 2814.4 3913.6 2813.9 3913.5 2813.5 3913.6 2813.1 3913.9 2812.9 3914.3 2812.8 3914.7 2812.8 3933 2812.9 3933.5 2813.2 3933.9 2813.7 3934.2 2814.2 3934.2 2820.3 3933 2820.3 3933 2830 3931.1 2830 3931.1 2832.2 3930.6 2832.7 3930.4 2833 3930.1 2833.2 3929.7 2833.2 3929.2 2833 3928.8 2832.7 3928.5 2832.3 3928.3 2831.9 3928.2 2829.1 3928.5 2826.4 3928.3 2823.8 3927.5 2821.4 3926.2 2819.3 3924.5 2817.5 3922.4Z M2823.7 4014.1 L2826.5 4013.3 2826.9 4013.1 2827.1 4012.8 2827.3 4012.3 2827.3 4011.9 2827.1 4011.5 2826.8 4011.2 2826.3 4011 2825.9 4011 2825.5 4011.1 2813.8 4013.4 2813.4 4013.5 2813.1 4013.8 2812.9 4014.1 2812.8 4014.6 2812.8 4026.9 2812.9 4027.3 2813.1 4027.7 2813.5 4028 2813.9 4028.1 2814.4 4028 2814.8 4027.8 2815.1 4027.4 2815.2 4027 2815.5 4024.2 2816.3 4021.6 2817.5 4019.2 2819.3 4017.1 2821.4 4015.4 2823.7 4014.1Z M2708.3 4095.5 L2711.1 4095.2 2711.6 4095.1 2711.9 4094.8 2712.1 4094.4 2712.2 4093.9 2712.1 4093.5 2711.8 4093.1 2711.4 4092.9 2711 4092.8 2696 4092.8 2695.5 4092.9 2695.2 4093.2 2694.9 4093.5 2694.8 4094 2694.8 4095.2 2694.8 4105.5 2694.8 4109 2694.9 4109.4 2695.1 4109.8 2695.5 4110.1 2695.9 4110.2 2696.4 4110.1 2696.8 4109.9 2697.1 4109.6 2697.2 4109.1 2697.5 4106.3 2698.3 4103.7 2699.5 4101.3 2701.2 4099.2 2703.3 4097.5 2705.7 4096.3 2708.3 4095.5Z M2695.3 3517.3 L2694.5 3514.7 2694.2 3511.9 2694.1 3511.4 2693.8 3511.1 2693.4 3510.9 2692.9 3510.8 2692.5 3510.9 2692.1 3511.2 2691.9 3511.6 2691.8 3512 2691.8 3527 2691.9 3527.5 2692.2 3527.8 2692.5 3528.1 2693 3528.2 2708 3528.2 2708.4 3528.1 2708.8 3527.9 2709.1 3527.5 2709.2 3527.1 2709.1 3526.6 2708.9 3526.2 2708.6 3525.9 2708.1 3525.8 2705.3 3525.5 2702.7 3524.7 2700.3 3523.5 2698.2 3521.8 2696.5 3519.7 2695.3 3517.3Z M2614.5 4106.3 L2614.8 4109.1 2614.9 4109.6 2615.2 4109.9 2615.6 4110.1 2616.1 4110.2 2616.5 4110.1 2616.9 4109.8 2617.1 4109.4 2617.2 4109 2617.2 4105.5 2617.2 4095.2 2617.2 4094 2617.1 4093.5 2616.8 4093.2 2616.5 4092.9 2616 4092.8 2601 4092.8 2600.6 4092.9 2600.2 4093.1 2599.9 4093.5 2599.8 4093.9 2599.9 4094.4 2600.1 4094.8 2600.4 4095.1 2600.9 4095.2 2603.7 4095.5 2606.3 4096.3 2608.7 4097.5 2610.8 4099.2 2612.5 4101.3 2613.7 4103.7 2614.5 4106.3Z M2603.3 3524.7 L2600.7 3525.5 2597.9 3525.8 2597.4 3525.9 2597.1 3526.2 2596.9 3526.6 2596.8 3527.1 2596.9 3527.5 2597.2 3527.9 2597.6 3528.1 2598 3528.2 2613 3528.2 2613.5 3528.1 2613.8 3527.8 2614.1 3527.5 2614.2 3527 2614.2 3512 2614.1 3511.6 2613.9 3511.2 2613.5 3510.9 2613.1 3510.8 2612.6 3510.9 2612.2 3511.1 2611.9 3511.4 2611.8 3511.9 2611.5 3514.7 2610.7 3517.3 2609.5 3519.7 2607.8 3521.8 2605.7 3523.5 2603.3 3524.7Z M2570.7 4096.3 L2573.3 4095.5 2576.1 4095.2 2576.6 4095.1 2576.9 4094.8 2577.1 4094.4 2577.2 4093.9 2577.1 4093.5 2576.8 4093.1 2576.4 4092.9 2576 4092.8 2561 4092.8 2560.5 4092.9 2560.2 4093.2 2559.9 4093.5 2559.8 4094 2559.8 4109 2559.9 4109.4 2560.1 4109.8 2560.5 4110.1 2560.9 4110.2 2561.4 4110.1 2561.8 4109.9 2562.1 4109.6 2562.2 4109.1 2562.5 4106.3 2563.3 4103.7 2564.5 4101.3 2566.2 4099.2 2568.3 4097.5 2570.7 4096.3Z M2556.3 3517.3 L2555.5 3514.7 2555.2 3511.9 2555.1 3511.4 2554.8 3511.1 2554.4 3510.9 2553.9 3510.8 2553.5 3510.9 2553.1 3511.2 2552.9 3511.6 2552.8 3512 2552.8 3527 2552.9 3527.5 2553.2 3527.8 2553.5 3528.1 2554 3528.2 2569 3528.2 2569.4 3528.1 2569.8 3527.9 2570.1 3527.5 2570.2 3527.1 2570.1 3526.6 2569.9 3526.2 2569.6 3525.9 2569.1 3525.8 2566.3 3525.5 2563.7 3524.7 2561.3 3523.5 2559.2 3521.8 2557.5 3519.7 2556.3 3517.3Z M2478.7 4103.7 L2479.5 4106.3 2479.8 4109.1 2479.9 4109.6 2480.2 4109.9 2480.6 4110.1 2481.1 4110.2 2481.5 4110.1 2481.9 4109.8 2482.1 4109.4 2482.2 4109 2482.2 4094 2482.1 4093.5 2481.8 4093.2 2481.5 4092.9 2481 4092.8 2466 4092.8 2465.6 4092.9 2465.2 4093.1 2464.9 4093.5 2464.8 4093.9 2464.9 4094.4 2465.1 4094.8 2465.4 4095.1 2465.9 4095.2 2468.7 4095.5 2471.3 4096.3 2473.7 4097.5 2475.8 4099.2 2477.5 4101.3 2478.7 4103.7Z M2464.3 3524.7 L2461.7 3525.5 2458.9 3525.8 2458.4 3525.9 2458.1 3526.2 2457.9 3526.6 2457.8 3527.1 2457.9 3527.5 2458.2 3527.9 2458.6 3528.1 2459 3528.2 2474 3528.2 2474.5 3528.1 2474.8 3527.8 2475.1 3527.5 2475.2 3527 2475.2 3512 2475.1 3511.6 2474.9 3511.2 2474.5 3510.9 2474.1 3510.8 2473.6 3510.9 2473.2 3511.1 2472.9 3511.4 2472.8 3511.9 2472.5 3514.7 2471.7 3517.3 2470.5 3519.7 2468.8 3521.8 2466.7 3523.5 2464.3 3524.7Z M2435.3 4095.5 L2438.1 4095.2 2438.6 4095.1 2438.9 4094.8 2439.1 4094.4 2439.2 4093.9 2439.1 4093.5 2438.8 4093.1 2438.4 4092.9 2438 4092.8 2423 4092.8 2422.5 4092.9 2422.2 4093.2 2421.9 4093.5 2421.8 4094 2421.8 4095.2 2421.8 4105.5 2421.8 4109 2421.9 4109.4 2422.1 4109.8 2422.5 4110.1 2422.9 4110.2 2423.4 4110.1 2423.8 4109.9 2424.1 4109.6 2424.2 4109.1 2424.5 4106.3 2425.3 4103.7 2426.5 4101.3 2428.2 4099.2 2430.3 4097.5 2432.7 4096.3 2435.3 4095.5Z M2417.3 3517.3 L2416.5 3514.7 2416.2 3511.9 2416.1 3511.4 2415.8 3511.1 2415.4 3510.9 2414.9 3510.8 2414.5 3510.9 2414.1 3511.2 2413.9 3511.6 2413.8 3512 2413.8 3527 2413.9 3527.5 2414.2 3527.8 2414.5 3528.1 2415 3528.2 2430 3528.2 2430.4 3528.1 2430.8 3527.9 2431.1 3527.5 2431.2 3527.1 2431.1 3526.6 2430.9 3526.2 2430.6 3525.9 2430.1 3525.8 2427.3 3525.5 2424.7 3524.7 2422.3 3523.5 2420.2 3521.8 2418.5 3519.7 2417.3 3517.3Z M2341.5 4106.3 L2341.8 4109.1 2341.9 4109.6 2342.2 4109.9 2342.6 4110.1 2343.1 4110.2 2343.5 4110.1 2343.9 4109.8 2344.1 4109.4 2344.2 4109 2344.2 4105.5 2344.2 4095.2 2344.2 4094 2344.1 4093.5 2343.8 4093.2 2343.5 4092.9 2343 4092.8 2328 4092.8 2327.6 4092.9 2327.2 4093.1 2326.9 4093.5 2326.8 4093.9 2326.9 4094.4 2327.1 4094.8 2327.4 4095.1 2327.9 4095.2 2330.7 4095.5 2333.3 4096.3 2335.7 4097.5 2337.8 4099.2 2339.5 4101.3 2340.7 4103.7 2341.5 4106.3Z M2325.3 3524.7 L2322.7 3525.5 2319.9 3525.8 2319.4 3525.9 2319.1 3526.2 2318.9 3526.6 2318.8 3527.1 2318.9 3527.5 2319.2 3527.9 2319.6 3528.1 2320 3528.2 2335 3528.2 2335.5 3528.1 2335.8 3527.8 2336.1 3527.5 2336.2 3527 2336.2 3512 2336.1 3511.6 2335.9 3511.2 2335.5 3510.9 2335.1 3510.8 2334.6 3510.9 2334.2 3511.1 2333.9 3511.4 2333.8 3511.9 2333.5 3514.7 2332.7 3517.3 2331.5 3519.7 2329.8 3521.8 2327.7 3523.5 2325.3 3524.7Z M2224.6 3920.7 L2222 3921.6 2219.4 3921.9 2216.6 3921.7 2216.2 3921.8 2215.8 3922 2215.5 3922.3 2215.4 3922.8 2215.4 3923.2 2215.6 3923.6 2215.9 3923.9 2216.4 3924.1 2216.5 3924.1 2216.5 3924.1 2226.1 3925.6 2226.1 3925.6 2233.8 3926.8 2234.3 3926.7 2234.8 3926.5 2235.1 3926.1 2235.2 3925.6 2235.2 3908.1 2235.1 3907.7 2234.9 3907.3 2234.5 3907 2234.1 3906.9 2233.6 3907 2233.2 3907.2 2232.9 3907.5 2232.8 3908 2232.5 3910.7 2231.8 3913.3 2230.6 3915.6 2228.9 3917.7 2226.9 3919.4 2224.6 3920.7Z M2232.5 4016.6 L2232.8 4019.5 2232.9 4020 2233.2 4020.3 2233.6 4020.5 2234.1 4020.6 2234.5 4020.5 2234.9 4020.2 2235.1 4019.9 2235.2 4019.4 2235.2 4006.4 2235.1 4006 2234.9 4005.6 2234.6 4005.4 2234.2 4005.2 2224.6 4003.9 2224.3 4003.8 2221.4 4003.4 2221 4003.4 2220.5 4003.6 2220.2 4003.9 2220.1 4004.3 2220.1 4004.8 2220.2 4005.2 2220.5 4005.5 2220.9 4005.7 2223.8 4006.5 2226.3 4007.7 2228.5 4009.4 2230.3 4011.5 2231.7 4014 2232.5 4016.6Z M2231.7 3774.7 L2232.5 3777.3 2232.8 3780.2 2232.9 3780.7 2233.2 3781 2233.6 3781.2 2234.1 3781.3 2234.5 3781.2 2234.9 3780.9 2235.1 3780.6 2235.2 3780.1 2235.2 3767.2 2235.1 3766.7 2234.9 3766.4 2234.6 3766.1 2234.1 3766 2233.7 3765.9 2223.5 3764.4 2221.5 3764.1 2221 3764.1 2220.6 3764.3 2220.3 3764.6 2220.1 3765 2220.1 3765.5 2220.3 3765.9 2220.6 3766.3 2221 3766.4 2223.8 3767.2 2226.3 3768.4 2228.5 3770.1 2230.3 3772.2 2231.7 3774.7Z M2224.9 3659.2 L2222.4 3660.1 2219.8 3660.5 2217.1 3660.4 2216.7 3660.5 2216.3 3660.7 2216 3661.1 2215.9 3661.5 2215.9 3662 2216.2 3662.4 2216.5 3662.7 2216.9 3662.8 2217.1 3662.8 2217.1 3662.8 2226.7 3664 2226.7 3664 2233.9 3664.8 2234.4 3664.7 2234.8 3664.5 2235.1 3664.1 2235.2 3663.6 2235.2 3646.7 2235.1 3646.3 2234.9 3645.9 2234.5 3645.7 2234.1 3645.5 2233.6 3645.6 2233.2 3645.8 2232.9 3646.2 2232.8 3646.6 2232.5 3649.3 2231.8 3651.8 2230.6 3654.1 2229 3656.2 2227.1 3657.9 2224.9 3659.2Z M2822.9 4528.2 L2821.3 4526.2 2820.2 4523.9 2819.4 4521.4 2819.2 4518.7 2819.1 4518.3 2818.8 4517.9 2818.4 4517.7 2817.9 4517.6 2817.5 4517.7 2817.1 4518 2816.9 4518.4 2816.8 4518.8 2816.8 4539.2 2816.9 4539.6 2817.1 4540 2817.5 4540.3 2817.9 4540.4 2818.4 4540.3 2825.1 4538.3 2825.1 4538.3 2834.5 4535.3 2834.5 4535.3 2837.9 4534.3 2838.3 4534.1 2838.6 4533.7 2838.7 4533.3 2838.7 4532.8 2838.5 4532.4 2838.1 4532.1 2837.7 4531.9 2837.2 4532 2834.6 4532.5 2832 4532.6 2829.5 4532.2 2827.1 4531.3 2824.8 4529.9 2822.9 4528.2Z M2821.5 4390.1 L2820.2 4387.7 2819.5 4385.2 2819.2 4382.4 2819.1 4382 2818.8 4381.6 2818.4 4381.4 2817.9 4381.3 2817.5 4381.4 2817.1 4381.7 2816.9 4382.1 2816.8 4382.5 2816.8 4400.1 2816.9 4400.6 2817.2 4401 2817.7 4401.3 2818.2 4401.3 2822.2 4400.7 2822.2 4400.7 2831.5 4399.2 2831.6 4399.2 2835.8 4398.5 2836.2 4398.3 2836.5 4398 2836.7 4397.6 2836.7 4397.2 2836.6 4396.7 2836.3 4396.4 2835.9 4396.2 2835.5 4396.1 2832.7 4396.3 2830 4396 2827.5 4395.2 2825.2 4393.9 2823.1 4392.2 2821.5 4390.1Z M2820.2 4672.4 L2819.5 4669.9 2819.2 4667.1 2819.1 4666.7 2818.8 4666.3 2818.4 4666.1 2817.9 4666 2817.5 4666.1 2817.1 4666.4 2816.9 4666.8 2816.8 4667.2 2816.8 4684.5 2816.9 4685 2817.2 4685.4 2817.7 4685.7 2818.2 4685.7 2824 4685 2824 4684.9 2833.3 4683.6 2833.3 4683.6 2835.5 4683.2 2836 4683.1 2836.3 4682.8 2836.5 4682.4 2836.6 4681.9 2836.4 4681.5 2836.1 4681.1 2835.7 4680.9 2835.3 4680.9 2832.5 4681 2829.9 4680.7 2827.4 4679.8 2825.1 4678.5 2823.1 4676.8 2821.4 4674.8 2820.2 4672.4Z M2831.3 4764.7 L2831.7 4764.5 2832 4764.2 2832.2 4763.7 2832.2 4763.3 2832 4762.9 2831.7 4762.5 2831.3 4762.4 2830.9 4762.3 2824.7 4763.1 2817.8 4764.1 2817.4 4764.2 2817.1 4764.5 2816.9 4764.8 2816.8 4765.2 2816.8 4778.4 2816.9 4778.8 2817.1 4779.2 2817.5 4779.5 2817.9 4779.6 2818.4 4779.5 2818.8 4779.3 2819.1 4778.9 2819.2 4778.5 2819.5 4775.6 2820.4 4772.9 2821.7 4770.4 2823.6 4768.3 2825.9 4766.6 2828.4 4765.4 2831.3 4764.7Z M2828.2 4481 L2831.1 4480.3 2831.5 4480.1 2831.8 4479.8 2831.9 4479.3 2831.9 4478.9 2831.8 4478.5 2831.5 4478.1 2831 4478 2830.6 4477.9 2824.2 4478.9 2817.8 4479.9 2817.4 4480 2817.1 4480.3 2816.9 4480.6 2816.8 4481 2816.8 4494 2816.9 4494.4 2817.1 4494.8 2817.5 4495 2817.9 4495.1 2818.4 4495.1 2818.8 4494.9 2819.1 4494.5 2819.2 4494.1 2819.5 4491.2 2820.3 4488.5 2821.7 4486.1 2823.5 4483.9 2825.7 4482.2 2828.2 4481Z M2698.3 4277.3 L2697.5 4274.7 2697.2 4271.9 2697.1 4271.4 2696.8 4271.1 2696.4 4270.9 2695.9 4270.8 2695.5 4270.9 2695.1 4271.2 2694.9 4271.6 2694.8 4272 2694.8 4287 2694.9 4287.5 2695.2 4287.8 2695.5 4288.1 2696 4288.2 2711 4288.2 2711.4 4288.1 2711.8 4287.9 2712.1 4287.5 2712.2 4287.1 2712.1 4286.6 2711.9 4286.2 2711.6 4285.9 2711.1 4285.8 2708.3 4285.5 2705.7 4284.7 2703.3 4283.5 2701.2 4281.8 2699.5 4279.7 2698.3 4277.3Z M2606.3 4284.7 L2603.7 4285.5 2600.9 4285.8 2600.4 4285.9 2600.1 4286.2 2599.9 4286.6 2599.8 4287.1 2599.9 4287.5 2600.2 4287.9 2600.6 4288.1 2601 4288.2 2616 4288.2 2616.5 4288.1 2616.8 4287.8 2617.1 4287.5 2617.2 4287 2617.2 4272 2617.1 4271.6 2616.9 4271.2 2616.5 4270.9 2616.1 4270.8 2615.6 4270.9 2615.2 4271.1 2614.9 4271.4 2614.8 4271.9 2614.5 4274.7 2613.7 4277.3 2612.5 4279.7 2610.8 4281.8 2608.7 4283.5 2606.3 4284.7Z M2563.3 4277.3 L2562.5 4274.7 2562.2 4271.9 2562.1 4271.4 2561.8 4271.1 2561.4 4270.9 2560.9 4270.8 2560.5 4270.9 2560.1 4271.2 2559.9 4271.6 2559.8 4272 2559.8 4287 2559.9 4287.5 2560.2 4287.8 2560.5 4288.1 2561 4288.2 2576 4288.2 2576.4 4288.1 2576.8 4287.9 2577.1 4287.5 2577.2 4287.1 2577.1 4286.6 2576.9 4286.2 2576.6 4285.9 2576.1 4285.8 2573.3 4285.5 2570.7 4284.7 2568.3 4283.5 2566.2 4281.8 2564.5 4279.7 2563.3 4277.3Z M2471.3 4284.7 L2468.7 4285.5 2465.9 4285.8 2465.4 4285.9 2465.1 4286.2 2464.9 4286.6 2464.8 4287.1 2464.9 4287.5 2465.2 4287.9 2465.6 4288.1 2466 4288.2 2481 4288.2 2481.5 4288.1 2481.8 4287.8 2482.1 4287.5 2482.2 4287 2482.2 4272 2482.1 4271.6 2481.9 4271.2 2481.5 4270.9 2481.1 4270.8 2480.6 4270.9 2480.2 4271.1 2479.9 4271.4 2479.8 4271.9 2479.5 4274.7 2478.7 4277.3 2477.5 4279.7 2475.8 4281.8 2473.7 4283.5 2471.3 4284.7Z M2425.3 4277.3 L2424.5 4274.7 2424.2 4271.9 2424.1 4271.4 2423.8 4271.1 2423.4 4270.9 2422.9 4270.8 2422.5 4270.9 2422.1 4271.2 2421.9 4271.6 2421.8 4272 2421.8 4287 2421.9 4287.5 2422.2 4287.8 2422.5 4288.1 2423 4288.2 2438 4288.2 2438.4 4288.1 2438.8 4287.9 2439.1 4287.5 2439.2 4287.1 2439.1 4286.6 2438.9 4286.2 2438.6 4285.9 2438.1 4285.8 2435.3 4285.5 2432.7 4284.7 2430.3 4283.5 2428.2 4281.8 2426.5 4279.7 2425.3 4277.3Z M2333.3 4284.7 L2330.7 4285.5 2327.9 4285.8 2327.4 4285.9 2327.1 4286.2 2326.9 4286.6 2326.8 4287.1 2326.9 4287.5 2327.2 4287.9 2327.6 4288.1 2328 4288.2 2343 4288.2 2343.5 4288.1 2343.8 4287.8 2344.1 4287.5 2344.2 4287 2344.2 4272 2344.1 4271.6 2343.9 4271.2 2343.5 4270.9 2343.1 4270.8 2342.6 4270.9 2342.2 4271.1 2341.9 4271.4 2341.8 4271.9 2341.5 4274.7 2340.7 4277.3 2339.5 4279.7 2337.8 4281.8 2335.7 4283.5 2333.3 4284.7Z M2230.7 4687 L2228 4687.7 2225.1 4687.8 2224.7 4687.9 2224.3 4688.2 2224.1 4688.5 2224 4689 2224.1 4689.4 2224.3 4689.8 2224.7 4690.1 2225.1 4690.2 2232.5 4690.6 2232.5 4690.6 2240.9 4691 2241.4 4690.9 2241.8 4690.7 2242.1 4690.3 2242.2 4689.8 2242.2 4674 2242.1 4673.6 2241.9 4673.2 2241.5 4672.9 2241.1 4672.8 2240.6 4672.9 2240.2 4673.1 2239.9 4673.5 2239.8 4673.9 2239.5 4676.8 2238.7 4679.5 2237.3 4681.9 2235.5 4684 2233.3 4685.7 2230.7 4687Z M2238.8 4779.1 L2239.5 4781.6 2239.8 4784.3 2239.9 4784.7 2240.2 4785.1 2240.6 4785.3 2241.1 4785.4 2241.5 4785.3 2241.9 4785 2242.1 4784.6 2242.2 4784.2 2242.2 4769.9 2242.1 4769.5 2241.9 4769.1 2241.5 4768.8 2241.1 4768.7 2238.9 4768.6 2228.7 4768.1 2228.4 4768.1 2226.9 4768 2226.4 4768.1 2226.1 4768.3 2225.8 4768.7 2225.6 4769.1 2225.7 4769.5 2225.9 4769.9 2226.2 4770.2 2226.7 4770.4 2229.3 4770.8 2231.8 4771.7 2234.1 4773 2236 4774.7 2237.6 4776.8 2238.8 4779.1Z M2238.6 4648.9 L2239.5 4651.7 2239.8 4654.6 2239.9 4655.1 2240.2 4655.4 2240.6 4655.7 2241.1 4655.7 2241.5 4655.6 2241.9 4655.3 2242.1 4655 2242.2 4654.5 2242.2 4641 2242.1 4640.6 2241.9 4640.2 2241.5 4639.9 2241.1 4639.8 2235.4 4639.2 2227.7 4638.4 2227.2 4638.4 2226.8 4638.6 2226.5 4639 2226.4 4639.4 2226.4 4639.9 2226.6 4640.3 2226.9 4640.6 2227.3 4640.8 2230.3 4641.4 2232.9 4642.6 2235.2 4644.3 2237.2 4646.4 2238.6 4648.9Z M2237.7 4494.8 L2238.9 4497.1 2239.6 4499.5 2239.8 4502.2 2239.9 4502.6 2240.2 4503 2240.6 4503.2 2241.1 4503.3 2241.5 4503.1 2241.9 4502.9 2242.1 4502.5 2242.2 4502.1 2242.2 4488.4 2242.1 4488 2241.9 4487.6 2241.5 4487.3 2241.1 4487.2 2236.1 4486.7 2227.5 4485.9 2227.1 4486 2226.7 4486.2 2226.4 4486.5 2226.2 4487 2226.2 4487.4 2226.4 4487.8 2226.8 4488.1 2227.2 4488.3 2229.8 4488.8 2232.2 4489.7 2234.3 4491.1 2236.2 4492.8 2237.7 4494.8Z M2232 4403.9 L2229.5 4404.8 2227 4405.2 2224.3 4405.2 2223.9 4405.2 2223.5 4405.5 2223.2 4405.8 2223.1 4406.3 2223.1 4406.7 2223.4 4407.1 2223.7 4407.4 2224.1 4407.6 2224.4 4407.6 2224.4 4407.6 2233.8 4408.6 2233.8 4408.6 2240.9 4409.2 2241.4 4409.2 2241.8 4408.9 2242.1 4408.5 2242.2 4408 2242.2 4391.5 2242.1 4391 2241.9 4390.6 2241.5 4390.4 2241.1 4390.3 2240.6 4390.3 2240.2 4390.6 2239.9 4390.9 2239.8 4391.4 2239.6 4394 2238.8 4396.5 2237.7 4398.8 2236.1 4400.9 2234.2 4402.6 2232 4403.9Z M2231.9 4556.3 L2229.4 4557.2 2226.9 4557.6 2224.2 4557.5 2223.7 4557.6 2223.3 4557.8 2223 4558.2 2222.9 4558.6 2223 4559.1 2223.2 4559.5 2223.5 4559.7 2224 4559.9 2224.3 4559.9 2224.3 4559.9 2233.8 4561 2233.8 4561 2240.9 4561.8 2241.4 4561.7 2241.8 4561.5 2242.1 4561.1 2242.2 4560.6 2242.2 4543.8 2242.1 4543.4 2241.9 4543 2241.5 4542.7 2241.1 4542.6 2240.6 4542.7 2240.2 4542.9 2239.9 4543.3 2239.8 4543.7 2239.6 4546.4 2238.8 4548.9 2237.6 4551.2 2236.1 4553.3 2234.1 4555 2231.9 4556.3Z M1573.3 3641.2 L1573.4 3638.6 1573.9 3636 1575 3633.5 1576.5 3631.2 1576.7 3630.8 1576.7 3630.4 1576.6 3629.9 1576.3 3629.6 1575.9 3629.4 1575.4 3629.4 1575 3629.5 1574.6 3629.8 1572.5 3632.4 1572.5 3632.4 1565.8 3640.6 1563.5 3643.5 1563.3 3643.9 1563.2 3644.4 1563.4 3644.9 1563.8 3645.2 1578.9 3654.1 1579.3 3654.3 1579.8 3654.2 1580.2 3654.1 1580.5 3653.7 1580.7 3653.3 1580.7 3652.9 1580.5 3652.4 1580.2 3652.1 1577.9 3650.5 1576.1 3648.5 1574.7 3646.3 1573.8 3643.8 1573.3 3641.2Z M1553.9 3926.1 L1555.9 3924.1 1558.5 3922.4 1558.8 3922.1 1559 3921.7 1559 3921.3 1558.9 3920.8 1558.6 3920.5 1558.2 3920.3 1557.7 3920.2 1557.3 3920.4 1545.2 3926.5 1544.9 3926.7 1544.7 3927.1 1544.6 3927.6 1544.7 3928 1548 3936.6 1549.5 3940.6 1549.7 3941 1550.1 3941.2 1550.5 3941.4 1551 3941.3 1551.4 3941.1 1551.7 3940.7 1551.8 3940.3 1551.8 3939.8 1551 3936.9 1550.8 3934.1 1551.3 3931.2 1552.3 3928.5 1553.9 3926.1Z M1489.4 3597.4 L1486.7 3596.8 1484.1 3595.6 1483.6 3595.5 1483.2 3595.5 1482.8 3595.7 1482.5 3596.1 1482.4 3596.5 1482.4 3597 1482.6 3597.4 1483 3597.7 1494.1 3604.2 1494.5 3604.4 1494.9 3604.4 1495.3 3604.2 1495.6 3604 1503.8 3593.9 1504 3593.5 1504 3593.1 1503.9 3592.6 1503.6 3592.3 1503.2 3592 1502.8 3592 1502.3 3592.1 1502 3592.3 1499.9 3594.4 1497.6 3595.9 1495 3597 1492.2 3597.5 1489.4 3597.4Z M1473.5 3973.3 L1475.8 3975.1 1477.6 3977.3 1479 3979.9 1479.3 3980.3 1479.7 3980.5 1480.1 3980.5 1480.5 3980.4 1480.9 3980.2 1481.2 3979.8 1481.2 3979.3 1481.2 3978.9 1479.4 3974.5 1479.1 3973.9 1475.5 3964.4 1475.2 3963.6 1474.9 3963.2 1474.5 3962.9 1474 3962.9 1473.6 3963 1458.8 3970.5 1458.4 3970.8 1458.2 3971.2 1458.1 3971.6 1458.2 3972.1 1458.5 3972.4 1458.9 3972.7 1459.3 3972.8 1459.8 3972.7 1462.5 3971.6 1465.4 3971.2 1468.2 3971.3 1471 3972 1473.5 3973.3Z M1418.7 3996.4 L1420.2 3994.1 1422.2 3992.1 1424.6 3990.6 1425 3990.3 1425.2 3989.8 1425.2 3989.4 1425 3989 1424.7 3988.6 1424.3 3988.4 1423.9 3988.4 1423.4 3988.5 1409.6 3995.6 1409.2 3995.9 1409 3996.3 1408.9 3996.8 1409.1 3997.2 1412.3 4003 1416.6 4010.8 1416.9 4011.2 1417.3 4011.4 1417.8 4011.4 1418.2 4011.3 1418.6 4011 1418.8 4010.6 1418.9 4010.2 1418.8 4009.8 1417.6 4007.1 1417.1 4004.4 1417.1 4001.6 1417.6 3998.9 1418.7 3996.4Z M1339.2 4040.7 L1341.4 4042.1 1343.2 4044 1344.8 4046.3 1345.1 4046.6 1345.6 4046.7 1346 4046.8 1346.4 4046.6 1346.8 4046.3 1347 4045.9 1347 4045.4 1346.8 4045 1344.5 4040.7 1339.8 4032.4 1339.5 4032 1339.1 4031.8 1338.7 4031.8 1338.2 4031.9 1325.3 4038.4 1325 4038.7 1324.8 4039.1 1324.7 4039.6 1324.8 4040 1325.1 4040.4 1325.4 4040.6 1325.9 4040.7 1326.3 4040.6 1328.9 4039.6 1331.5 4039.1 1334.1 4039.2 1336.7 4039.7 1339.2 4040.7Z M1317.3 3490.1 L1314.7 3491.1 1312 3491.5 1309.2 3491.4 1306.5 3490.8 1303.9 3489.6 1303.5 3489.5 1303 3489.6 1302.6 3489.8 1302.3 3490.1 1302.2 3490.6 1302.3 3491 1302.5 3491.4 1302.8 3491.7 1323.2 3503.7 1323.6 3503.9 1324.1 3503.8 1324.5 3503.6 1324.8 3503.2 1325 3502.8 1325.6 3495.8 1325.6 3495.6 1326.5 3485.8 1326.5 3485.6 1327.1 3479.4 1327.1 3478.9 1326.9 3478.5 1326.5 3478.2 1326.1 3478.1 1325.7 3478.1 1325.3 3478.3 1324.9 3478.6 1324.8 3479 1324.2 3481.8 1323.1 3484.4 1321.6 3486.7 1319.6 3488.6 1317.3 3490.1Z M1316 4047.2 L1318 4045.2 1320.5 4043.6 1320.9 4043.3 1321.1 4042.8 1321.1 4042.4 1320.9 4042 1320.6 4041.6 1320.2 4041.4 1319.8 4041.4 1319.3 4041.5 1304.8 4048.9 1304.4 4049.2 1304.2 4049.7 1304.1 4050.1 1304.3 4050.6 1311.5 4062.2 1312.9 4064.5 1313.2 4064.8 1313.6 4065 1314.1 4065 1314.5 4064.9 1314.9 4064.6 1315.1 4064.2 1315.1 4063.8 1315 4063.3 1313.7 4060.6 1313 4057.9 1312.9 4055 1313.4 4052.2 1314.4 4049.6 1316 4047.2Z M1238.2 4096.3 L1240 4098.7 1240.3 4099 1240.8 4099.1 1241.2 4099.1 1241.6 4098.9 1242 4098.6 1242.1 4098.2 1242.1 4097.7 1242 4097.3 1234.8 4085.8 1234.5 4085.4 1234.1 4085.2 1233.7 4085.2 1233.2 4085.3 1226.6 4088.7 1226.4 4088.8 1221.3 4091.2 1220.9 4091.5 1220.7 4091.9 1220.6 4092.3 1220.7 4092.7 1221 4093.1 1221.3 4093.4 1221.8 4093.5 1222.2 4093.4 1225 4092.4 1227.9 4092.1 1230.7 4092.3 1233.5 4093.1 1236 4094.5 1238.2 4096.3Z M3833.6 3422.3 L3832.6 3419.8 3832.1 3417 3832 3416.6 3831.7 3416.2 3831.3 3416 3830.8 3416 3830.4 3416.1 3830 3416.4 3829.8 3416.8 3829.8 3417.3 3830.4 3426.2 3830.4 3426.5 3830.7 3430.9 3830.9 3431.3 3831.2 3431.7 3831.6 3431.9 3832.1 3432 3835.7 3431.6 3836.1 3431.6 3836.6 3431.6 3843.8 3432.2 3843.9 3432.2 3844.3 3432.1 3844.7 3431.9 3845 3431.6 3845.2 3431.2 3845.2 3430.7 3845 3430.3 3844.7 3430 3844.3 3429.8 3841.5 3429.2 3839.1 3428.1 3836.9 3426.5 3835 3424.6 3833.6 3422.3Z M3781 4068.8 L3783.8 4068.6 3786.6 4069.1 3789.4 4070.2 3789.9 4070.3 3790.3 4070.2 3790.7 4069.9 3791 4069.5 3791.1 4069.1 3791 4068.7 3790.8 4068.3 3790.4 4068 3775.8 4060.5 3775.3 4060.3 3774.8 4060.4 3774.4 4060.7 3774.1 4061.1 3770.1 4071.2 3768 4076.4 3767.9 4076.8 3768 4077.2 3768.2 4077.6 3768.6 4077.9 3769 4078 3769.5 4077.9 3769.9 4077.7 3770.1 4077.4 3771.5 4074.7 3773.4 4072.5 3775.6 4070.7 3778.2 4069.5 3781 4068.8Z M3692.2 3495 L3689.8 3493.5 3687.8 3491.4 3686.3 3489 3685.3 3486.4 3684.9 3483.4 3684.7 3483 3684.4 3482.7 3684 3482.5 3683.6 3482.4 3683.1 3482.6 3682.8 3482.8 3682.6 3483.2 3682.5 3483.7 3682.7 3487.3 3682.7 3487.5 3683.1 3497.5 3683.6 3508.7 3683.7 3509.2 3684 3509.5 3684.5 3509.8 3685 3509.8 3685.4 3509.7 3707 3496.8 3707.3 3496.5 3707.5 3496.1 3707.6 3495.6 3707.4 3495.2 3707.1 3494.8 3706.8 3494.6 3706.3 3494.6 3705.9 3494.7 3703.2 3495.9 3700.4 3496.6 3697.6 3496.6 3694.8 3496.1 3692.2 3495Z M3698.5 4032.1 L3698.3 4034.6 3697.5 4037.2 3697.5 4037.6 3697.6 4038.1 3697.9 4038.4 3698.3 4038.7 3698.7 4038.7 3699.2 4038.6 3699.5 4038.3 3699.8 4038 3704.9 4025.3 3705 4024.8 3704.9 4024.4 3704.7 4024 3704.3 4023.8 3692.1 4017.5 3691.7 4017.4 3691.3 4017.4 3690.8 4017.6 3690.5 4018 3690.4 4018.4 3690.4 4018.9 3690.6 4019.3 3690.9 4019.6 3693.2 4021 3695 4022.8 3696.6 4024.8 3697.7 4027.1 3698.3 4029.6 3698.5 4032.1Z M3668.9 4013.1 L3671.6 4012.5 3674.4 4012.4 3677.2 4012.8 3679.9 4013.9 3680.3 4014 3680.8 4013.9 3681.2 4013.7 3681.4 4013.3 3681.5 4012.8 3681.5 4012.4 3681.2 4012 3680.9 4011.7 3666.8 4004.5 3666.3 4004.4 3665.8 4004.4 3665.4 4004.7 3665.1 4005.1 3661.2 4014 3658.7 4019.6 3658.6 4020 3658.6 4020.4 3658.9 4020.8 3659.2 4021.1 3659.7 4021.2 3660.1 4021.2 3660.5 4021 3660.8 4020.6 3662.3 4018.1 3664.1 4016 3666.3 4014.3 3668.9 4013.1Z M3582.4 3561.1 L3580.1 3559.7 3578.1 3557.8 3576.4 3555.4 3576.1 3555.1 3575.7 3555 3575.2 3555 3574.8 3555.1 3574.5 3555.4 3574.3 3555.8 3574.3 3556.3 3574.4 3556.7 3576.7 3560.8 3582 3570.1 3582.3 3570.4 3582.7 3570.6 3583.2 3570.6 3583.6 3570.5 3596.8 3562.6 3597.1 3562.3 3597.3 3561.9 3597.4 3561.5 3597.2 3561 3597 3560.7 3596.6 3560.5 3596.1 3560.4 3595.7 3560.5 3593.1 3561.7 3590.4 3562.4 3587.7 3562.5 3585 3562.1 3582.4 3561.1Z M3589.1 3973.7 L3589.2 3976.4 3588.9 3978.9 3588 3981.5 3588 3982 3588.1 3982.4 3588.3 3982.8 3588.7 3983 3589.2 3983.1 3589.6 3983 3590 3982.8 3590.3 3982.4 3596 3969.4 3596.1 3969 3596.1 3968.5 3595.8 3968.2 3595.5 3967.9 3582.9 3961.4 3582.4 3961.3 3582 3961.3 3581.6 3961.5 3581.3 3961.9 3581.1 3962.3 3581.1 3962.7 3581.3 3963.2 3581.7 3963.5 3584 3964.9 3585.9 3966.7 3587.4 3968.9 3588.5 3971.2 3589.1 3973.7Z M3536.1 3946.6 L3538.5 3945.6 3541.1 3945.1 3543.7 3945.1 3546.3 3945.6 3548.8 3946.6 3549.3 3946.7 3549.7 3946.6 3550.1 3946.4 3550.4 3946 3550.5 3945.6 3550.4 3945.1 3550.2 3944.7 3549.8 3944.4 3534.4 3936.5 3533.9 3936.4 3533.4 3936.4 3533 3936.7 3532.7 3937.2 3530.2 3944.6 3527.1 3953.6 3527 3954.1 3527.1 3954.5 3527.4 3954.9 3527.8 3955.1 3528.2 3955.2 3528.7 3955.1 3529.1 3954.9 3529.3 3954.5 3530.5 3952 3532 3949.9 3533.9 3948 3536.1 3946.6Z M3505.1 3613.4 L3503.3 3615.4 3501 3617.1 3500.7 3617.4 3500.5 3617.8 3500.6 3618.3 3500.7 3618.7 3501 3619 3501.5 3619.2 3501.9 3619.2 3502.3 3619.1 3514.9 3611.5 3515.3 3611.2 3515.5 3610.8 3515.5 3610.3 3515.4 3609.9 3509.3 3599.2 3508.1 3597.1 3507.8 3596.8 3507.4 3596.6 3507 3596.5 3506.5 3596.7 3506.2 3596.9 3505.9 3597.3 3505.9 3597.8 3506 3598.2 3507.1 3600.8 3507.7 3603.4 3507.8 3606 3507.4 3608.7 3506.4 3611.2 3505.1 3613.4Z M3457.2 3909.8 L3456.6 3912.6 3456.5 3913.1 3456.7 3913.5 3457 3913.8 3457.4 3914 3457.9 3914.1 3458.3 3913.9 3458.6 3913.7 3458.9 3913.3 3463 3901 3463.1 3900.6 3463 3900.2 3462.8 3899.8 3462.4 3899.5 3450.9 3893.6 3450.5 3893.5 3450 3893.5 3449.6 3893.8 3449.3 3894.1 3449.2 3894.5 3449.2 3895 3449.4 3895.4 3449.7 3895.7 3452.2 3897.3 3454.2 3899.3 3455.7 3901.6 3456.8 3904.2 3457.3 3907 3457.2 3909.8Z"/>
</g>
<text x="2315" y="653" font-size="83.1" textLength="93" lengthAdjust="spacingAndGlyphs" font-weight="bold">64</text>
<text x="2468" y="653" font-size="83.1" textLength="68" lengthAdjust="spacingAndGlyphs" font-weight="bold">61</text>
<text x="2600" y="653" font-size="83.1" textLength="88" lengthAdjust="spacingAndGlyphs" font-weight="bold">63</text>
<text x="2327" y="961" font-size="82.8" textLength="88" lengthAdjust="spacingAndGlyphs" font-weight="bold">47</text>
<text x="2467" y="961" font-size="81.7" textLength="89" lengthAdjust="spacingAndGlyphs" font-weight="bold">24</text>
<text x="2630" y="961" font-size="82.8" textLength="44" lengthAdjust="spacingAndGlyphs" font-weight="bold">4</text>
<text x="2335" y="1179" font-size="81.4" textLength="70" lengthAdjust="spacingAndGlyphs" font-weight="bold">17</text>
<text x="2625" y="1179" font-size="81.4" textLength="51" lengthAdjust="spacingAndGlyphs" font-weight="bold">11</text>
<text x="2467" y="1389" font-size="78.8" textLength="88" lengthAdjust="spacingAndGlyphs" font-weight="bold">43</text>
<text x="2330" y="1818" font-size="81.7" textLength="86" lengthAdjust="spacingAndGlyphs" font-weight="bold">62</text>
<text x="2470" y="1818" font-size="81.7" textLength="83" lengthAdjust="spacingAndGlyphs" font-weight="bold">23</text>
<text x="2610" y="1818" font-size="81.7" textLength="89" lengthAdjust="spacingAndGlyphs" font-weight="bold">56</text>
<text x="2266" y="1924" font-size="78.8" textLength="73" lengthAdjust="spacingAndGlyphs" font-weight="bold">16</text>
<text x="2266" y="2084" font-size="78.8" textLength="88" lengthAdjust="spacingAndGlyphs" font-weight="bold">20</text>
<text x="2706" y="1950" font-size="77.4" textLength="88" lengthAdjust="spacingAndGlyphs" font-weight="bold">35</text>
<text x="2729" y="2094" font-size="78.8" textLength="67" lengthAdjust="spacingAndGlyphs" font-weight="bold">12</text>
<text x="2703" y="2237" font-size="82.8" textLength="91" lengthAdjust="spacingAndGlyphs" font-weight="bold">45</text>
<text x="2338" y="2281" font-size="80.2" textLength="65" lengthAdjust="spacingAndGlyphs" font-weight="bold">31</text>
<text x="2492" y="2281" font-size="80.2" textLength="39" lengthAdjust="spacingAndGlyphs" font-weight="bold">8</text>
<text x="2609" y="2281" font-size="80.2" textLength="84" lengthAdjust="spacingAndGlyphs" font-weight="bold">33</text>
<text x="2505" y="2522" font-size="78.5" textLength="24" lengthAdjust="spacingAndGlyphs" font-weight="bold">1</text>
<text x="2367" y="2645" font-size="78.5" textLength="37" lengthAdjust="spacingAndGlyphs" font-weight="bold">7</text>
<text x="2620" y="2647" font-size="80.2" textLength="67" lengthAdjust="spacingAndGlyphs" font-weight="bold">13</text>
<text x="2175" y="2837" font-size="80.2" textLength="71" lengthAdjust="spacingAndGlyphs" font-weight="bold">10</text>
<text x="2784" y="2837" font-size="80.2" textLength="84" lengthAdjust="spacingAndGlyphs" font-weight="bold">25</text>
<text x="2347" y="3027" font-size="82.8" textLength="74" lengthAdjust="spacingAndGlyphs" font-weight="bold">15</text>
<text x="2609" y="3027" font-size="81.7" textLength="95" lengthAdjust="spacingAndGlyphs" font-weight="bold">46</text>
<text x="2502" y="3151" font-size="77.4" textLength="40" lengthAdjust="spacingAndGlyphs" font-weight="bold">2</text>
<text x="3166" y="3037" font-size="75.9" textLength="66" lengthAdjust="spacingAndGlyphs" font-weight="bold">21</text>
<text x="3083" y="3106" font-size="79.9" textLength="68" lengthAdjust="spacingAndGlyphs" font-weight="bold">51</text>
<text x="2912" y="3261" font-size="80.2" textLength="86" lengthAdjust="spacingAndGlyphs" font-weight="bold">26</text>
<text x="3303" y="3352" font-size="77.4" textLength="87" lengthAdjust="spacingAndGlyphs" font-weight="bold">40</text>
<text x="2356" y="3613" font-size="79.9" textLength="40" lengthAdjust="spacingAndGlyphs" font-weight="bold">5</text>
<text x="2486" y="3613" font-size="79.9" textLength="75" lengthAdjust="spacingAndGlyphs" font-weight="bold">14</text>
<text x="2628" y="3613" font-size="78.8" textLength="85" lengthAdjust="spacingAndGlyphs" font-weight="bold">29</text>
<text x="2261" y="3747" font-size="80.2" textLength="91" lengthAdjust="spacingAndGlyphs" font-weight="bold">34</text>
<text x="2266" y="4006" font-size="78.8" textLength="81" lengthAdjust="spacingAndGlyphs" font-weight="bold">27</text>
<text x="2710" y="4006" font-size="78.8" textLength="89" lengthAdjust="spacingAndGlyphs" font-weight="bold">59</text>
<text x="2341" y="4079" font-size="78.8" textLength="89" lengthAdjust="spacingAndGlyphs" font-weight="bold">42</text>
<text x="2511" y="4079" font-size="78.8" textLength="39" lengthAdjust="spacingAndGlyphs" font-weight="bold">3</text>
<text x="2648" y="4079" font-size="78.8" textLength="37" lengthAdjust="spacingAndGlyphs" font-weight="bold">9</text>
<text x="2356" y="4378" font-size="78.8" textLength="87" lengthAdjust="spacingAndGlyphs" font-weight="bold">53</text>
<text x="2487" y="4378" font-size="78.8" textLength="90" lengthAdjust="spacingAndGlyphs" font-weight="bold">60</text>
<text x="2624" y="4378" font-size="78.8" textLength="85" lengthAdjust="spacingAndGlyphs" font-weight="bold">52</text>
<text x="2261" y="4484" font-size="82.8" textLength="94" lengthAdjust="spacingAndGlyphs" font-weight="bold">54</text>
<text x="2267" y="4625" font-size="83.1" textLength="89" lengthAdjust="spacingAndGlyphs" font-weight="bold">38</text>
<text x="2264" y="4768" font-size="84.5" textLength="91" lengthAdjust="spacingAndGlyphs" font-weight="bold">58</text>
<text x="2722" y="4477" font-size="78.8" textLength="70" lengthAdjust="spacingAndGlyphs" font-weight="bold">19</text>
<text x="2710" y="4620" font-size="84.5" textLength="87" lengthAdjust="spacingAndGlyphs" font-weight="bold">39</text>
<text x="2723" y="4763" font-size="82.8" textLength="71" lengthAdjust="spacingAndGlyphs" font-weight="bold">41</text>
<text x="1176" y="3549" font-size="83.1" textLength="93" lengthAdjust="spacingAndGlyphs" font-weight="bold">48</text>
<text x="1305" y="3615" font-size="78.5" textLength="84" lengthAdjust="spacingAndGlyphs" font-weight="bold">57</text>
<text x="1451" y="3706" font-size="81.4" textLength="96" lengthAdjust="spacingAndGlyphs" font-weight="bold">44</text>
<text x="1626" y="3814" font-size="80.2" textLength="91" lengthAdjust="spacingAndGlyphs" font-weight="bold">50</text>
<text x="1464" y="3917" font-size="80.2" textLength="87" lengthAdjust="spacingAndGlyphs" font-weight="bold">32</text>
<text x="1327" y="3998" font-size="80.2" textLength="87" lengthAdjust="spacingAndGlyphs" font-weight="bold">28</text>
<text x="1207" y="4069" font-size="83.1" textLength="75" lengthAdjust="spacingAndGlyphs" font-weight="bold">18</text>
<text x="3769" y="3529" font-size="78.8" textLength="87" lengthAdjust="spacingAndGlyphs" font-weight="bold">36</text>
<text x="3644" y="3615" font-size="80.2" textLength="84" lengthAdjust="spacingAndGlyphs" font-weight="bold">22</text>
<text x="3523" y="3677" font-size="78.8" textLength="83" lengthAdjust="spacingAndGlyphs" font-weight="bold">37</text>
<text x="3345" y="3815" font-size="81.7" textLength="40" lengthAdjust="spacingAndGlyphs" font-weight="bold">6</text>
<text x="3491" y="3906" font-size="80.2" textLength="91" lengthAdjust="spacingAndGlyphs" font-weight="bold">49</text>
<text x="3627" y="3981" font-size="79.9" textLength="90" lengthAdjust="spacingAndGlyphs" font-weight="bold">55</text>
<text x="3745" y="4042" font-size="77.4" textLength="88" lengthAdjust="spacingAndGlyphs" font-weight="bold">30</text>
<text x="2541" y="468" font-size="128.9" textLength="375" lengthAdjust="spacingAndGlyphs" stroke="#000" stroke-width="3.5">KRONE</text>
<text x="2010" y="1062" font-size="127.9" textLength="269" lengthAdjust="spacingAndGlyphs" stroke="#000" stroke-width="3.5">AJNA</text>
<text x="2755" y="1846" font-size="133.2" textLength="282" lengthAdjust="spacingAndGlyphs" stroke="#000" stroke-width="3.5">HALS</text>
<text x="1677" y="2714" font-size="121.4" textLength="667" lengthAdjust="spacingAndGlyphs" stroke="#000" stroke-width="3.5">IDENTITET/G</text>
<text x="3210" y="3192" font-size="120" textLength="652" lengthAdjust="spacingAndGlyphs" stroke="#000" stroke-width="3.5">HJERTE/EGO</text>
<text x="2642" y="3822" font-size="130.4" textLength="420" lengthAdjust="spacingAndGlyphs" stroke="#000" stroke-width="3.5">SAKRAL</text>
<text x="2430" y="4820" font-size="133.2" textLength="243" lengthAdjust="spacingAndGlyphs" stroke="#000" stroke-width="3.5">ROD</text>
<text x="704" y="3820" font-size="128.3" textLength="707" lengthAdjust="spacingAndGlyphs" stroke="#000" stroke-width="3.5">SPLEEN/MILT</text>
<text x="3675" y="3822" font-size="133.2" textLength="823" lengthAdjust="spacingAndGlyphs" stroke="#000" stroke-width="3.5">SOLAR PLEXUS</text>
</svg></body></html>
